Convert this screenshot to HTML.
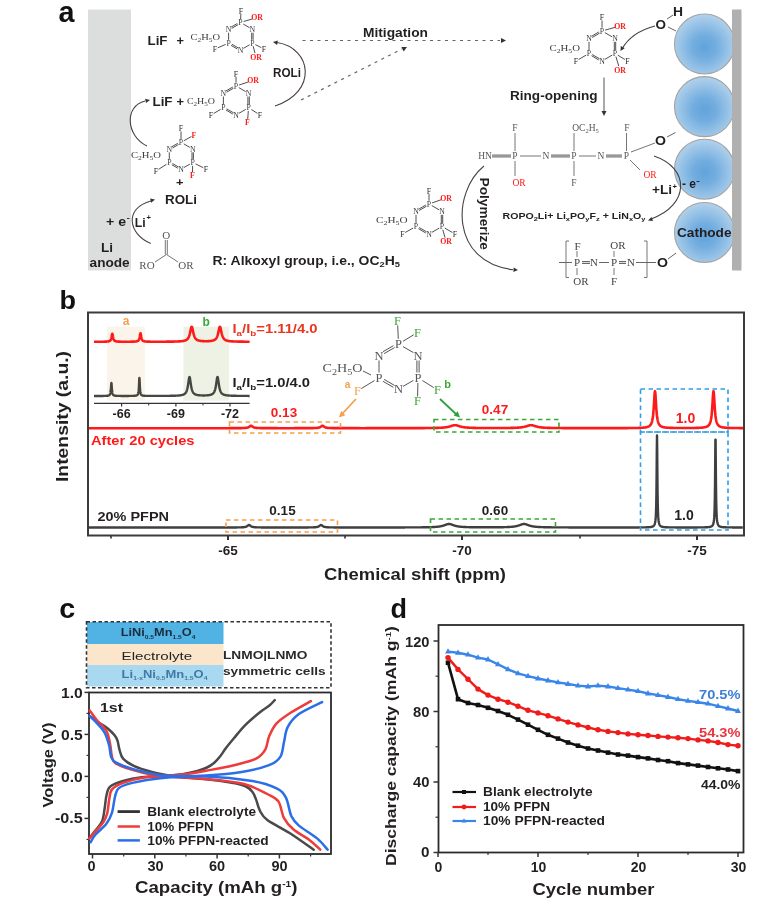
<!DOCTYPE html>
<html><head><meta charset="utf-8"><style>
html,body{margin:0;padding:0;background:#fff;width:784px;height:916px;overflow:hidden}
svg{display:block;filter:blur(0.45px)}
</style></head><body>
<svg width="784" height="916" viewBox="0 0 784 916">
<rect width="784" height="916" fill="#fff"/>
<text x="58.6" y="22.4" font-family="Liberation Sans" font-size="30" font-weight="bold" fill="#111" textLength="16" lengthAdjust="spacingAndGlyphs">a</text>
<rect x="88" y="9.6" width="43" height="260.8" fill="#dcdddd"/>
<text x="101.0" y="252.0" font-family="Liberation Sans" font-size="13" font-weight="bold" fill="#231f20" textLength="12.0" lengthAdjust="spacingAndGlyphs" >Li</text>
<text x="89.6" y="267.0" font-family="Liberation Sans" font-size="13" font-weight="bold" fill="#231f20" textLength="40.1" lengthAdjust="spacingAndGlyphs" >anode</text>
<text x="106.0" y="225.8" font-family="Liberation Sans" font-size="12" font-weight="bold" fill="#231f20" textLength="20.0" lengthAdjust="spacingAndGlyphs" >+ e</text>
<text x="126.5" y="219.5" font-family="Liberation Sans" font-size="7" font-weight="bold" fill="#231f20" textLength="3.5" lengthAdjust="spacingAndGlyphs" >-</text>
<text x="134.8" y="226.8" font-family="Liberation Sans" font-size="12.5" font-weight="bold" fill="#231f20" textLength="10.9" lengthAdjust="spacingAndGlyphs" >Li</text>
<text x="146.5" y="219.5" font-family="Liberation Sans" font-size="7" font-weight="bold" fill="#231f20" textLength="4.5" lengthAdjust="spacingAndGlyphs" >+</text>
<path d="M150.8,243.4 C128,234 124,208 151,201" stroke="#4a4040" stroke-width="1.1" fill="none" />
<polygon points="155.0,199.5 151.2,202.8 150.1,198.4" fill="#333"/>
<text x="165.0" y="203.7" font-family="Liberation Sans" font-size="13" font-weight="bold" fill="#231f20" textLength="32.0" lengthAdjust="spacingAndGlyphs" >ROLi</text>
<text x="176.0" y="186.1" font-family="Liberation Sans" font-size="11.5" font-weight="bold" fill="#231f20" textLength="7.5" lengthAdjust="spacingAndGlyphs" >+</text>
<text x="147.0" y="268.7" text-anchor="middle" font-family="Liberation Serif" font-size="11" font-weight="normal" fill="#555">RO</text>
<text x="186.0" y="268.7" text-anchor="middle" font-family="Liberation Serif" font-size="11" font-weight="normal" fill="#555">OR</text>
<text x="166.2" y="239.0" text-anchor="middle" font-family="Liberation Serif" font-size="11" font-weight="normal" fill="#555">O</text>
<line x1="155.0" y1="262.0" x2="166.5" y2="254.5" stroke="#666" stroke-width="0.9" />
<line x1="166.5" y1="254.5" x2="178.0" y2="262.0" stroke="#666" stroke-width="0.9" />
<line x1="165.3" y1="240.0" x2="165.3" y2="254.5" stroke="#666" stroke-width="0.9" />
<line x1="167.3" y1="240.0" x2="167.3" y2="254.5" stroke="#666" stroke-width="0.9" />
<line x1="177.8" y1="143.3" x2="171.8" y2="146.8" stroke="#3c3c3c" stroke-width="0.9" />
<line x1="178.5" y1="144.5" x2="172.5" y2="148.0" stroke="#3c3c3c" stroke-width="0.9" />
<line x1="183.8" y1="143.9" x2="189.9" y2="147.4" stroke="#3c3c3c" stroke-width="0.9" />
<line x1="192.0" y1="152.3" x2="192.0" y2="159.2" stroke="#3c3c3c" stroke-width="0.9" />
<line x1="193.4" y1="152.3" x2="193.4" y2="159.2" stroke="#3c3c3c" stroke-width="0.9" />
<line x1="189.9" y1="164.1" x2="183.8" y2="167.6" stroke="#3c3c3c" stroke-width="0.9" />
<line x1="178.5" y1="167.0" x2="172.5" y2="163.5" stroke="#3c3c3c" stroke-width="0.9" />
<line x1="177.8" y1="168.2" x2="171.8" y2="164.7" stroke="#3c3c3c" stroke-width="0.9" />
<line x1="169.3" y1="159.2" x2="169.3" y2="152.3" stroke="#3c3c3c" stroke-width="0.9" />
<text x="181.0" y="144.9" text-anchor="middle" font-family="Liberation Serif" font-size="7.8" font-weight="normal" fill="#3c3c3c">P</text>
<text x="169.3" y="151.7" text-anchor="middle" font-family="Liberation Serif" font-size="7.8" font-weight="normal" fill="#3c3c3c">N</text>
<text x="192.7" y="151.7" text-anchor="middle" font-family="Liberation Serif" font-size="7.8" font-weight="normal" fill="#3c3c3c">N</text>
<text x="169.3" y="165.2" text-anchor="middle" font-family="Liberation Serif" font-size="7.8" font-weight="normal" fill="#3c3c3c">P</text>
<text x="181.0" y="171.9" text-anchor="middle" font-family="Liberation Serif" font-size="7.8" font-weight="normal" fill="#3c3c3c">N</text>
<text x="192.7" y="165.2" text-anchor="middle" font-family="Liberation Serif" font-size="7.8" font-weight="normal" fill="#3c3c3c">P</text>
<line x1="181.0" y1="139.0" x2="181.0" y2="131.5" stroke="#3c3c3c" stroke-width="0.9" />
<text x="181.0" y="131.2" text-anchor="middle" font-family="Liberation Serif" font-size="7.8" font-weight="normal" fill="#231f20">F</text>
<line x1="183.9" y1="140.7" x2="191.4" y2="136.5" stroke="#3c3c3c" stroke-width="0.9" />
<text x="194.0" y="137.7" text-anchor="middle" font-family="Liberation Serif" font-size="7.8" font-weight="bold" fill="#ff1a1a">F</text>
<line x1="166.5" y1="164.3" x2="158.5" y2="169.4" stroke="#3c3c3c" stroke-width="0.9" />
<text x="156.0" y="173.7" text-anchor="middle" font-family="Liberation Serif" font-size="7.8" font-weight="normal" fill="#231f20">F</text>
<line x1="192.6" y1="165.8" x2="192.5" y2="172.0" stroke="#3c3c3c" stroke-width="0.9" />
<text x="192.5" y="177.7" text-anchor="middle" font-family="Liberation Serif" font-size="7.8" font-weight="bold" fill="#ff1a1a">F</text>
<line x1="195.6" y1="163.9" x2="203.3" y2="167.7" stroke="#3c3c3c" stroke-width="0.9" />
<text x="206.0" y="171.7" text-anchor="middle" font-family="Liberation Serif" font-size="7.8" font-weight="normal" fill="#231f20">F</text>
<text x="131.0" y="158.0" font-family="Liberation Serif" font-size="8.5" font-weight="normal" fill="#3c3c3c" textLength="30.0" lengthAdjust="spacingAndGlyphs" >C<tspan font-size="6" dy="1.5">2</tspan><tspan dy="-1.5">H</tspan><tspan font-size="6" dy="1.5">5</tspan><tspan dy="-1.5">O</tspan></text>
<path d="M150,245 C150,245 150,245 150,245" stroke="none" stroke-width="1" fill="none" />
<path d="M147,146 C126,136 124,106 145,101" stroke="#4a4040" stroke-width="1.1" fill="none" />
<polygon points="150.0,100.0 146.0,103.1 145.1,98.7" fill="#333"/>
<text x="152.5" y="105.7" font-family="Liberation Sans" font-size="13" font-weight="bold" fill="#231f20" textLength="20.0" lengthAdjust="spacingAndGlyphs" >LiF</text>
<text x="176.5" y="105.8" font-family="Liberation Sans" font-size="12" font-weight="bold" fill="#231f20" textLength="7.5" lengthAdjust="spacingAndGlyphs" >+</text>
<text x="187.0" y="104.0" font-family="Liberation Serif" font-size="8.5" font-weight="normal" fill="#3c3c3c" textLength="28.0" lengthAdjust="spacingAndGlyphs" >C<tspan font-size="6" dy="1.5">2</tspan><tspan dy="-1.5">H</tspan><tspan font-size="6" dy="1.5">5</tspan><tspan dy="-1.5">O</tspan></text>
<line x1="232.8" y1="87.0" x2="225.9" y2="91.0" stroke="#3c3c3c" stroke-width="0.9" />
<line x1="233.5" y1="88.2" x2="226.6" y2="92.2" stroke="#3c3c3c" stroke-width="0.9" />
<line x1="238.8" y1="87.6" x2="245.7" y2="91.6" stroke="#3c3c3c" stroke-width="0.9" />
<line x1="247.9" y1="96.5" x2="247.9" y2="104.5" stroke="#3c3c3c" stroke-width="0.9" />
<line x1="249.3" y1="96.5" x2="249.3" y2="104.5" stroke="#3c3c3c" stroke-width="0.9" />
<line x1="245.7" y1="109.4" x2="238.8" y2="113.4" stroke="#3c3c3c" stroke-width="0.9" />
<line x1="233.5" y1="112.8" x2="226.6" y2="108.8" stroke="#3c3c3c" stroke-width="0.9" />
<line x1="232.8" y1="114.0" x2="225.9" y2="110.0" stroke="#3c3c3c" stroke-width="0.9" />
<line x1="223.4" y1="104.5" x2="223.4" y2="96.5" stroke="#3c3c3c" stroke-width="0.9" />
<text x="236.0" y="88.7" text-anchor="middle" font-family="Liberation Serif" font-size="7.8" font-weight="normal" fill="#3c3c3c">P</text>
<text x="223.4" y="95.9" text-anchor="middle" font-family="Liberation Serif" font-size="7.8" font-weight="normal" fill="#3c3c3c">N</text>
<text x="248.6" y="95.9" text-anchor="middle" font-family="Liberation Serif" font-size="7.8" font-weight="normal" fill="#3c3c3c">N</text>
<text x="223.4" y="110.4" text-anchor="middle" font-family="Liberation Serif" font-size="7.8" font-weight="normal" fill="#3c3c3c">P</text>
<text x="236.0" y="117.7" text-anchor="middle" font-family="Liberation Serif" font-size="7.8" font-weight="normal" fill="#3c3c3c">N</text>
<text x="248.6" y="110.4" text-anchor="middle" font-family="Liberation Serif" font-size="7.8" font-weight="normal" fill="#3c3c3c">P</text>
<line x1="236.0" y1="82.7" x2="236.0" y2="77.0" stroke="#3c3c3c" stroke-width="0.9" />
<text x="236.0" y="76.7" text-anchor="middle" font-family="Liberation Serif" font-size="7.8" font-weight="normal" fill="#231f20">F</text>
<line x1="239.1" y1="85.0" x2="248.2" y2="82.0" stroke="#3c3c3c" stroke-width="0.9" />
<text x="253.0" y="83.2" text-anchor="middle" font-family="Liberation Serif" font-size="7.8" font-weight="bold" fill="#ff1a1a">OR</text>
<line x1="220.6" y1="109.4" x2="213.6" y2="113.5" stroke="#3c3c3c" stroke-width="0.9" />
<text x="211.0" y="117.7" text-anchor="middle" font-family="Liberation Serif" font-size="7.8" font-weight="normal" fill="#231f20">F</text>
<line x1="248.3" y1="111.0" x2="247.7" y2="119.5" stroke="#3c3c3c" stroke-width="0.9" />
<text x="247.5" y="125.2" text-anchor="middle" font-family="Liberation Serif" font-size="7.8" font-weight="bold" fill="#ff1a1a">F</text>
<line x1="251.3" y1="109.5" x2="257.5" y2="113.4" stroke="#3c3c3c" stroke-width="0.9" />
<text x="260.0" y="117.7" text-anchor="middle" font-family="Liberation Serif" font-size="7.8" font-weight="normal" fill="#231f20">F</text>
<text x="147.5" y="44.7" font-family="Liberation Sans" font-size="13" font-weight="bold" fill="#231f20" textLength="20.0" lengthAdjust="spacingAndGlyphs" >LiF</text>
<text x="176.5" y="44.8" font-family="Liberation Sans" font-size="12" font-weight="bold" fill="#231f20" textLength="7.5" lengthAdjust="spacingAndGlyphs" >+</text>
<text x="190.5" y="40.0" font-family="Liberation Serif" font-size="8.5" font-weight="normal" fill="#3c3c3c" textLength="29.5" lengthAdjust="spacingAndGlyphs" >C<tspan font-size="6" dy="1.5">2</tspan><tspan dy="-1.5">H</tspan><tspan font-size="6" dy="1.5">5</tspan><tspan dy="-1.5">O</tspan></text>
<line x1="237.3" y1="23.5" x2="231.1" y2="27.1" stroke="#3c3c3c" stroke-width="0.9" />
<line x1="238.0" y1="24.7" x2="231.8" y2="28.3" stroke="#3c3c3c" stroke-width="0.9" />
<line x1="243.3" y1="24.1" x2="249.6" y2="27.7" stroke="#3c3c3c" stroke-width="0.9" />
<line x1="251.7" y1="32.7" x2="251.7" y2="39.8" stroke="#3c3c3c" stroke-width="0.9" />
<line x1="253.1" y1="32.7" x2="253.1" y2="39.8" stroke="#3c3c3c" stroke-width="0.9" />
<line x1="249.6" y1="44.8" x2="243.3" y2="48.4" stroke="#3c3c3c" stroke-width="0.9" />
<line x1="238.0" y1="47.8" x2="231.8" y2="44.2" stroke="#3c3c3c" stroke-width="0.9" />
<line x1="237.3" y1="49.0" x2="231.1" y2="45.4" stroke="#3c3c3c" stroke-width="0.9" />
<line x1="228.6" y1="39.8" x2="228.6" y2="32.7" stroke="#3c3c3c" stroke-width="0.9" />
<text x="240.5" y="25.2" text-anchor="middle" font-family="Liberation Serif" font-size="7.8" font-weight="normal" fill="#3c3c3c">P</text>
<text x="228.6" y="32.0" text-anchor="middle" font-family="Liberation Serif" font-size="7.8" font-weight="normal" fill="#3c3c3c">N</text>
<text x="252.4" y="32.0" text-anchor="middle" font-family="Liberation Serif" font-size="7.8" font-weight="normal" fill="#3c3c3c">N</text>
<text x="228.6" y="45.8" text-anchor="middle" font-family="Liberation Serif" font-size="7.8" font-weight="normal" fill="#3c3c3c">P</text>
<text x="240.5" y="52.7" text-anchor="middle" font-family="Liberation Serif" font-size="7.8" font-weight="normal" fill="#3c3c3c">N</text>
<text x="252.4" y="45.8" text-anchor="middle" font-family="Liberation Serif" font-size="7.8" font-weight="normal" fill="#3c3c3c">P</text>
<line x1="240.6" y1="19.2" x2="240.9" y2="14.0" stroke="#3c3c3c" stroke-width="0.9" />
<text x="241.0" y="13.7" text-anchor="middle" font-family="Liberation Serif" font-size="7.8" font-weight="normal" fill="#231f20">F</text>
<line x1="243.6" y1="21.5" x2="252.2" y2="19.0" stroke="#3c3c3c" stroke-width="0.9" />
<text x="257.0" y="20.2" text-anchor="middle" font-family="Liberation Serif" font-size="7.8" font-weight="bold" fill="#ff1a1a">OR</text>
<line x1="225.6" y1="44.4" x2="217.8" y2="47.8" stroke="#3c3c3c" stroke-width="0.9" />
<text x="215.0" y="51.7" text-anchor="middle" font-family="Liberation Serif" font-size="7.8" font-weight="normal" fill="#231f20">F</text>
<line x1="253.2" y1="46.3" x2="255.0" y2="53.1" stroke="#3c3c3c" stroke-width="0.9" />
<text x="256.0" y="59.7" text-anchor="middle" font-family="Liberation Serif" font-size="7.8" font-weight="bold" fill="#ff1a1a">OR</text>
<line x1="255.3" y1="44.6" x2="261.3" y2="47.6" stroke="#3c3c3c" stroke-width="0.9" />
<text x="264.0" y="51.7" text-anchor="middle" font-family="Liberation Serif" font-size="7.8" font-weight="normal" fill="#231f20">F</text>
<path d="M275,106 C318,92 312,48 277,42.5" stroke="#4a4040" stroke-width="1.1" fill="none" />
<polygon points="273.0,42.0 277.8,40.5 277.1,44.9" fill="#333"/>
<text x="273.0" y="76.7" font-family="Liberation Sans" font-size="13" font-weight="bold" fill="#231f20" textLength="28.0" lengthAdjust="spacingAndGlyphs" >ROLi</text>
<line x1="302.5" y1="40.5" x2="500.0" y2="40.5" stroke="#666" stroke-width="1.2" stroke-dasharray="3,4.5"/>
<polygon points="506.0,40.5 501.0,43.0 501.0,38.0" fill="#333"/>
<line x1="301.0" y1="100.0" x2="402.0" y2="49.0" stroke="#666" stroke-width="1.2" stroke-dasharray="3,4.5"/>
<polygon points="407.0,47.0 403.7,51.5 401.4,47.0" fill="#333"/>
<text x="363.0" y="37.3" font-family="Liberation Sans" font-size="13.5" font-weight="bold" fill="#231f20" textLength="65.0" lengthAdjust="spacingAndGlyphs" >Mitigation</text>
<text x="549.5" y="51.0" font-family="Liberation Serif" font-size="8.5" font-weight="normal" fill="#3c3c3c" textLength="30.5" lengthAdjust="spacingAndGlyphs" >C<tspan font-size="6" dy="1.5">2</tspan><tspan dy="-1.5">H</tspan><tspan font-size="6" dy="1.5">5</tspan><tspan dy="-1.5">O</tspan></text>
<line x1="598.8" y1="32.0" x2="591.5" y2="36.3" stroke="#3c3c3c" stroke-width="0.9" />
<line x1="599.5" y1="33.2" x2="592.2" y2="37.5" stroke="#3c3c3c" stroke-width="0.9" />
<line x1="604.8" y1="32.6" x2="612.2" y2="36.9" stroke="#3c3c3c" stroke-width="0.9" />
<line x1="614.3" y1="41.8" x2="614.3" y2="50.2" stroke="#3c3c3c" stroke-width="0.9" />
<line x1="615.7" y1="41.8" x2="615.7" y2="50.2" stroke="#3c3c3c" stroke-width="0.9" />
<line x1="612.2" y1="55.1" x2="604.8" y2="59.4" stroke="#3c3c3c" stroke-width="0.9" />
<line x1="599.5" y1="58.8" x2="592.2" y2="54.5" stroke="#3c3c3c" stroke-width="0.9" />
<line x1="598.8" y1="60.0" x2="591.5" y2="55.7" stroke="#3c3c3c" stroke-width="0.9" />
<line x1="589.0" y1="50.2" x2="589.0" y2="41.8" stroke="#3c3c3c" stroke-width="0.9" />
<text x="602.0" y="33.7" text-anchor="middle" font-family="Liberation Serif" font-size="7.8" font-weight="normal" fill="#3c3c3c">P</text>
<text x="589.0" y="41.2" text-anchor="middle" font-family="Liberation Serif" font-size="7.8" font-weight="normal" fill="#3c3c3c">N</text>
<text x="615.0" y="41.2" text-anchor="middle" font-family="Liberation Serif" font-size="7.8" font-weight="normal" fill="#3c3c3c">N</text>
<text x="589.0" y="56.2" text-anchor="middle" font-family="Liberation Serif" font-size="7.8" font-weight="normal" fill="#3c3c3c">P</text>
<text x="602.0" y="63.7" text-anchor="middle" font-family="Liberation Serif" font-size="7.8" font-weight="normal" fill="#3c3c3c">N</text>
<text x="615.0" y="56.2" text-anchor="middle" font-family="Liberation Serif" font-size="7.8" font-weight="normal" fill="#3c3c3c">P</text>
<line x1="602.0" y1="27.7" x2="602.0" y2="20.5" stroke="#3c3c3c" stroke-width="0.9" />
<text x="602.0" y="20.2" text-anchor="middle" font-family="Liberation Serif" font-size="7.8" font-weight="normal" fill="#231f20">F</text>
<line x1="605.2" y1="30.1" x2="615.2" y2="27.3" stroke="#3c3c3c" stroke-width="0.9" />
<text x="620.0" y="28.7" text-anchor="middle" font-family="Liberation Serif" font-size="7.8" font-weight="bold" fill="#ff1a1a">OR</text>
<line x1="586.2" y1="55.1" x2="578.6" y2="59.5" stroke="#3c3c3c" stroke-width="0.9" />
<text x="576.0" y="63.7" text-anchor="middle" font-family="Liberation Serif" font-size="7.8" font-weight="normal" fill="#231f20">F</text>
<line x1="615.9" y1="56.6" x2="618.8" y2="66.2" stroke="#3c3c3c" stroke-width="0.9" />
<text x="620.0" y="72.7" text-anchor="middle" font-family="Liberation Serif" font-size="7.8" font-weight="bold" fill="#ff1a1a">OR</text>
<line x1="617.8" y1="55.2" x2="624.9" y2="59.5" stroke="#3c3c3c" stroke-width="0.9" />
<text x="627.5" y="63.7" text-anchor="middle" font-family="Liberation Serif" font-size="7.8" font-weight="normal" fill="#231f20">F</text>
<text x="655.5" y="28.7" font-family="Liberation Sans" font-size="13" font-weight="bold" fill="#231f20" textLength="10.5" lengthAdjust="spacingAndGlyphs" >O</text>
<text x="673.0" y="15.7" font-family="Liberation Sans" font-size="13" font-weight="bold" fill="#231f20" textLength="10.0" lengthAdjust="spacingAndGlyphs" >H</text>
<line x1="667.0" y1="19.0" x2="673.0" y2="15.0" stroke="#555" stroke-width="0.9" />
<path d="M655,26 C640,30 628,38 622,49" stroke="#4a4040" stroke-width="1.1" fill="none" />
<polygon points="620.5,51.0 620.8,46.0 624.7,48.3" fill="#333"/>
<text x="510.0" y="99.7" font-family="Liberation Sans" font-size="13" font-weight="bold" fill="#231f20" textLength="87.5" lengthAdjust="spacingAndGlyphs" >Ring-opening</text>
<line x1="604.0" y1="77.5" x2="604.0" y2="111.0" stroke="#555" stroke-width="1" />
<polygon points="604.0,116.0 601.5,111.0 606.5,111.0" fill="#333"/>
<text x="485.0" y="159.2" text-anchor="middle" font-family="Liberation Serif" font-size="9.5" font-weight="normal" fill="#555">HN</text>
<line x1="492.0" y1="156.9" x2="511.0" y2="156.9" stroke="#555" stroke-width="1" />
<line x1="492.0" y1="155.1" x2="511.0" y2="155.1" stroke="#555" stroke-width="1" />
<text x="515.0" y="159.2" text-anchor="middle" font-family="Liberation Serif" font-size="9.5" font-weight="normal" fill="#555">P</text>
<line x1="515.0" y1="133.0" x2="515.0" y2="151.0" stroke="#666" stroke-width="0.9" />
<text x="515.0" y="130.7" text-anchor="middle" font-family="Liberation Serif" font-size="9.5" font-weight="normal" fill="#555">F</text>
<line x1="515.0" y1="161.0" x2="515.0" y2="176.0" stroke="#666" stroke-width="0.9" />
<text x="519.0" y="185.7" text-anchor="middle" font-family="Liberation Serif" font-size="9.5" font-weight="normal" fill="#ff1a1a">OR</text>
<line x1="520.0" y1="156.0" x2="541.0" y2="156.0" stroke="#666" stroke-width="0.9" />
<text x="546.0" y="159.2" text-anchor="middle" font-family="Liberation Serif" font-size="9.5" font-weight="normal" fill="#555">N</text>
<line x1="551.0" y1="156.9" x2="570.0" y2="156.9" stroke="#555" stroke-width="1" />
<line x1="551.0" y1="155.1" x2="570.0" y2="155.1" stroke="#555" stroke-width="1" />
<text x="574.0" y="159.2" text-anchor="middle" font-family="Liberation Serif" font-size="9.5" font-weight="normal" fill="#555">P</text>
<line x1="574.0" y1="133.0" x2="574.0" y2="151.0" stroke="#666" stroke-width="0.9" />
<text x="585.5" y="131.2" text-anchor="middle" font-family="Liberation Serif" font-size="9.5" font-weight="normal" fill="#555">OC<tspan font-size="6.5" dy="1.5">2</tspan><tspan dy="-1.5">H</tspan><tspan font-size="6.5" dy="1.5">5</tspan></text>
<line x1="574.0" y1="161.0" x2="574.0" y2="176.0" stroke="#666" stroke-width="0.9" />
<text x="574.0" y="185.7" text-anchor="middle" font-family="Liberation Serif" font-size="9.5" font-weight="normal" fill="#555">F</text>
<line x1="579.0" y1="156.0" x2="596.0" y2="156.0" stroke="#666" stroke-width="0.9" />
<text x="601.0" y="159.2" text-anchor="middle" font-family="Liberation Serif" font-size="9.5" font-weight="normal" fill="#555">N</text>
<line x1="606.0" y1="156.9" x2="622.0" y2="156.9" stroke="#555" stroke-width="1" />
<line x1="606.0" y1="155.1" x2="622.0" y2="155.1" stroke="#555" stroke-width="1" />
<text x="626.5" y="159.2" text-anchor="middle" font-family="Liberation Serif" font-size="9.5" font-weight="normal" fill="#555">P</text>
<line x1="626.5" y1="133.0" x2="626.5" y2="151.0" stroke="#666" stroke-width="0.9" />
<text x="627.0" y="131.2" text-anchor="middle" font-family="Liberation Serif" font-size="9.5" font-weight="normal" fill="#555">F</text>
<line x1="630.0" y1="160.0" x2="640.0" y2="170.0" stroke="#666" stroke-width="0.9" />
<text x="650.0" y="178.2" text-anchor="middle" font-family="Liberation Serif" font-size="9.5" font-weight="normal" fill="#ff1a1a">OR</text>
<line x1="631.0" y1="152.0" x2="655.0" y2="143.0" stroke="#666" stroke-width="0.9" />
<text x="655.0" y="145.2" font-family="Liberation Sans" font-size="13" font-weight="bold" fill="#231f20" textLength="11.0" lengthAdjust="spacingAndGlyphs" >O</text>
<line x1="667.0" y1="137.0" x2="675.5" y2="132.5" stroke="#555" stroke-width="0.9" />
<text x="502.5" y="219.0" font-family="Liberation Sans" font-size="8.5" font-weight="bold" fill="#231f20" textLength="143.0" lengthAdjust="spacingAndGlyphs" >ROPO<tspan font-size="6" dy="1.5">2</tspan><tspan dy="-1.5">Li+ Li</tspan><tspan font-size="6" dy="1.5">x</tspan><tspan dy="-1.5">PO</tspan><tspan font-size="6" dy="1.5">y</tspan><tspan dy="-1.5">F</tspan><tspan font-size="6" dy="1.5">z</tspan><tspan dy="-1.5"> + LiN</tspan><tspan font-size="6" dy="1.5">x</tspan><tspan dy="-1.5">O</tspan><tspan font-size="6" dy="1.5">y</tspan></text>
<text x="0" y="0" transform="translate(479.5,177.5) rotate(90)" font-family="Liberation Sans" font-size="12" font-weight="bold" fill="#231f20" textLength="72.5" lengthAdjust="spacingAndGlyphs">Polymerize</text>
<path d="M484,166 C452,192 450,262 513,269.8" stroke="#4a4040" stroke-width="1.1" fill="none" />
<polygon points="518.0,270.0 513.4,272.1 513.6,267.6" fill="#333"/>
<text x="376.0" y="223.0" font-family="Liberation Serif" font-size="8.5" font-weight="normal" fill="#3c3c3c" textLength="31.5" lengthAdjust="spacingAndGlyphs" >C<tspan font-size="6" dy="1.5">2</tspan><tspan dy="-1.5">H</tspan><tspan font-size="6" dy="1.5">5</tspan><tspan dy="-1.5">O</tspan></text>
<line x1="425.8" y1="205.0" x2="418.5" y2="209.3" stroke="#3c3c3c" stroke-width="0.9" />
<line x1="426.5" y1="206.2" x2="419.2" y2="210.5" stroke="#3c3c3c" stroke-width="0.9" />
<line x1="431.8" y1="205.6" x2="439.2" y2="209.9" stroke="#3c3c3c" stroke-width="0.9" />
<line x1="441.3" y1="214.8" x2="441.3" y2="223.2" stroke="#3c3c3c" stroke-width="0.9" />
<line x1="442.7" y1="214.8" x2="442.7" y2="223.2" stroke="#3c3c3c" stroke-width="0.9" />
<line x1="439.2" y1="228.1" x2="431.8" y2="232.4" stroke="#3c3c3c" stroke-width="0.9" />
<line x1="426.5" y1="231.8" x2="419.2" y2="227.5" stroke="#3c3c3c" stroke-width="0.9" />
<line x1="425.8" y1="233.0" x2="418.5" y2="228.7" stroke="#3c3c3c" stroke-width="0.9" />
<line x1="416.0" y1="223.2" x2="416.0" y2="214.8" stroke="#3c3c3c" stroke-width="0.9" />
<text x="429.0" y="206.7" text-anchor="middle" font-family="Liberation Serif" font-size="7.8" font-weight="normal" fill="#3c3c3c">P</text>
<text x="416.0" y="214.2" text-anchor="middle" font-family="Liberation Serif" font-size="7.8" font-weight="normal" fill="#3c3c3c">N</text>
<text x="442.0" y="214.2" text-anchor="middle" font-family="Liberation Serif" font-size="7.8" font-weight="normal" fill="#3c3c3c">N</text>
<text x="416.0" y="229.2" text-anchor="middle" font-family="Liberation Serif" font-size="7.8" font-weight="normal" fill="#3c3c3c">P</text>
<text x="429.0" y="236.7" text-anchor="middle" font-family="Liberation Serif" font-size="7.8" font-weight="normal" fill="#3c3c3c">N</text>
<text x="442.0" y="229.2" text-anchor="middle" font-family="Liberation Serif" font-size="7.8" font-weight="normal" fill="#3c3c3c">P</text>
<line x1="429.0" y1="200.7" x2="429.0" y2="194.0" stroke="#3c3c3c" stroke-width="0.9" />
<text x="429.0" y="193.7" text-anchor="middle" font-family="Liberation Serif" font-size="7.8" font-weight="normal" fill="#231f20">F</text>
<line x1="432.1" y1="202.9" x2="441.3" y2="199.7" stroke="#3c3c3c" stroke-width="0.9" />
<text x="446.0" y="200.7" text-anchor="middle" font-family="Liberation Serif" font-size="7.8" font-weight="bold" fill="#ff1a1a">OR</text>
<line x1="413.1" y1="228.1" x2="405.1" y2="232.5" stroke="#3c3c3c" stroke-width="0.9" />
<text x="402.5" y="236.7" text-anchor="middle" font-family="Liberation Serif" font-size="7.8" font-weight="normal" fill="#231f20">F</text>
<line x1="442.8" y1="229.7" x2="445.0" y2="237.6" stroke="#3c3c3c" stroke-width="0.9" />
<text x="446.0" y="244.2" text-anchor="middle" font-family="Liberation Serif" font-size="7.8" font-weight="bold" fill="#ff1a1a">OR</text>
<line x1="444.8" y1="228.1" x2="452.4" y2="232.5" stroke="#3c3c3c" stroke-width="0.9" />
<text x="455.0" y="236.7" text-anchor="middle" font-family="Liberation Serif" font-size="7.8" font-weight="normal" fill="#231f20">F</text>
<text x="212.5" y="265.3" font-family="Liberation Sans" font-size="12" font-weight="bold" fill="#231f20" textLength="187.5" lengthAdjust="spacingAndGlyphs" >R: Alkoxyl group, i.e.,  OC<tspan font-size="8" dy="2">2</tspan><tspan dy="-2">H</tspan><tspan font-size="8" dy="2">5</tspan></text>
<line x1="559.0" y1="262.5" x2="572.0" y2="262.5" stroke="#555" stroke-width="0.9" />
<path d="M569,241 L566,241 L566,277.5 L569,277.5" stroke="#666" stroke-width="0.9" fill="none" />
<text x="577.0" y="266.2" text-anchor="middle" font-family="Liberation Serif" font-size="11" font-weight="normal" fill="#444">P</text>
<line x1="577.0" y1="251.0" x2="577.0" y2="257.0" stroke="#666" stroke-width="0.9" />
<text x="577.5" y="249.7" text-anchor="middle" font-family="Liberation Serif" font-size="11" font-weight="normal" fill="#444">F</text>
<line x1="577.0" y1="268.0" x2="577.0" y2="275.0" stroke="#666" stroke-width="0.9" />
<text x="581.0" y="284.7" text-anchor="middle" font-family="Liberation Serif" font-size="11" font-weight="normal" fill="#444">OR</text>
<line x1="582.0" y1="263.4" x2="590.0" y2="263.4" stroke="#555" stroke-width="1" />
<line x1="582.0" y1="261.6" x2="590.0" y2="261.6" stroke="#555" stroke-width="1" />
<text x="594.0" y="266.2" text-anchor="middle" font-family="Liberation Serif" font-size="11" font-weight="normal" fill="#444">N</text>
<line x1="599.0" y1="262.5" x2="609.0" y2="262.5" stroke="#555" stroke-width="0.9" />
<text x="614.0" y="266.2" text-anchor="middle" font-family="Liberation Serif" font-size="11" font-weight="normal" fill="#444">P</text>
<line x1="614.0" y1="251.0" x2="614.0" y2="257.0" stroke="#666" stroke-width="0.9" />
<text x="618.0" y="248.7" text-anchor="middle" font-family="Liberation Serif" font-size="11" font-weight="normal" fill="#444">OR</text>
<line x1="614.0" y1="268.0" x2="614.0" y2="275.0" stroke="#666" stroke-width="0.9" />
<text x="614.0" y="284.7" text-anchor="middle" font-family="Liberation Serif" font-size="11" font-weight="normal" fill="#444">F</text>
<line x1="619.0" y1="263.4" x2="626.0" y2="263.4" stroke="#555" stroke-width="1" />
<line x1="619.0" y1="261.6" x2="626.0" y2="261.6" stroke="#555" stroke-width="1" />
<text x="631.0" y="266.2" text-anchor="middle" font-family="Liberation Serif" font-size="11" font-weight="normal" fill="#444">N</text>
<line x1="636.0" y1="262.5" x2="656.0" y2="262.5" stroke="#555" stroke-width="0.9" />
<path d="M644,241 L647,241 L647,277.5 L644,277.5" stroke="#666" stroke-width="0.9" fill="none" />
<text x="657.0" y="267.2" font-family="Liberation Sans" font-size="13" font-weight="bold" fill="#231f20" textLength="11.0" lengthAdjust="spacingAndGlyphs" >O</text>
<line x1="668.0" y1="259.0" x2="676.0" y2="253.0" stroke="#555" stroke-width="0.9" />
<defs><radialGradient id="cg" cx="0.5" cy="0.55" r="0.55"><stop offset="0" stop-color="#62a3d8"/><stop offset="0.35" stop-color="#72ade0"/><stop offset="1" stop-color="#b3d2eb"/></radialGradient></defs>
<circle cx="704.5" cy="44" r="30" fill="url(#cg)" stroke="#a3a3a3" stroke-width="1.1"/>
<circle cx="704.5" cy="106.6" r="30" fill="url(#cg)" stroke="#a3a3a3" stroke-width="1.1"/>
<circle cx="704.5" cy="169.2" r="30" fill="url(#cg)" stroke="#a3a3a3" stroke-width="1.1"/>
<circle cx="704.5" cy="232.5" r="30" fill="url(#cg)" stroke="#a3a3a3" stroke-width="1.1"/>
<rect x="732" y="9.5" width="9.5" height="261" fill="#b0b0b0"/>
<line x1="676.0" y1="31.0" x2="668.0" y2="27.0" stroke="#555" stroke-width="0.9" />
<text x="677.0" y="237.0" font-family="Liberation Sans" font-size="12.5" font-weight="bold" fill="#231f20" textLength="54.5" lengthAdjust="spacingAndGlyphs" >Cathode</text>
<path d="M654,156 C690,168 690,205 651,219" stroke="#4a4040" stroke-width="1.1" fill="none" />
<polygon points="648.0,220.5 651.5,216.9 653.0,221.1" fill="#333"/>
<text x="652.0" y="194.3" font-family="Liberation Sans" font-size="12" font-weight="bold" fill="#231f20" textLength="20.0" lengthAdjust="spacingAndGlyphs" >+Li</text>
<text x="672.5" y="188.5" font-family="Liberation Sans" font-size="7" font-weight="bold" fill="#231f20" textLength="4.5" lengthAdjust="spacingAndGlyphs" >+</text>
<text x="682.0" y="188.3" font-family="Liberation Sans" font-size="12" font-weight="bold" fill="#231f20" textLength="14.0" lengthAdjust="spacingAndGlyphs" >- e</text>
<text x="696.0" y="182.5" font-family="Liberation Sans" font-size="7" font-weight="bold" fill="#231f20" textLength="4.0" lengthAdjust="spacingAndGlyphs" >-</text>
<text x="59.6" y="309.3" font-family="Liberation Sans" font-size="26.5" font-weight="bold" fill="#111" textLength="16.5" lengthAdjust="spacingAndGlyphs">b</text>
<rect x="107" y="326.6" width="37.8" height="74" fill="#fbf4ea"/>
<rect x="183.4" y="326.6" width="45.6" height="74" fill="#edf2e4"/>
<rect x="88" y="312.5" width="656" height="223" fill="none" stroke="#3c3c3c" stroke-width="2"/>
<polyline points="94.00,341.77 94.20,341.77 94.40,341.77 94.60,341.77 94.80,341.77 95.00,341.76 95.20,341.76 95.40,341.76 95.60,341.76 95.80,341.76 96.00,341.76 96.20,341.76 96.40,341.76 96.60,341.76 96.80,341.76 97.00,341.76 97.20,341.76 97.40,341.76 97.60,341.76 97.80,341.75 98.00,341.75 98.20,341.75 98.40,341.75 98.60,341.75 98.80,341.75 99.00,341.75 99.20,341.75 99.40,341.75 99.60,341.74 99.80,341.74 100.00,341.74 100.20,341.74 100.40,341.74 100.60,341.74 100.80,341.74 101.00,341.73 101.20,341.73 101.40,341.73 101.60,341.73 101.80,341.73 102.00,341.72 102.20,341.72 102.40,341.72 102.60,341.72 102.80,341.71 103.00,341.71 103.20,341.71 103.40,341.70 103.60,341.70 103.80,341.69 104.00,341.69 104.20,341.68 104.40,341.68 104.60,341.67 104.80,341.67 105.00,341.66 105.20,341.66 105.40,341.65 105.60,341.64 105.80,341.63 106.00,341.62 106.20,341.61 106.40,341.60 106.60,341.59 106.80,341.57 107.00,341.56 107.20,341.54 107.40,341.52 107.60,341.50 107.80,341.47 108.00,341.44 108.20,341.41 108.40,341.38 108.60,341.33 108.80,341.28 109.00,341.23 109.20,341.16 109.40,341.08 109.60,340.98 109.80,340.86 110.00,340.72 110.20,340.54 110.40,340.31 110.60,340.03 110.80,339.66 111.00,339.19 111.20,338.57 111.40,337.78 111.60,336.79 111.80,335.66 112.00,334.58 112.20,333.87 112.40,333.87 112.60,334.58 112.80,335.66 113.00,336.79 113.20,337.78 113.40,338.57 113.60,339.18 113.80,339.66 114.00,340.02 114.20,340.31 114.40,340.53 114.60,340.71 114.80,340.86 115.00,340.97 115.20,341.07 115.40,341.15 115.60,341.22 115.80,341.28 116.00,341.33 116.20,341.37 116.40,341.40 116.60,341.44 116.80,341.46 117.00,341.49 117.20,341.51 117.40,341.53 117.60,341.55 117.80,341.56 118.00,341.58 118.20,341.59 118.40,341.60 118.60,341.61 118.80,341.62 119.00,341.63 119.20,341.63 119.40,341.64 119.60,341.65 119.80,341.65 120.00,341.66 120.20,341.66 120.40,341.67 120.60,341.67 120.80,341.68 121.00,341.68 121.20,341.68 121.40,341.69 121.60,341.69 121.80,341.69 122.00,341.69 122.20,341.70 122.40,341.70 122.60,341.70 122.80,341.70 123.00,341.70 123.20,341.70 123.40,341.70 123.60,341.71 123.80,341.71 124.00,341.71 124.20,341.71 124.40,341.71 124.60,341.71 124.80,341.71 125.00,341.71 125.20,341.71 125.40,341.71 125.60,341.71 125.80,341.71 126.00,341.71 126.20,341.71 126.40,341.71 126.60,341.71 126.80,341.71 127.00,341.71 127.20,341.71 127.40,341.71 127.60,341.71 127.80,341.71 128.00,341.71 128.20,341.71 128.40,341.71 128.60,341.71 128.80,341.70 129.00,341.70 129.20,341.70 129.40,341.70 129.60,341.70 129.80,341.70 130.00,341.69 130.20,341.69 130.40,341.69 130.60,341.69 130.80,341.68 131.00,341.68 131.20,341.68 131.40,341.68 131.60,341.67 131.80,341.67 132.00,341.66 132.20,341.66 132.40,341.66 132.60,341.65 132.80,341.64 133.00,341.64 133.20,341.63 133.40,341.63 133.60,341.62 133.80,341.61 134.00,341.60 134.20,341.59 134.40,341.58 134.60,341.57 134.80,341.55 135.00,341.54 135.20,341.52 135.40,341.50 135.60,341.48 135.80,341.46 136.00,341.43 136.20,341.40 136.40,341.37 136.60,341.33 136.80,341.29 137.00,341.23 137.20,341.17 137.40,341.10 137.60,341.01 137.80,340.91 138.00,340.79 138.20,340.63 138.40,340.44 138.60,340.20 138.80,339.90 139.00,339.51 139.20,339.01 139.40,338.35 139.60,337.51 139.80,336.46 140.00,335.26 140.20,334.11 140.40,333.36 140.60,333.36 140.80,334.11 141.00,335.26 141.20,336.46 141.40,337.51 141.60,338.35 141.80,339.00 142.00,339.51 142.20,339.90 142.40,340.20 142.60,340.44 142.80,340.63 143.00,340.78 143.20,340.91 143.40,341.01 143.60,341.10 143.80,341.17 144.00,341.23 144.20,341.28 144.40,341.33 144.60,341.37 144.80,341.40 145.00,341.43 145.20,341.45 145.40,341.48 145.60,341.50 145.80,341.52 146.00,341.53 146.20,341.55 146.40,341.56 146.60,341.57 146.80,341.58 147.00,341.59 147.20,341.60 147.40,341.61 147.60,341.62 147.80,341.62 148.00,341.63 148.20,341.64 148.40,341.64 148.60,341.65 148.80,341.65 149.00,341.66 149.20,341.66 149.40,341.66 149.60,341.67 149.80,341.67 150.00,341.67 150.20,341.68 150.40,341.68 150.60,341.68 150.80,341.68 151.00,341.68 151.20,341.69 151.40,341.69 151.60,341.69 151.80,341.69 152.00,341.69 152.20,341.69 152.40,341.70 152.60,341.70 152.80,341.70 153.00,341.70 153.20,341.70 153.40,341.70 153.60,341.70 153.80,341.70 154.00,341.70 154.20,341.70 154.40,341.70 154.60,341.70 154.80,341.70 155.00,341.71 155.20,341.71 155.40,341.71 155.60,341.71 155.80,341.71 156.00,341.71 156.20,341.71 156.40,341.71 156.60,341.71 156.80,341.71 157.00,341.71 157.20,341.71 157.40,341.71 157.60,341.71 157.80,341.71 158.00,341.71 158.20,341.71 158.40,341.71 158.60,341.71 158.80,341.71 159.00,341.70 159.20,341.70 159.40,341.70 159.60,341.70 159.80,341.70 160.00,341.70 160.20,341.70 160.40,341.70 160.60,341.70 160.80,341.70 161.00,341.70 161.20,341.70 161.40,341.70 161.60,341.70 161.80,341.70 162.00,341.70 162.20,341.70 162.40,341.70 162.60,341.69 162.80,341.69 163.00,341.69 163.20,341.69 163.40,341.69 163.60,341.69 163.80,341.69 164.00,341.69 164.20,341.69 164.40,341.69 164.60,341.68 164.80,341.68 165.00,341.68 165.20,341.68 165.40,341.68 165.60,341.68 165.80,341.68 166.00,341.68 166.20,341.67 166.40,341.67 166.60,341.67 166.80,341.67 167.00,341.67 167.20,341.67 167.40,341.67 167.60,341.66 167.80,341.66 168.00,341.66 168.20,341.66 168.40,341.66 168.60,341.65 168.80,341.65 169.00,341.65 169.20,341.65 169.40,341.65 169.60,341.64 169.80,341.64 170.00,341.64 170.20,341.64 170.40,341.63 170.60,341.63 170.80,341.63 171.00,341.63 171.20,341.62 171.40,341.62 171.60,341.62 171.80,341.62 172.00,341.61 172.20,341.61 172.40,341.61 172.60,341.60 172.80,341.60 173.00,341.59 173.20,341.59 173.40,341.59 173.60,341.58 173.80,341.58 174.00,341.57 174.20,341.57 174.40,341.57 174.60,341.56 174.80,341.56 175.00,341.55 175.20,341.55 175.40,341.54 175.60,341.53 175.80,341.53 176.00,341.52 176.20,341.52 176.40,341.51 176.60,341.50 176.80,341.50 177.00,341.49 177.20,341.48 177.40,341.47 177.60,341.46 177.80,341.46 178.00,341.45 178.20,341.44 178.40,341.43 178.60,341.42 178.80,341.41 179.00,341.40 179.20,341.38 179.40,341.37 179.60,341.36 179.80,341.34 180.00,341.33 180.20,341.32 180.40,341.30 180.60,341.28 180.80,341.27 181.00,341.25 181.20,341.23 181.40,341.21 181.60,341.19 181.80,341.17 182.00,341.14 182.20,341.12 182.40,341.09 182.60,341.06 182.80,341.03 183.00,341.00 183.20,340.96 183.40,340.93 183.60,340.89 183.80,340.85 184.00,340.80 184.20,340.75 184.40,340.70 184.60,340.64 184.80,340.58 185.00,340.52 185.20,340.45 185.40,340.37 185.60,340.29 185.80,340.20 186.00,340.10 186.20,339.99 186.40,339.87 186.60,339.74 186.80,339.60 187.00,339.44 187.20,339.27 187.40,339.07 187.60,338.86 187.80,338.61 188.00,338.35 188.20,338.04 188.40,337.71 188.60,337.33 188.80,336.90 189.00,336.42 189.20,335.88 189.40,335.27 189.60,334.60 189.80,333.85 190.00,333.02 190.20,332.13 190.40,331.18 190.60,330.21 190.80,329.25 191.00,328.36 191.20,327.61 191.40,327.05 191.60,326.76 191.80,326.76 192.00,327.05 192.20,327.60 192.40,328.35 192.60,329.24 192.80,330.20 193.00,331.17 193.20,332.11 193.40,333.00 193.60,333.83 193.80,334.57 194.00,335.25 194.20,335.85 194.40,336.39 194.60,336.87 194.80,337.29 195.00,337.67 195.20,338.01 195.40,338.31 195.60,338.57 195.80,338.81 196.00,339.02 196.20,339.22 196.40,339.39 196.60,339.55 196.80,339.69 197.00,339.81 197.20,339.93 197.40,340.04 197.60,340.13 197.80,340.22 198.00,340.30 198.20,340.37 198.40,340.44 198.60,340.50 198.80,340.56 199.00,340.61 199.20,340.66 199.40,340.71 199.60,340.75 199.80,340.79 200.00,340.82 200.20,340.86 200.40,340.89 200.60,340.92 200.80,340.94 201.00,340.97 201.20,340.99 201.40,341.01 201.60,341.03 201.80,341.05 202.00,341.07 202.20,341.08 202.40,341.10 202.60,341.11 202.80,341.12 203.00,341.13 203.20,341.15 203.40,341.15 203.60,341.16 203.80,341.17 204.00,341.18 204.20,341.18 204.40,341.19 204.60,341.19 204.80,341.20 205.00,341.20 205.20,341.20 205.40,341.20 205.60,341.21 205.80,341.21 206.00,341.21 206.20,341.20 206.40,341.20 206.60,341.20 206.80,341.20 207.00,341.19 207.20,341.19 207.40,341.18 207.60,341.18 207.80,341.17 208.00,341.16 208.20,341.15 208.40,341.15 208.60,341.14 208.80,341.12 209.00,341.11 209.20,341.10 209.40,341.08 209.60,341.07 209.80,341.05 210.00,341.03 210.20,341.01 210.40,340.99 210.60,340.97 210.80,340.94 211.00,340.92 211.20,340.89 211.40,340.86 211.60,340.82 211.80,340.79 212.00,340.75 212.20,340.71 212.40,340.66 212.60,340.61 212.80,340.56 213.00,340.50 213.20,340.44 213.40,340.37 213.60,340.30 213.80,340.22 214.00,340.13 214.20,340.04 214.40,339.93 214.60,339.81 214.80,339.69 215.00,339.55 215.20,339.39 215.40,339.22 215.60,339.03 215.80,338.81 216.00,338.57 216.20,338.31 216.40,338.01 216.60,337.67 216.80,337.30 217.00,336.87 217.20,336.39 217.40,335.85 217.60,335.25 217.80,334.58 218.00,333.83 218.20,333.01 218.40,332.11 218.60,331.17 218.80,330.20 219.00,329.24 219.20,328.36 219.40,327.60 219.60,327.05 219.80,326.76 220.00,326.76 220.20,327.05 220.40,327.61 220.60,328.36 220.80,329.25 221.00,330.21 221.20,331.18 221.40,332.13 221.60,333.02 221.80,333.85 222.00,334.60 222.20,335.28 222.40,335.88 222.60,336.42 222.80,336.90 223.00,337.33 223.20,337.71 223.40,338.05 223.60,338.35 223.80,338.62 224.00,338.86 224.20,339.07 224.40,339.27 224.60,339.44 224.80,339.60 225.00,339.75 225.20,339.88 225.40,339.99 225.60,340.10 225.80,340.20 226.00,340.29 226.20,340.38 226.40,340.45 226.60,340.52 226.80,340.59 227.00,340.65 227.20,340.70 227.40,340.76 227.60,340.80 227.80,340.85 228.00,340.89 228.20,340.93 228.40,340.97 228.60,341.00 228.80,341.03 229.00,341.06 229.20,341.09 229.40,341.12 229.60,341.15 229.80,341.17 230.00,341.19 230.20,341.21 230.40,341.23 230.60,341.25 230.80,341.27 231.00,341.29 231.20,341.30 231.40,341.32 231.60,341.34 231.80,341.35 232.00,341.36 232.20,341.38 232.40,341.39 232.60,341.40 232.80,341.41 233.00,341.42 233.20,341.43 233.40,341.44 233.60,341.45 233.80,341.46 234.00,341.47 234.20,341.48 234.40,341.49 234.60,341.49 234.80,341.50 235.00,341.51 235.20,341.52 235.40,341.52 235.60,341.53 235.80,341.53 236.00,341.54 236.20,341.55 236.40,341.55 236.60,341.56 236.80,341.56 237.00,341.57 237.20,341.57 237.40,341.58 237.60,341.58 237.80,341.59 238.00,341.59 238.20,341.59 238.40,341.60 238.60,341.60 238.80,341.61 239.00,341.61 239.20,341.61 239.40,341.62 239.60,341.62 239.80,341.62 240.00,341.63 240.20,341.63 240.40,341.63 240.60,341.64 240.80,341.64 241.00,341.64 241.20,341.64 241.40,341.65 241.60,341.65 241.80,341.65 242.00,341.65 242.20,341.66 242.40,341.66 242.60,341.66 242.80,341.66 243.00,341.66 243.20,341.67 243.40,341.67 243.60,341.67 243.80,341.67 244.00,341.67 244.20,341.68 244.40,341.68 244.60,341.68 244.80,341.68 245.00,341.68 245.20,341.68 245.40,341.69 245.60,341.69 245.80,341.69 246.00,341.69 246.20,341.69 246.40,341.69 246.60,341.70 246.80,341.70 247.00,341.70 247.20,341.70 247.40,341.70 247.60,341.70 247.80,341.70 248.00,341.70 248.20,341.71 248.40,341.71 248.60,341.71 248.80,341.71 249.00,341.71 249.20,341.71 249.40,341.71 249.60,341.71" fill="none" stroke="#ff1a1a" stroke-width="2.6" stroke-linejoin="round"/>
<polyline points="94.00,395.98 94.10,395.98 94.20,395.97 94.30,395.97 94.40,395.97 94.50,395.97 94.60,395.97 94.70,395.97 94.80,395.97 94.90,395.97 95.00,395.97 95.10,395.97 95.20,395.97 95.30,395.97 95.40,395.97 95.50,395.97 95.60,395.97 95.70,395.97 95.80,395.97 95.90,395.97 96.00,395.97 96.10,395.97 96.20,395.97 96.30,395.97 96.40,395.97 96.50,395.97 96.60,395.97 96.70,395.97 96.80,395.97 96.90,395.97 97.00,395.97 97.10,395.97 97.20,395.97 97.30,395.97 97.40,395.97 97.50,395.97 97.60,395.97 97.70,395.97 97.80,395.97 97.90,395.97 98.00,395.97 98.10,395.96 98.20,395.96 98.30,395.96 98.40,395.96 98.50,395.96 98.60,395.96 98.70,395.96 98.80,395.96 98.90,395.96 99.00,395.96 99.10,395.96 99.20,395.96 99.30,395.96 99.40,395.96 99.50,395.96 99.60,395.96 99.70,395.96 99.80,395.96 99.90,395.96 100.00,395.96 100.10,395.96 100.20,395.95 100.30,395.95 100.40,395.95 100.50,395.95 100.60,395.95 100.70,395.95 100.80,395.95 100.90,395.95 101.00,395.95 101.10,395.95 101.20,395.95 101.30,395.95 101.40,395.95 101.50,395.95 101.60,395.94 101.70,395.94 101.80,395.94 101.90,395.94 102.00,395.94 102.10,395.94 102.20,395.94 102.30,395.94 102.40,395.94 102.50,395.94 102.60,395.93 102.70,395.93 102.80,395.93 102.90,395.93 103.00,395.93 103.10,395.93 103.20,395.93 103.30,395.93 103.40,395.92 103.50,395.92 103.60,395.92 103.70,395.92 103.80,395.92 103.90,395.92 104.00,395.91 104.10,395.91 104.20,395.91 104.30,395.91 104.40,395.90 104.50,395.90 104.60,395.90 104.70,395.90 104.80,395.89 104.90,395.89 105.00,395.89 105.10,395.89 105.20,395.88 105.30,395.88 105.40,395.88 105.50,395.87 105.60,395.87 105.70,395.86 105.80,395.86 105.90,395.86 106.00,395.85 106.10,395.85 106.20,395.84 106.30,395.83 106.40,395.83 106.50,395.82 106.60,395.81 106.70,395.81 106.80,395.80 106.90,395.79 107.00,395.78 107.10,395.77 107.20,395.76 107.30,395.75 107.40,395.74 107.50,395.73 107.60,395.72 107.70,395.70 107.80,395.69 107.90,395.67 108.00,395.65 108.10,395.63 108.20,395.61 108.30,395.59 108.40,395.56 108.50,395.53 108.60,395.50 108.70,395.46 108.80,395.43 108.90,395.38 109.00,395.33 109.10,395.28 109.20,395.22 109.30,395.15 109.40,395.07 109.50,394.98 109.60,394.87 109.70,394.75 109.80,394.61 109.90,394.44 110.00,394.24 110.10,394.01 110.20,393.72 110.30,393.38 110.40,392.96 110.50,392.45 110.60,391.81 110.70,391.02 110.80,390.04 110.90,388.86 111.00,387.48 111.10,385.96 111.20,384.50 111.30,383.40 111.40,382.98 111.50,383.40 111.60,384.50 111.70,385.96 111.80,387.48 111.90,388.86 112.00,390.04 112.10,391.02 112.20,391.81 112.30,392.44 112.40,392.96 112.50,393.38 112.60,393.72 112.70,394.01 112.80,394.24 112.90,394.44 113.00,394.61 113.10,394.75 113.20,394.87 113.30,394.97 113.40,395.06 113.50,395.14 113.60,395.21 113.70,395.28 113.80,395.33 113.90,395.38 114.00,395.42 114.10,395.46 114.20,395.50 114.30,395.53 114.40,395.56 114.50,395.58 114.60,395.60 114.70,395.63 114.80,395.65 114.90,395.66 115.00,395.68 115.10,395.70 115.20,395.71 115.30,395.72 115.40,395.74 115.50,395.75 115.60,395.76 115.70,395.77 115.80,395.78 115.90,395.79 116.00,395.79 116.10,395.80 116.20,395.81 116.30,395.81 116.40,395.82 116.50,395.83 116.60,395.83 116.70,395.84 116.80,395.84 116.90,395.85 117.00,395.85 117.10,395.86 117.20,395.86 117.30,395.86 117.40,395.87 117.50,395.87 117.60,395.87 117.70,395.88 117.80,395.88 117.90,395.88 118.00,395.88 118.10,395.89 118.20,395.89 118.30,395.89 118.40,395.89 118.50,395.90 118.60,395.90 118.70,395.90 118.80,395.90 118.90,395.90 119.00,395.90 119.10,395.91 119.20,395.91 119.30,395.91 119.40,395.91 119.50,395.91 119.60,395.91 119.70,395.91 119.80,395.92 119.90,395.92 120.00,395.92 120.10,395.92 120.20,395.92 120.30,395.92 120.40,395.92 120.50,395.92 120.60,395.92 120.70,395.92 120.80,395.93 120.90,395.93 121.00,395.93 121.10,395.93 121.20,395.93 121.30,395.93 121.40,395.93 121.50,395.93 121.60,395.93 121.70,395.93 121.80,395.93 121.90,395.93 122.00,395.93 122.10,395.93 122.20,395.93 122.30,395.93 122.40,395.93 122.50,395.93 122.60,395.93 122.70,395.93 122.80,395.94 122.90,395.94 123.00,395.94 123.10,395.94 123.20,395.94 123.30,395.94 123.40,395.94 123.50,395.94 123.60,395.94 123.70,395.94 123.80,395.94 123.90,395.94 124.00,395.94 124.10,395.94 124.20,395.94 124.30,395.94 124.40,395.94 124.50,395.94 124.60,395.94 124.70,395.94 124.80,395.94 124.90,395.94 125.00,395.94 125.10,395.94 125.20,395.94 125.30,395.94 125.40,395.94 125.50,395.94 125.60,395.94 125.70,395.94 125.80,395.94 125.90,395.94 126.00,395.94 126.10,395.94 126.20,395.94 126.30,395.94 126.40,395.94 126.50,395.94 126.60,395.94 126.70,395.93 126.80,395.93 126.90,395.93 127.00,395.93 127.10,395.93 127.20,395.93 127.30,395.93 127.40,395.93 127.50,395.93 127.60,395.93 127.70,395.93 127.80,395.93 127.90,395.93 128.00,395.93 128.10,395.93 128.20,395.93 128.30,395.93 128.40,395.93 128.50,395.93 128.60,395.93 128.70,395.93 128.80,395.93 128.90,395.92 129.00,395.92 129.10,395.92 129.20,395.92 129.30,395.92 129.40,395.92 129.50,395.92 129.60,395.92 129.70,395.92 129.80,395.92 129.90,395.92 130.00,395.92 130.10,395.91 130.20,395.91 130.30,395.91 130.40,395.91 130.50,395.91 130.60,395.91 130.70,395.91 130.80,395.91 130.90,395.90 131.00,395.90 131.10,395.90 131.20,395.90 131.30,395.90 131.40,395.90 131.50,395.89 131.60,395.89 131.70,395.89 131.80,395.89 131.90,395.89 132.00,395.88 132.10,395.88 132.20,395.88 132.30,395.88 132.40,395.88 132.50,395.87 132.60,395.87 132.70,395.87 132.80,395.86 132.90,395.86 133.00,395.86 133.10,395.85 133.20,395.85 133.30,395.85 133.40,395.84 133.50,395.84 133.60,395.83 133.70,395.83 133.80,395.82 133.90,395.82 134.00,395.81 134.10,395.81 134.20,395.80 134.30,395.80 134.40,395.79 134.50,395.78 134.60,395.77 134.70,395.77 134.80,395.76 134.90,395.75 135.00,395.74 135.10,395.73 135.20,395.71 135.30,395.70 135.40,395.69 135.50,395.68 135.60,395.66 135.70,395.64 135.80,395.63 135.90,395.61 136.00,395.59 136.10,395.56 136.20,395.54 136.30,395.51 136.40,395.48 136.50,395.45 136.60,395.41 136.70,395.37 136.80,395.32 136.90,395.27 137.00,395.22 137.10,395.15 137.20,395.08 137.30,395.00 137.40,394.91 137.50,394.80 137.60,394.68 137.70,394.53 137.80,394.36 137.90,394.17 138.00,393.93 138.10,393.65 138.20,393.30 138.30,392.88 138.40,392.36 138.50,391.72 138.60,390.91 138.70,389.88 138.80,388.59 138.90,386.96 139.00,384.99 139.10,382.73 139.20,380.45 139.30,378.66 139.40,377.96 139.50,378.66 139.60,380.45 139.70,382.73 139.80,384.99 139.90,386.96 140.00,388.59 140.10,389.88 140.20,390.91 140.30,391.72 140.40,392.36 140.50,392.88 140.60,393.30 140.70,393.64 140.80,393.93 140.90,394.16 141.00,394.36 141.10,394.53 141.20,394.67 141.30,394.80 141.40,394.90 141.50,395.00 141.60,395.08 141.70,395.15 141.80,395.21 141.90,395.27 142.00,395.32 142.10,395.36 142.20,395.41 142.30,395.44 142.40,395.47 142.50,395.50 142.60,395.53 142.70,395.56 142.80,395.58 142.90,395.60 143.00,395.62 143.10,395.64 143.20,395.65 143.30,395.67 143.40,395.68 143.50,395.70 143.60,395.71 143.70,395.72 143.80,395.73 143.90,395.74 144.00,395.75 144.10,395.76 144.20,395.77 144.30,395.77 144.40,395.78 144.50,395.79 144.60,395.79 144.70,395.80 144.80,395.81 144.90,395.81 145.00,395.82 145.10,395.82 145.20,395.83 145.30,395.83 145.40,395.83 145.50,395.84 145.60,395.84 145.70,395.84 145.80,395.85 145.90,395.85 146.00,395.85 146.10,395.86 146.20,395.86 146.30,395.86 146.40,395.87 146.50,395.87 146.60,395.87 146.70,395.87 146.80,395.87 146.90,395.88 147.00,395.88 147.10,395.88 147.20,395.88 147.30,395.88 147.40,395.88 147.50,395.89 147.60,395.89 147.70,395.89 147.80,395.89 147.90,395.89 148.00,395.89 148.10,395.89 148.20,395.90 148.30,395.90 148.40,395.90 148.50,395.90 148.60,395.90 148.70,395.90 148.80,395.90 148.90,395.90 149.00,395.90 149.10,395.90 149.20,395.91 149.30,395.91 149.40,395.91 149.50,395.91 149.60,395.91 149.70,395.91 149.80,395.91 149.90,395.91 150.00,395.91 150.10,395.91 150.20,395.91 150.30,395.91 150.40,395.91 150.50,395.91 150.60,395.91 150.70,395.91 150.80,395.91 150.90,395.91 151.00,395.91 151.10,395.92 151.20,395.92 151.30,395.92 151.40,395.92 151.50,395.92 151.60,395.92 151.70,395.92 151.80,395.92 151.90,395.92 152.00,395.92 152.10,395.92 152.20,395.92 152.30,395.92 152.40,395.92 152.50,395.92 152.60,395.92 152.70,395.92 152.80,395.92 152.90,395.92 153.00,395.92 153.10,395.92 153.20,395.92 153.30,395.92 153.40,395.92 153.50,395.92 153.60,395.92 153.70,395.92 153.80,395.92 153.90,395.92 154.00,395.92 154.10,395.92 154.20,395.92 154.30,395.92 154.40,395.92 154.50,395.92 154.60,395.92 154.70,395.92 154.80,395.92 154.90,395.92 155.00,395.92 155.10,395.92 155.20,395.92 155.30,395.92 155.40,395.92 155.50,395.92 155.60,395.92 155.70,395.92 155.80,395.92 155.90,395.92 156.00,395.92 156.10,395.92 156.20,395.92 156.30,395.92 156.40,395.92 156.50,395.92 156.60,395.92 156.70,395.92 156.80,395.92 156.90,395.92 157.00,395.92 157.10,395.92 157.20,395.92 157.30,395.92 157.40,395.92 157.50,395.92 157.60,395.92 157.70,395.92 157.80,395.92 157.90,395.91 158.00,395.91 158.10,395.91 158.20,395.91 158.30,395.91 158.40,395.91 158.50,395.91 158.60,395.91 158.70,395.91 158.80,395.91 158.90,395.91 159.00,395.91 159.10,395.91 159.20,395.91 159.30,395.91 159.40,395.91 159.50,395.91 159.60,395.91 159.70,395.91 159.80,395.91 159.90,395.91 160.00,395.91 160.10,395.91 160.20,395.91 160.30,395.91 160.40,395.91 160.50,395.91 160.60,395.91 160.70,395.91 160.80,395.91 160.90,395.90 161.00,395.90 161.10,395.90 161.20,395.90 161.30,395.90 161.40,395.90 161.50,395.90 161.60,395.90 161.70,395.90 161.80,395.90 161.90,395.90 162.00,395.90 162.10,395.90 162.20,395.90 162.30,395.90 162.40,395.90 162.50,395.90 162.60,395.90 162.70,395.90 162.80,395.90 162.90,395.89 163.00,395.89 163.10,395.89 163.20,395.89 163.30,395.89 163.40,395.89 163.50,395.89 163.60,395.89 163.70,395.89 163.80,395.89 163.90,395.89 164.00,395.89 164.10,395.89 164.20,395.89 164.30,395.89 164.40,395.89 164.50,395.88 164.60,395.88 164.70,395.88 164.80,395.88 164.90,395.88 165.00,395.88 165.10,395.88 165.20,395.88 165.30,395.88 165.40,395.88 165.50,395.88 165.60,395.88 165.70,395.88 165.80,395.87 165.90,395.87 166.00,395.87 166.10,395.87 166.20,395.87 166.30,395.87 166.40,395.87 166.50,395.87 166.60,395.87 166.70,395.87 166.80,395.87 166.90,395.86 167.00,395.86 167.10,395.86 167.20,395.86 167.30,395.86 167.40,395.86 167.50,395.86 167.60,395.86 167.70,395.86 167.80,395.86 167.90,395.85 168.00,395.85 168.10,395.85 168.20,395.85 168.30,395.85 168.40,395.85 168.50,395.85 168.60,395.85 168.70,395.84 168.80,395.84 168.90,395.84 169.00,395.84 169.10,395.84 169.20,395.84 169.30,395.84 169.40,395.84 169.50,395.83 169.60,395.83 169.70,395.83 169.80,395.83 169.90,395.83 170.00,395.83 170.10,395.82 170.20,395.82 170.30,395.82 170.40,395.82 170.50,395.82 170.60,395.82 170.70,395.82 170.80,395.81 170.90,395.81 171.00,395.81 171.10,395.81 171.20,395.81 171.30,395.80 171.40,395.80 171.50,395.80 171.60,395.80 171.70,395.80 171.80,395.79 171.90,395.79 172.00,395.79 172.10,395.79 172.20,395.79 172.30,395.78 172.40,395.78 172.50,395.78 172.60,395.78 172.70,395.77 172.80,395.77 172.90,395.77 173.00,395.77 173.10,395.77 173.20,395.76 173.30,395.76 173.40,395.76 173.50,395.75 173.60,395.75 173.70,395.75 173.80,395.75 173.90,395.74 174.00,395.74 174.10,395.74 174.20,395.73 174.30,395.73 174.40,395.73 174.50,395.72 174.60,395.72 174.70,395.72 174.80,395.71 174.90,395.71 175.00,395.71 175.10,395.70 175.20,395.70 175.30,395.70 175.40,395.69 175.50,395.69 175.60,395.68 175.70,395.68 175.80,395.68 175.90,395.67 176.00,395.67 176.10,395.66 176.20,395.66 176.30,395.65 176.40,395.65 176.50,395.64 176.60,395.64 176.70,395.63 176.80,395.63 176.90,395.62 177.00,395.62 177.10,395.61 177.20,395.61 177.30,395.60 177.40,395.59 177.50,395.59 177.60,395.58 177.70,395.58 177.80,395.57 177.90,395.56 178.00,395.55 178.10,395.55 178.20,395.54 178.30,395.53 178.40,395.52 178.50,395.52 178.60,395.51 178.70,395.50 178.80,395.49 178.90,395.48 179.00,395.47 179.10,395.46 179.20,395.46 179.30,395.45 179.40,395.44 179.50,395.42 179.60,395.41 179.70,395.40 179.80,395.39 179.90,395.38 180.00,395.37 180.10,395.36 180.20,395.34 180.30,395.33 180.40,395.32 180.50,395.30 180.60,395.29 180.70,395.27 180.80,395.26 180.90,395.24 181.00,395.22 181.10,395.21 181.20,395.19 181.30,395.17 181.40,395.15 181.50,395.13 181.60,395.11 181.70,395.09 181.80,395.07 181.90,395.05 182.00,395.02 182.10,395.00 182.20,394.98 182.30,394.95 182.40,394.92 182.50,394.89 182.60,394.86 182.70,394.83 182.80,394.80 182.90,394.77 183.00,394.73 183.10,394.70 183.20,394.66 183.30,394.62 183.40,394.58 183.50,394.54 183.60,394.49 183.70,394.45 183.80,394.40 183.90,394.35 184.00,394.29 184.10,394.23 184.20,394.18 184.30,394.11 184.40,394.05 184.50,393.98 184.60,393.91 184.70,393.83 184.80,393.75 184.90,393.66 185.00,393.57 185.10,393.48 185.20,393.38 185.30,393.27 185.40,393.16 185.50,393.04 185.60,392.91 185.70,392.77 185.80,392.63 185.90,392.48 186.00,392.32 186.10,392.14 186.20,391.96 186.30,391.76 186.40,391.55 186.50,391.32 186.60,391.08 186.70,390.82 186.80,390.55 186.90,390.25 187.00,389.93 187.10,389.59 187.20,389.23 187.30,388.83 187.40,388.42 187.50,387.97 187.60,387.49 187.70,386.98 187.80,386.44 187.90,385.86 188.00,385.25 188.10,384.61 188.20,383.94 188.30,383.25 188.40,382.54 188.50,381.82 188.60,381.09 188.70,380.38 188.80,379.69 188.90,379.04 189.00,378.44 189.10,377.93 189.20,377.50 189.30,377.19 189.40,376.99 189.50,376.93 189.60,376.99 189.70,377.19 189.80,377.50 189.90,377.92 190.00,378.44 190.10,379.03 190.20,379.68 190.30,380.37 190.40,381.08 190.50,381.81 190.60,382.53 190.70,383.24 190.80,383.93 190.90,384.60 191.00,385.24 191.10,385.84 191.20,386.42 191.30,386.96 191.40,387.47 191.50,387.95 191.60,388.39 191.70,388.81 191.80,389.20 191.90,389.57 192.00,389.91 192.10,390.22 192.20,390.52 192.30,390.79 192.40,391.05 192.50,391.29 192.60,391.52 192.70,391.73 192.80,391.92 192.90,392.11 193.00,392.28 193.10,392.44 193.20,392.59 193.30,392.74 193.40,392.87 193.50,393.00 193.60,393.11 193.70,393.23 193.80,393.33 193.90,393.43 194.00,393.53 194.10,393.62 194.20,393.70 194.30,393.78 194.40,393.85 194.50,393.93 194.60,393.99 194.70,394.06 194.80,394.12 194.90,394.18 195.00,394.23 195.10,394.29 195.20,394.34 195.30,394.38 195.40,394.43 195.50,394.47 195.60,394.51 195.70,394.55 195.80,394.59 195.90,394.63 196.00,394.66 196.10,394.70 196.20,394.73 196.30,394.76 196.40,394.79 196.50,394.82 196.60,394.84 196.70,394.87 196.80,394.89 196.90,394.92 197.00,394.94 197.10,394.96 197.20,394.98 197.30,395.00 197.40,395.02 197.50,395.04 197.60,395.06 197.70,395.08 197.80,395.09 197.90,395.11 198.00,395.12 198.10,395.14 198.20,395.15 198.30,395.17 198.40,395.18 198.50,395.19 198.60,395.20 198.70,395.22 198.80,395.23 198.90,395.24 199.00,395.25 199.10,395.26 199.20,395.27 199.30,395.28 199.40,395.29 199.50,395.30 199.60,395.30 199.70,395.31 199.80,395.32 199.90,395.33 200.00,395.34 200.10,395.34 200.20,395.35 200.30,395.36 200.40,395.36 200.50,395.37 200.60,395.37 200.70,395.38 200.80,395.38 200.90,395.39 201.00,395.39 201.10,395.40 201.20,395.40 201.30,395.41 201.40,395.41 201.50,395.41 201.60,395.42 201.70,395.42 201.80,395.42 201.90,395.42 202.00,395.43 202.10,395.43 202.20,395.43 202.30,395.43 202.40,395.44 202.50,395.44 202.60,395.44 202.70,395.44 202.80,395.44 202.90,395.44 203.00,395.44 203.10,395.44 203.20,395.45 203.30,395.45 203.40,395.45 203.50,395.45 203.60,395.45 203.70,395.45 203.80,395.45 203.90,395.44 204.00,395.44 204.10,395.44 204.20,395.44 204.30,395.44 204.40,395.44 204.50,395.44 204.60,395.44 204.70,395.43 204.80,395.43 204.90,395.43 205.00,395.43 205.10,395.42 205.20,395.42 205.30,395.42 205.40,395.42 205.50,395.41 205.60,395.41 205.70,395.41 205.80,395.40 205.90,395.40 206.00,395.39 206.10,395.39 206.20,395.38 206.30,395.38 206.40,395.37 206.50,395.37 206.60,395.36 206.70,395.36 206.80,395.35 206.90,395.34 207.00,395.34 207.10,395.33 207.20,395.32 207.30,395.31 207.40,395.31 207.50,395.30 207.60,395.29 207.70,395.28 207.80,395.27 207.90,395.26 208.00,395.25 208.10,395.24 208.20,395.23 208.30,395.22 208.40,395.21 208.50,395.19 208.60,395.18 208.70,395.17 208.80,395.15 208.90,395.14 209.00,395.12 209.10,395.11 209.20,395.09 209.30,395.08 209.40,395.06 209.50,395.04 209.60,395.02 209.70,395.00 209.80,394.98 209.90,394.96 210.00,394.94 210.10,394.92 210.20,394.89 210.30,394.87 210.40,394.84 210.50,394.82 210.60,394.79 210.70,394.76 210.80,394.73 210.90,394.70 211.00,394.66 211.10,394.63 211.20,394.59 211.30,394.56 211.40,394.52 211.50,394.47 211.60,394.43 211.70,394.38 211.80,394.34 211.90,394.29 212.00,394.23 212.10,394.18 212.20,394.12 212.30,394.06 212.40,393.99 212.50,393.93 212.60,393.86 212.70,393.78 212.80,393.70 212.90,393.62 213.00,393.53 213.10,393.43 213.20,393.33 213.30,393.23 213.40,393.12 213.50,393.00 213.60,392.87 213.70,392.74 213.80,392.59 213.90,392.44 214.00,392.28 214.10,392.11 214.20,391.92 214.30,391.73 214.40,391.52 214.50,391.29 214.60,391.05 214.70,390.80 214.80,390.52 214.90,390.22 215.00,389.91 215.10,389.57 215.20,389.20 215.30,388.81 215.40,388.40 215.50,387.95 215.60,387.47 215.70,386.96 215.80,386.42 215.90,385.85 216.00,385.24 216.10,384.60 216.20,383.93 216.30,383.24 216.40,382.53 216.50,381.81 216.60,381.08 216.70,380.37 216.80,379.68 216.90,379.03 217.00,378.44 217.10,377.92 217.20,377.50 217.30,377.19 217.40,376.99 217.50,376.93 217.60,377.00 217.70,377.19 217.80,377.50 217.90,377.93 218.00,378.44 218.10,379.04 218.20,379.69 218.30,380.38 218.40,381.09 218.50,381.82 218.60,382.54 218.70,383.25 218.80,383.95 218.90,384.61 219.00,385.25 219.10,385.86 219.20,386.44 219.30,386.98 219.40,387.49 219.50,387.97 219.60,388.42 219.70,388.84 219.80,389.23 219.90,389.59 220.00,389.93 220.10,390.25 220.20,390.55 220.30,390.82 220.40,391.08 220.50,391.32 220.60,391.55 220.70,391.76 220.80,391.96 220.90,392.14 221.00,392.32 221.10,392.48 221.20,392.63 221.30,392.78 221.40,392.91 221.50,393.04 221.60,393.16 221.70,393.27 221.80,393.38 221.90,393.48 222.00,393.57 222.10,393.66 222.20,393.75 222.30,393.83 222.40,393.91 222.50,393.98 222.60,394.05 222.70,394.11 222.80,394.18 222.90,394.24 223.00,394.29 223.10,394.35 223.20,394.40 223.30,394.45 223.40,394.49 223.50,394.54 223.60,394.58 223.70,394.62 223.80,394.66 223.90,394.70 224.00,394.74 224.10,394.77 224.20,394.80 224.30,394.84 224.40,394.87 224.50,394.90 224.60,394.92 224.70,394.95 224.80,394.98 224.90,395.00 225.00,395.03 225.10,395.05 225.20,395.07 225.30,395.09 225.40,395.12 225.50,395.14 225.60,395.16 225.70,395.17 225.80,395.19 225.90,395.21 226.00,395.23 226.10,395.24 226.20,395.26 226.30,395.28 226.40,395.29 226.50,395.30 226.60,395.32 226.70,395.33 226.80,395.35 226.90,395.36 227.00,395.37 227.10,395.38 227.20,395.39 227.30,395.41 227.40,395.42 227.50,395.43 227.60,395.44 227.70,395.45 227.80,395.46 227.90,395.47 228.00,395.48 228.10,395.49 228.20,395.49 228.30,395.50 228.40,395.51 228.50,395.52 228.60,395.53 228.70,395.54 228.80,395.54 228.90,395.55 229.00,395.56 229.10,395.56 229.20,395.57 229.30,395.58 229.40,395.58 229.50,395.59 229.60,395.60 229.70,395.60 229.80,395.61 229.90,395.62 230.00,395.62 230.10,395.63 230.20,395.63 230.30,395.64 230.40,395.64 230.50,395.65 230.60,395.65 230.70,395.66 230.80,395.66 230.90,395.67 231.00,395.67 231.10,395.68 231.20,395.68 231.30,395.68 231.40,395.69 231.50,395.69 231.60,395.70 231.70,395.70 231.80,395.70 231.90,395.71 232.00,395.71 232.10,395.71 232.20,395.72 232.30,395.72 232.40,395.73 232.50,395.73 232.60,395.73 232.70,395.74 232.80,395.74 232.90,395.74 233.00,395.74 233.10,395.75 233.20,395.75 233.30,395.75 233.40,395.76 233.50,395.76 233.60,395.76 233.70,395.76 233.80,395.77 233.90,395.77 234.00,395.77 234.10,395.77 234.20,395.78 234.30,395.78 234.40,395.78 234.50,395.78 234.60,395.79 234.70,395.79 234.80,395.79 234.90,395.79 235.00,395.80 235.10,395.80 235.20,395.80 235.30,395.80 235.40,395.80 235.50,395.81 235.60,395.81 235.70,395.81 235.80,395.81 235.90,395.81 236.00,395.81 236.10,395.82 236.20,395.82 236.30,395.82 236.40,395.82 236.50,395.82 236.60,395.83 236.70,395.83 236.80,395.83 236.90,395.83 237.00,395.83 237.10,395.83 237.20,395.83 237.30,395.84 237.40,395.84 237.50,395.84 237.60,395.84 237.70,395.84 237.80,395.84 237.90,395.84 238.00,395.85 238.10,395.85 238.20,395.85 238.30,395.85 238.40,395.85 238.50,395.85 238.60,395.85 238.70,395.86 238.80,395.86 238.90,395.86 239.00,395.86 239.10,395.86 239.20,395.86 239.30,395.86 239.40,395.86 239.50,395.86 239.60,395.87 239.70,395.87 239.80,395.87 239.90,395.87 240.00,395.87 240.10,395.87 240.20,395.87 240.30,395.87 240.40,395.87 240.50,395.88 240.60,395.88 240.70,395.88 240.80,395.88 240.90,395.88 241.00,395.88 241.10,395.88 241.20,395.88 241.30,395.88 241.40,395.88 241.50,395.88 241.60,395.89 241.70,395.89 241.80,395.89 241.90,395.89 242.00,395.89 242.10,395.89 242.20,395.89 242.30,395.89 242.40,395.89 242.50,395.89 242.60,395.89 242.70,395.89 242.80,395.89 242.90,395.90 243.00,395.90 243.10,395.90 243.20,395.90 243.30,395.90 243.40,395.90 243.50,395.90 243.60,395.90 243.70,395.90 243.80,395.90 243.90,395.90 244.00,395.90 244.10,395.90 244.20,395.90 244.30,395.90 244.40,395.91 244.50,395.91 244.60,395.91 244.70,395.91 244.80,395.91 244.90,395.91 245.00,395.91 245.10,395.91 245.20,395.91 245.30,395.91 245.40,395.91 245.50,395.91 245.60,395.91 245.70,395.91 245.80,395.91 245.90,395.91 246.00,395.91 246.10,395.92 246.20,395.92 246.30,395.92 246.40,395.92 246.50,395.92 246.60,395.92 246.70,395.92 246.80,395.92 246.90,395.92 247.00,395.92 247.10,395.92 247.20,395.92 247.30,395.92 247.40,395.92 247.50,395.92 247.60,395.92 247.70,395.92 247.80,395.92 247.90,395.92 248.00,395.92 248.10,395.92 248.20,395.93 248.30,395.93 248.40,395.93 248.50,395.93 248.60,395.93 248.70,395.93 248.80,395.93 248.90,395.93 249.00,395.93 249.10,395.93 249.20,395.93 249.30,395.93 249.40,395.93 249.50,395.93 249.60,395.93" fill="none" stroke="#454743" stroke-width="2.4" stroke-linejoin="round"/>
<line x1="94.0" y1="403.4" x2="249.6" y2="403.4" stroke="#333" stroke-width="1.2" />
<line x1="121.6" y1="403.4" x2="121.6" y2="406.5" stroke="#333" stroke-width="1.2" />
<line x1="175.9" y1="403.4" x2="175.9" y2="406.5" stroke="#333" stroke-width="1.2" />
<line x1="230.0" y1="403.4" x2="230.0" y2="406.5" stroke="#333" stroke-width="1.2" />
<line x1="148.7" y1="403.4" x2="148.7" y2="405.5" stroke="#333" stroke-width="1" />
<line x1="203.0" y1="403.4" x2="203.0" y2="405.5" stroke="#333" stroke-width="1" />
<text x="121.6" y="418.3" text-anchor="middle" font-family="Liberation Sans" font-size="12.5" font-weight="bold" fill="#231f20">-66</text>
<text x="175.9" y="418.3" text-anchor="middle" font-family="Liberation Sans" font-size="12.5" font-weight="bold" fill="#231f20">-69</text>
<text x="230.0" y="418.3" text-anchor="middle" font-family="Liberation Sans" font-size="12.5" font-weight="bold" fill="#231f20">-72</text>
<text x="126.0" y="324.8" text-anchor="middle" font-family="Liberation Sans" font-size="12" font-weight="bold" fill="#f5a04a">a</text>
<text x="206.2" y="325.9" text-anchor="middle" font-family="Liberation Sans" font-size="12" font-weight="bold" fill="#3aa935">b</text>
<text x="232.5" y="333.3" font-family="Liberation Sans" font-size="12" font-weight="bold" fill="#e8371f" textLength="85.0" lengthAdjust="spacingAndGlyphs" >I<tspan font-size="8" dy="3">a</tspan><tspan dy="-3">/I</tspan><tspan font-size="8" dy="3">b</tspan><tspan dy="-3">=1.11/4.0</tspan></text>
<text x="232.5" y="386.8" font-family="Liberation Sans" font-size="12" font-weight="bold" fill="#231f20" textLength="77.5" lengthAdjust="spacingAndGlyphs" >I<tspan font-size="8" dy="3">a</tspan><tspan dy="-3">/I</tspan><tspan font-size="8" dy="3">b</tspan><tspan dy="-3">=1.0/4.0</tspan></text>
<polyline points="89.00,428.20 89.25,428.20 89.50,428.20 89.75,428.20 90.00,428.20 90.25,428.20 90.50,428.20 90.75,428.20 91.00,428.20 91.25,428.20 91.50,428.20 91.75,428.20 92.00,428.20 92.25,428.20 92.50,428.20 92.75,428.20 93.00,428.20 93.25,428.20 93.50,428.20 93.75,428.20 94.00,428.20 94.25,428.20 94.50,428.20 94.75,428.20 95.00,428.20 95.25,428.20 95.50,428.20 95.75,428.20 96.00,428.20 96.25,428.20 96.50,428.20 96.75,428.20 97.00,428.20 97.25,428.20 97.50,428.20 97.75,428.20 98.00,428.20 98.25,428.20 98.50,428.20 98.75,428.20 99.00,428.20 99.25,428.20 99.50,428.20 99.75,428.20 100.00,428.20 100.25,428.20 100.50,428.20 100.75,428.20 101.00,428.20 101.25,428.20 101.50,428.20 101.75,428.20 102.00,428.20 102.25,428.20 102.50,428.20 102.75,428.20 103.00,428.20 103.25,428.20 103.50,428.20 103.75,428.20 104.00,428.20 104.25,428.20 104.50,428.20 104.75,428.20 105.00,428.20 105.25,428.20 105.50,428.20 105.75,428.20 106.00,428.20 106.25,428.20 106.50,428.20 106.75,428.20 107.00,428.20 107.25,428.20 107.50,428.20 107.75,428.20 108.00,428.20 108.25,428.20 108.50,428.20 108.75,428.20 109.00,428.20 109.25,428.20 109.50,428.20 109.75,428.20 110.00,428.20 110.25,428.20 110.50,428.20 110.75,428.20 111.00,428.20 111.25,428.20 111.50,428.20 111.75,428.20 112.00,428.20 112.25,428.20 112.50,428.20 112.75,428.20 113.00,428.20 113.25,428.20 113.50,428.20 113.75,428.20 114.00,428.20 114.25,428.20 114.50,428.20 114.75,428.20 115.00,428.20 115.25,428.20 115.50,428.20 115.75,428.20 116.00,428.20 116.25,428.20 116.50,428.20 116.75,428.20 117.00,428.20 117.25,428.20 117.50,428.20 117.75,428.20 118.00,428.20 118.25,428.20 118.50,428.20 118.75,428.20 119.00,428.20 119.25,428.20 119.50,428.20 119.75,428.20 120.00,428.20 120.25,428.20 120.50,428.20 120.75,428.20 121.00,428.20 121.25,428.20 121.50,428.20 121.75,428.20 122.00,428.20 122.25,428.20 122.50,428.20 122.75,428.20 123.00,428.20 123.25,428.20 123.50,428.20 123.75,428.20 124.00,428.20 124.25,428.20 124.50,428.20 124.75,428.20 125.00,428.20 125.25,428.20 125.50,428.20 125.75,428.20 126.00,428.20 126.25,428.20 126.50,428.20 126.75,428.20 127.00,428.20 127.25,428.20 127.50,428.20 127.75,428.20 128.00,428.20 128.25,428.20 128.50,428.20 128.75,428.20 129.00,428.20 129.25,428.20 129.50,428.20 129.75,428.20 130.00,428.20 130.25,428.20 130.50,428.20 130.75,428.20 131.00,428.20 131.25,428.20 131.50,428.20 131.75,428.20 132.00,428.20 132.25,428.20 132.50,428.20 132.75,428.20 133.00,428.20 133.25,428.20 133.50,428.20 133.75,428.20 134.00,428.20 134.25,428.20 134.50,428.20 134.75,428.20 135.00,428.20 135.25,428.20 135.50,428.20 135.75,428.20 136.00,428.20 136.25,428.20 136.50,428.20 136.75,428.20 137.00,428.20 137.25,428.20 137.50,428.20 137.75,428.20 138.00,428.20 138.25,428.20 138.50,428.20 138.75,428.20 139.00,428.20 139.25,428.20 139.50,428.20 139.75,428.20 140.00,428.20 140.25,428.20 140.50,428.20 140.75,428.20 141.00,428.20 141.25,428.20 141.50,428.20 141.75,428.20 142.00,428.20 142.25,428.20 142.50,428.20 142.75,428.20 143.00,428.20 143.25,428.20 143.50,428.20 143.75,428.20 144.00,428.20 144.25,428.20 144.50,428.20 144.75,428.20 145.00,428.20 145.25,428.20 145.50,428.20 145.75,428.20 146.00,428.20 146.25,428.20 146.50,428.20 146.75,428.20 147.00,428.20 147.25,428.20 147.50,428.20 147.75,428.20 148.00,428.20 148.25,428.20 148.50,428.20 148.75,428.20 149.00,428.20 149.25,428.20 149.50,428.20 149.75,428.20 150.00,428.20 150.25,428.20 150.50,428.20 150.75,428.20 151.00,428.20 151.25,428.20 151.50,428.20 151.75,428.20 152.00,428.20 152.25,428.20 152.50,428.20 152.75,428.20 153.00,428.20 153.25,428.20 153.50,428.20 153.75,428.20 154.00,428.20 154.25,428.20 154.50,428.20 154.75,428.20 155.00,428.20 155.25,428.20 155.50,428.20 155.75,428.20 156.00,428.20 156.25,428.20 156.50,428.20 156.75,428.20 157.00,428.20 157.25,428.20 157.50,428.20 157.75,428.20 158.00,428.20 158.25,428.20 158.50,428.20 158.75,428.20 159.00,428.20 159.25,428.20 159.50,428.20 159.75,428.20 160.00,428.20 160.25,428.20 160.50,428.20 160.75,428.20 161.00,428.20 161.25,428.20 161.50,428.20 161.75,428.20 162.00,428.20 162.25,428.20 162.50,428.20 162.75,428.20 163.00,428.20 163.25,428.20 163.50,428.20 163.75,428.20 164.00,428.20 164.25,428.20 164.50,428.20 164.75,428.20 165.00,428.20 165.25,428.20 165.50,428.20 165.75,428.20 166.00,428.20 166.25,428.20 166.50,428.20 166.75,428.20 167.00,428.20 167.25,428.20 167.50,428.20 167.75,428.20 168.00,428.20 168.25,428.20 168.50,428.20 168.75,428.20 169.00,428.20 169.25,428.20 169.50,428.20 169.75,428.20 170.00,428.20 170.25,428.20 170.50,428.20 170.75,428.20 171.00,428.20 171.25,428.20 171.50,428.20 171.75,428.20 172.00,428.20 172.25,428.20 172.50,428.20 172.75,428.20 173.00,428.20 173.25,428.20 173.50,428.20 173.75,428.20 174.00,428.20 174.25,428.20 174.50,428.20 174.75,428.20 175.00,428.20 175.25,428.19 175.50,428.19 175.75,428.19 176.00,428.19 176.25,428.19 176.50,428.19 176.75,428.19 177.00,428.19 177.25,428.19 177.50,428.19 177.75,428.19 178.00,428.19 178.25,428.19 178.50,428.19 178.75,428.19 179.00,428.19 179.25,428.19 179.50,428.19 179.75,428.19 180.00,428.19 180.25,428.19 180.50,428.19 180.75,428.19 181.00,428.19 181.25,428.19 181.50,428.19 181.75,428.19 182.00,428.19 182.25,428.19 182.50,428.19 182.75,428.19 183.00,428.19 183.25,428.19 183.50,428.19 183.75,428.19 184.00,428.19 184.25,428.19 184.50,428.19 184.75,428.19 185.00,428.19 185.25,428.19 185.50,428.19 185.75,428.19 186.00,428.19 186.25,428.19 186.50,428.19 186.75,428.19 187.00,428.19 187.25,428.19 187.50,428.19 187.75,428.19 188.00,428.19 188.25,428.19 188.50,428.19 188.75,428.19 189.00,428.19 189.25,428.19 189.50,428.19 189.75,428.19 190.00,428.19 190.25,428.19 190.50,428.19 190.75,428.19 191.00,428.19 191.25,428.19 191.50,428.19 191.75,428.19 192.00,428.19 192.25,428.19 192.50,428.19 192.75,428.19 193.00,428.19 193.25,428.19 193.50,428.19 193.75,428.19 194.00,428.19 194.25,428.19 194.50,428.19 194.75,428.19 195.00,428.19 195.25,428.19 195.50,428.19 195.75,428.19 196.00,428.19 196.25,428.19 196.50,428.19 196.75,428.19 197.00,428.19 197.25,428.19 197.50,428.19 197.75,428.19 198.00,428.19 198.25,428.19 198.50,428.19 198.75,428.19 199.00,428.19 199.25,428.19 199.50,428.19 199.75,428.19 200.00,428.19 200.25,428.19 200.50,428.19 200.75,428.19 201.00,428.19 201.25,428.19 201.50,428.19 201.75,428.19 202.00,428.19 202.25,428.19 202.50,428.19 202.75,428.19 203.00,428.19 203.25,428.19 203.50,428.19 203.75,428.19 204.00,428.19 204.25,428.19 204.50,428.19 204.75,428.19 205.00,428.19 205.25,428.19 205.50,428.19 205.75,428.19 206.00,428.19 206.25,428.19 206.50,428.19 206.75,428.19 207.00,428.19 207.25,428.19 207.50,428.19 207.75,428.19 208.00,428.19 208.25,428.19 208.50,428.19 208.75,428.19 209.00,428.19 209.25,428.19 209.50,428.19 209.75,428.19 210.00,428.19 210.25,428.19 210.50,428.19 210.75,428.19 211.00,428.19 211.25,428.19 211.50,428.19 211.75,428.19 212.00,428.19 212.25,428.19 212.50,428.19 212.75,428.19 213.00,428.19 213.25,428.19 213.50,428.19 213.75,428.19 214.00,428.19 214.25,428.19 214.50,428.19 214.75,428.19 215.00,428.19 215.25,428.19 215.50,428.19 215.75,428.19 216.00,428.19 216.25,428.19 216.50,428.19 216.75,428.19 217.00,428.19 217.25,428.19 217.50,428.19 217.75,428.19 218.00,428.19 218.25,428.19 218.50,428.19 218.75,428.19 219.00,428.19 219.25,428.19 219.50,428.19 219.75,428.19 220.00,428.18 220.25,428.18 220.50,428.18 220.75,428.18 221.00,428.18 221.25,428.18 221.50,428.18 221.75,428.18 222.00,428.18 222.25,428.18 222.50,428.18 222.75,428.18 223.00,428.18 223.25,428.18 223.50,428.18 223.75,428.18 224.00,428.18 224.25,428.18 224.50,428.18 224.75,428.18 225.00,428.18 225.25,428.18 225.50,428.18 225.75,428.18 226.00,428.18 226.25,428.18 226.50,428.18 226.75,428.18 227.00,428.18 227.25,428.18 227.50,428.18 227.75,428.18 228.00,428.18 228.25,428.18 228.50,428.18 228.75,428.17 229.00,428.17 229.25,428.17 229.50,428.17 229.75,428.17 230.00,428.17 230.25,428.17 230.50,428.17 230.75,428.17 231.00,428.17 231.25,428.17 231.50,428.17 231.75,428.17 232.00,428.17 232.25,428.17 232.50,428.17 232.75,428.16 233.00,428.16 233.25,428.16 233.50,428.16 233.75,428.16 234.00,428.16 234.25,428.16 234.50,428.16 234.75,428.16 235.00,428.16 235.25,428.15 235.50,428.15 235.75,428.15 236.00,428.15 236.25,428.15 236.50,428.15 236.75,428.15 237.00,428.14 237.25,428.14 237.50,428.14 237.75,428.14 238.00,428.14 238.25,428.13 238.50,428.13 238.75,428.13 239.00,428.13 239.25,428.12 239.50,428.12 239.75,428.12 240.00,428.11 240.25,428.11 240.50,428.11 240.75,428.10 241.00,428.10 241.25,428.09 241.50,428.09 241.75,428.08 242.00,428.08 242.25,428.07 242.50,428.06 242.75,428.06 243.00,428.05 243.25,428.04 243.50,428.03 243.75,428.02 244.00,428.01 244.25,427.99 244.50,427.98 244.75,427.96 245.00,427.94 245.25,427.92 245.50,427.90 245.75,427.88 246.00,427.85 246.25,427.82 246.50,427.78 246.75,427.74 247.00,427.69 247.25,427.64 247.50,427.58 247.75,427.51 248.00,427.42 248.25,427.33 248.50,427.22 248.75,427.09 249.00,426.94 249.25,426.78 249.50,426.59 249.75,426.40 250.00,426.19 250.25,426.00 250.50,425.84 250.75,425.73 251.00,425.69 251.25,425.73 251.50,425.84 251.75,426.00 252.00,426.19 252.25,426.40 252.50,426.59 252.75,426.78 253.00,426.94 253.25,427.09 253.50,427.22 253.75,427.33 254.00,427.42 254.25,427.51 254.50,427.58 254.75,427.64 255.00,427.69 255.25,427.74 255.50,427.78 255.75,427.82 256.00,427.85 256.25,427.88 256.50,427.90 256.75,427.92 257.00,427.94 257.25,427.96 257.50,427.98 257.75,427.99 258.00,428.00 258.25,428.02 258.50,428.03 258.75,428.04 259.00,428.05 259.25,428.05 259.50,428.06 259.75,428.07 260.00,428.07 260.25,428.08 260.50,428.09 260.75,428.09 261.00,428.10 261.25,428.10 261.50,428.10 261.75,428.11 262.00,428.11 262.25,428.12 262.50,428.12 262.75,428.12 263.00,428.12 263.25,428.13 263.50,428.13 263.75,428.13 264.00,428.13 264.25,428.14 264.50,428.14 264.75,428.14 265.00,428.14 265.25,428.14 265.50,428.14 265.75,428.15 266.00,428.15 266.25,428.15 266.50,428.15 266.75,428.15 267.00,428.15 267.25,428.15 267.50,428.16 267.75,428.16 268.00,428.16 268.25,428.16 268.50,428.16 268.75,428.16 269.00,428.16 269.25,428.16 269.50,428.16 269.75,428.16 270.00,428.16 270.25,428.16 270.50,428.16 270.75,428.17 271.00,428.17 271.25,428.17 271.50,428.17 271.75,428.17 272.00,428.17 272.25,428.17 272.50,428.17 272.75,428.17 273.00,428.17 273.25,428.17 273.50,428.17 273.75,428.17 274.00,428.17 274.25,428.17 274.50,428.17 274.75,428.17 275.00,428.17 275.25,428.17 275.50,428.17 275.75,428.17 276.00,428.17 276.25,428.17 276.50,428.17 276.75,428.17 277.00,428.17 277.25,428.17 277.50,428.17 277.75,428.18 278.00,428.18 278.25,428.18 278.50,428.18 278.75,428.18 279.00,428.18 279.25,428.18 279.50,428.18 279.75,428.18 280.00,428.18 280.25,428.18 280.50,428.18 280.75,428.18 281.00,428.18 281.25,428.18 281.50,428.18 281.75,428.18 282.00,428.18 282.25,428.18 282.50,428.18 282.75,428.18 283.00,428.18 283.25,428.18 283.50,428.18 283.75,428.18 284.00,428.18 284.25,428.18 284.50,428.18 284.75,428.18 285.00,428.18 285.25,428.18 285.50,428.18 285.75,428.18 286.00,428.18 286.25,428.18 286.50,428.18 286.75,428.18 287.00,428.18 287.25,428.18 287.50,428.18 287.75,428.18 288.00,428.18 288.25,428.18 288.50,428.18 288.75,428.18 289.00,428.18 289.25,428.18 289.50,428.18 289.75,428.18 290.00,428.18 290.25,428.18 290.50,428.18 290.75,428.18 291.00,428.18 291.25,428.18 291.50,428.18 291.75,428.18 292.00,428.18 292.25,428.18 292.50,428.18 292.75,428.18 293.00,428.18 293.25,428.18 293.50,428.18 293.75,428.18 294.00,428.18 294.25,428.18 294.50,428.17 294.75,428.17 295.00,428.17 295.25,428.17 295.50,428.17 295.75,428.17 296.00,428.17 296.25,428.17 296.50,428.17 296.75,428.17 297.00,428.17 297.25,428.17 297.50,428.17 297.75,428.17 298.00,428.17 298.25,428.17 298.50,428.17 298.75,428.17 299.00,428.17 299.25,428.17 299.50,428.17 299.75,428.17 300.00,428.17 300.25,428.17 300.50,428.17 300.75,428.17 301.00,428.17 301.25,428.17 301.50,428.17 301.75,428.17 302.00,428.16 302.25,428.16 302.50,428.16 302.75,428.16 303.00,428.16 303.25,428.16 303.50,428.16 303.75,428.16 304.00,428.16 304.25,428.16 304.50,428.16 304.75,428.16 305.00,428.16 305.25,428.16 305.50,428.15 305.75,428.15 306.00,428.15 306.25,428.15 306.50,428.15 306.75,428.15 307.00,428.15 307.25,428.15 307.50,428.15 307.75,428.14 308.00,428.14 308.25,428.14 308.50,428.14 308.75,428.14 309.00,428.14 309.25,428.13 309.50,428.13 309.75,428.13 310.00,428.13 310.25,428.12 310.50,428.12 310.75,428.12 311.00,428.12 311.25,428.11 311.50,428.11 311.75,428.11 312.00,428.10 312.25,428.10 312.50,428.09 312.75,428.09 313.00,428.08 313.25,428.08 313.50,428.07 313.75,428.06 314.00,428.06 314.25,428.05 314.50,428.04 314.75,428.03 315.00,428.02 315.25,428.01 315.50,428.00 315.75,427.99 316.00,427.97 316.25,427.96 316.50,427.94 316.75,427.92 317.00,427.90 317.25,427.87 317.50,427.84 317.75,427.81 318.00,427.78 318.25,427.74 318.50,427.69 318.75,427.63 319.00,427.57 319.25,427.50 319.50,427.42 319.75,427.32 320.00,427.21 320.25,427.08 320.50,426.94 320.75,426.77 321.00,426.59 321.25,426.39 321.50,426.19 321.75,426.00 322.00,425.84 322.25,425.73 322.50,425.69 322.75,425.73 323.00,425.84 323.25,426.00 323.50,426.19 323.75,426.39 324.00,426.59 324.25,426.77 324.50,426.94 324.75,427.08 325.00,427.21 325.25,427.32 325.50,427.42 325.75,427.50 326.00,427.57 326.25,427.63 326.50,427.69 326.75,427.73 327.00,427.78 327.25,427.81 327.50,427.84 327.75,427.87 328.00,427.90 328.25,427.92 328.50,427.94 328.75,427.96 329.00,427.97 329.25,427.99 329.50,428.00 329.75,428.01 330.00,428.02 330.25,428.03 330.50,428.04 330.75,428.05 331.00,428.06 331.25,428.06 331.50,428.07 331.75,428.08 332.00,428.08 332.25,428.09 332.50,428.09 332.75,428.10 333.00,428.10 333.25,428.10 333.50,428.11 333.75,428.11 334.00,428.11 334.25,428.12 334.50,428.12 334.75,428.12 335.00,428.12 335.25,428.13 335.50,428.13 335.75,428.13 336.00,428.13 336.25,428.14 336.50,428.14 336.75,428.14 337.00,428.14 337.25,428.14 337.50,428.14 337.75,428.14 338.00,428.15 338.25,428.15 338.50,428.15 338.75,428.15 339.00,428.15 339.25,428.15 339.50,428.15 339.75,428.15 340.00,428.15 340.25,428.16 340.50,428.16 340.75,428.16 341.00,428.16 341.25,428.16 341.50,428.16 341.75,428.16 342.00,428.16 342.25,428.16 342.50,428.16 342.75,428.16 343.00,428.16 343.25,428.16 343.50,428.16 343.75,428.16 344.00,428.16 344.25,428.16 344.50,428.17 344.75,428.17 345.00,428.17 345.25,428.17 345.50,428.17 345.75,428.17 346.00,428.17 346.25,428.17 346.50,428.17 346.75,428.17 347.00,428.17 347.25,428.17 347.50,428.17 347.75,428.17 348.00,428.17 348.25,428.17 348.50,428.17 348.75,428.17 349.00,428.17 349.25,428.17 349.50,428.17 349.75,428.17 350.00,428.17 350.25,428.17 350.50,428.17 350.75,428.17 351.00,428.17 351.25,428.17 351.50,428.17 351.75,428.17 352.00,428.17 352.25,428.17 352.50,428.17 352.75,428.17 353.00,428.17 353.25,428.17 353.50,428.17 353.75,428.17 354.00,428.17 354.25,428.17 354.50,428.17 354.75,428.17 355.00,428.17 355.25,428.17 355.50,428.17 355.75,428.17 356.00,428.17 356.25,428.17 356.50,428.17 356.75,428.17 357.00,428.17 357.25,428.17 357.50,428.17 357.75,428.17 358.00,428.17 358.25,428.17 358.50,428.17 358.75,428.17 359.00,428.17 359.25,428.17 359.50,428.17 359.75,428.18 360.00,428.18 360.25,428.18 360.50,428.18 360.75,428.18 361.00,428.18 361.25,428.18 361.50,428.18 361.75,428.18 362.00,428.18 362.25,428.18 362.50,428.18 362.75,428.18 363.00,428.18 363.25,428.18 363.50,428.18 363.75,428.18 364.00,428.18 364.25,428.18 364.50,428.18 364.75,428.18 365.00,428.18 365.25,428.18 365.50,428.18 365.75,428.17 366.00,428.17 366.25,428.17 366.50,428.17 366.75,428.17 367.00,428.17 367.25,428.17 367.50,428.17 367.75,428.17 368.00,428.17 368.25,428.17 368.50,428.17 368.75,428.17 369.00,428.17 369.25,428.17 369.50,428.17 369.75,428.17 370.00,428.17 370.25,428.17 370.50,428.17 370.75,428.17 371.00,428.17 371.25,428.17 371.50,428.17 371.75,428.17 372.00,428.17 372.25,428.17 372.50,428.17 372.75,428.17 373.00,428.17 373.25,428.17 373.50,428.17 373.75,428.17 374.00,428.17 374.25,428.17 374.50,428.17 374.75,428.17 375.00,428.17 375.25,428.17 375.50,428.17 375.75,428.17 376.00,428.17 376.25,428.17 376.50,428.17 376.75,428.17 377.00,428.17 377.25,428.17 377.50,428.17 377.75,428.17 378.00,428.17 378.25,428.17 378.50,428.17 378.75,428.17 379.00,428.17 379.25,428.17 379.50,428.17 379.75,428.17 380.00,428.17 380.25,428.17 380.50,428.17 380.75,428.17 381.00,428.17 381.25,428.17 381.50,428.17 381.75,428.17 382.00,428.17 382.25,428.17 382.50,428.17 382.75,428.17 383.00,428.17 383.25,428.17 383.50,428.17 383.75,428.17 384.00,428.17 384.25,428.17 384.50,428.17 384.75,428.17 385.00,428.17 385.25,428.17 385.50,428.17 385.75,428.17 386.00,428.17 386.25,428.17 386.50,428.17 386.75,428.17 387.00,428.17 387.25,428.17 387.50,428.17 387.75,428.17 388.00,428.17 388.25,428.17 388.50,428.17 388.75,428.17 389.00,428.17 389.25,428.17 389.50,428.17 389.75,428.16 390.00,428.16 390.25,428.16 390.50,428.16 390.75,428.16 391.00,428.16 391.25,428.16 391.50,428.16 391.75,428.16 392.00,428.16 392.25,428.16 392.50,428.16 392.75,428.16 393.00,428.16 393.25,428.16 393.50,428.16 393.75,428.16 394.00,428.16 394.25,428.16 394.50,428.16 394.75,428.16 395.00,428.16 395.25,428.16 395.50,428.16 395.75,428.16 396.00,428.16 396.25,428.16 396.50,428.16 396.75,428.16 397.00,428.16 397.25,428.16 397.50,428.16 397.75,428.16 398.00,428.16 398.25,428.16 398.50,428.16 398.75,428.16 399.00,428.16 399.25,428.16 399.50,428.16 399.75,428.15 400.00,428.15 400.25,428.15 400.50,428.15 400.75,428.15 401.00,428.15 401.25,428.15 401.50,428.15 401.75,428.15 402.00,428.15 402.25,428.15 402.50,428.15 402.75,428.15 403.00,428.15 403.25,428.15 403.50,428.15 403.75,428.15 404.00,428.15 404.25,428.15 404.50,428.15 404.75,428.15 405.00,428.15 405.25,428.15 405.50,428.15 405.75,428.15 406.00,428.15 406.25,428.14 406.50,428.14 406.75,428.14 407.00,428.14 407.25,428.14 407.50,428.14 407.75,428.14 408.00,428.14 408.25,428.14 408.50,428.14 408.75,428.14 409.00,428.14 409.25,428.14 409.50,428.14 409.75,428.14 410.00,428.14 410.25,428.14 410.50,428.14 410.75,428.13 411.00,428.13 411.25,428.13 411.50,428.13 411.75,428.13 412.00,428.13 412.25,428.13 412.50,428.13 412.75,428.13 413.00,428.13 413.25,428.13 413.50,428.13 413.75,428.13 414.00,428.13 414.25,428.12 414.50,428.12 414.75,428.12 415.00,428.12 415.25,428.12 415.50,428.12 415.75,428.12 416.00,428.12 416.25,428.12 416.50,428.12 416.75,428.12 417.00,428.12 417.25,428.11 417.50,428.11 417.75,428.11 418.00,428.11 418.25,428.11 418.50,428.11 418.75,428.11 419.00,428.11 419.25,428.11 419.50,428.10 419.75,428.10 420.00,428.10 420.25,428.10 420.50,428.10 420.75,428.10 421.00,428.10 421.25,428.10 421.50,428.09 421.75,428.09 422.00,428.09 422.25,428.09 422.50,428.09 422.75,428.09 423.00,428.09 423.25,428.08 423.50,428.08 423.75,428.08 424.00,428.08 424.25,428.08 424.50,428.08 424.75,428.07 425.00,428.07 425.25,428.07 425.50,428.07 425.75,428.07 426.00,428.06 426.25,428.06 426.50,428.06 426.75,428.06 427.00,428.05 427.25,428.05 427.50,428.05 427.75,428.05 428.00,428.05 428.25,428.04 428.50,428.04 428.75,428.04 429.00,428.03 429.25,428.03 429.50,428.03 429.75,428.03 430.00,428.02 430.25,428.02 430.50,428.02 430.75,428.01 431.00,428.01 431.25,428.01 431.50,428.00 431.75,428.00 432.00,427.99 432.25,427.99 432.50,427.99 432.75,427.98 433.00,427.98 433.25,427.97 433.50,427.97 433.75,427.96 434.00,427.96 434.25,427.95 434.50,427.95 434.75,427.94 435.00,427.94 435.25,427.93 435.50,427.93 435.75,427.92 436.00,427.91 436.25,427.91 436.50,427.90 436.75,427.89 437.00,427.88 437.25,427.88 437.50,427.87 437.75,427.86 438.00,427.85 438.25,427.84 438.50,427.83 438.75,427.82 439.00,427.81 439.25,427.80 439.50,427.79 439.75,427.78 440.00,427.77 440.25,427.76 440.50,427.74 440.75,427.73 441.00,427.72 441.25,427.70 441.50,427.69 441.75,427.67 442.00,427.66 442.25,427.64 442.50,427.62 442.75,427.60 443.00,427.58 443.25,427.56 443.50,427.54 443.75,427.52 444.00,427.49 444.25,427.47 444.50,427.44 444.75,427.42 445.00,427.39 445.25,427.36 445.50,427.33 445.75,427.29 446.00,427.26 446.25,427.22 446.50,427.18 446.75,427.14 447.00,427.10 447.25,427.06 447.50,427.01 447.75,426.96 448.00,426.91 448.25,426.86 448.50,426.80 448.75,426.74 449.00,426.68 449.25,426.62 449.50,426.55 449.75,426.48 450.00,426.41 450.25,426.34 450.50,426.26 450.75,426.18 451.00,426.10 451.25,426.02 451.50,425.94 451.75,425.86 452.00,425.78 452.25,425.70 452.50,425.62 452.75,425.55 453.00,425.48 453.25,425.41 453.50,425.35 453.75,425.30 454.00,425.26 454.25,425.22 454.50,425.20 454.75,425.18 455.00,425.18 455.25,425.18 455.50,425.20 455.75,425.22 456.00,425.26 456.25,425.30 456.50,425.35 456.75,425.41 457.00,425.48 457.25,425.55 457.50,425.62 457.75,425.70 458.00,425.78 458.25,425.86 458.50,425.94 458.75,426.02 459.00,426.10 459.25,426.18 459.50,426.26 459.75,426.33 460.00,426.40 460.25,426.48 460.50,426.54 460.75,426.61 461.00,426.67 461.25,426.74 461.50,426.79 461.75,426.85 462.00,426.90 462.25,426.95 462.50,427.00 462.75,427.05 463.00,427.09 463.25,427.13 463.50,427.17 463.75,427.21 464.00,427.25 464.25,427.28 464.50,427.32 464.75,427.35 465.00,427.38 465.25,427.41 465.50,427.43 465.75,427.46 466.00,427.48 466.25,427.51 466.50,427.53 466.75,427.55 467.00,427.57 467.25,427.59 467.50,427.61 467.75,427.63 468.00,427.64 468.25,427.66 468.50,427.67 468.75,427.69 469.00,427.70 469.25,427.72 469.50,427.73 469.75,427.74 470.00,427.75 470.25,427.76 470.50,427.78 470.75,427.79 471.00,427.80 471.25,427.81 471.50,427.82 471.75,427.82 472.00,427.83 472.25,427.84 472.50,427.85 472.75,427.86 473.00,427.86 473.25,427.87 473.50,427.88 473.75,427.88 474.00,427.89 474.25,427.90 474.50,427.90 474.75,427.91 475.00,427.91 475.25,427.92 475.50,427.92 475.75,427.93 476.00,427.93 476.25,427.94 476.50,427.94 476.75,427.95 477.00,427.95 477.25,427.96 477.50,427.96 477.75,427.96 478.00,427.97 478.25,427.97 478.50,427.97 478.75,427.98 479.00,427.98 479.25,427.98 479.50,427.99 479.75,427.99 480.00,427.99 480.25,427.99 480.50,428.00 480.75,428.00 481.00,428.00 481.25,428.00 481.50,428.01 481.75,428.01 482.00,428.01 482.25,428.01 482.50,428.01 482.75,428.02 483.00,428.02 483.25,428.02 483.50,428.02 483.75,428.02 484.00,428.02 484.25,428.03 484.50,428.03 484.75,428.03 485.00,428.03 485.25,428.03 485.50,428.03 485.75,428.03 486.00,428.03 486.25,428.04 486.50,428.04 486.75,428.04 487.00,428.04 487.25,428.04 487.50,428.04 487.75,428.04 488.00,428.04 488.25,428.04 488.50,428.04 488.75,428.04 489.00,428.04 489.25,428.05 489.50,428.05 489.75,428.05 490.00,428.05 490.25,428.05 490.50,428.05 490.75,428.05 491.00,428.05 491.25,428.05 491.50,428.05 491.75,428.05 492.00,428.05 492.25,428.05 492.50,428.05 492.75,428.05 493.00,428.05 493.25,428.05 493.50,428.05 493.75,428.05 494.00,428.05 494.25,428.05 494.50,428.05 494.75,428.05 495.00,428.05 495.25,428.05 495.50,428.05 495.75,428.05 496.00,428.05 496.25,428.05 496.50,428.05 496.75,428.05 497.00,428.04 497.25,428.04 497.50,428.04 497.75,428.04 498.00,428.04 498.25,428.04 498.50,428.04 498.75,428.04 499.00,428.04 499.25,428.04 499.50,428.04 499.75,428.04 500.00,428.03 500.25,428.03 500.50,428.03 500.75,428.03 501.00,428.03 501.25,428.03 501.50,428.03 501.75,428.03 502.00,428.02 502.25,428.02 502.50,428.02 502.75,428.02 503.00,428.02 503.25,428.02 503.50,428.01 503.75,428.01 504.00,428.01 504.25,428.01 504.50,428.00 504.75,428.00 505.00,428.00 505.25,428.00 505.50,428.00 505.75,427.99 506.00,427.99 506.25,427.99 506.50,427.98 506.75,427.98 507.00,427.98 507.25,427.98 507.50,427.97 507.75,427.97 508.00,427.97 508.25,427.96 508.50,427.96 508.75,427.95 509.00,427.95 509.25,427.95 509.50,427.94 509.75,427.94 510.00,427.93 510.25,427.93 510.50,427.92 510.75,427.92 511.00,427.91 511.25,427.91 511.50,427.90 511.75,427.90 512.00,427.89 512.25,427.88 512.50,427.88 512.75,427.87 513.00,427.86 513.25,427.86 513.50,427.85 513.75,427.84 514.00,427.83 514.25,427.82 514.50,427.81 514.75,427.80 515.00,427.79 515.25,427.78 515.50,427.77 515.75,427.76 516.00,427.75 516.25,427.74 516.50,427.73 516.75,427.71 517.00,427.70 517.25,427.69 517.50,427.67 517.75,427.66 518.00,427.64 518.25,427.62 518.50,427.61 518.75,427.59 519.00,427.57 519.25,427.55 519.50,427.53 519.75,427.50 520.00,427.48 520.25,427.46 520.50,427.43 520.75,427.40 521.00,427.37 521.25,427.35 521.50,427.31 521.75,427.28 522.00,427.25 522.25,427.21 522.50,427.17 522.75,427.13 523.00,427.09 523.25,427.05 523.50,427.00 523.75,426.95 524.00,426.90 524.25,426.85 524.50,426.79 524.75,426.73 525.00,426.67 525.25,426.61 525.50,426.54 525.75,426.47 526.00,426.40 526.25,426.33 526.50,426.25 526.75,426.17 527.00,426.10 527.25,426.02 527.50,425.93 527.75,425.85 528.00,425.77 528.25,425.69 528.50,425.62 528.75,425.54 529.00,425.47 529.25,425.41 529.50,425.35 529.75,425.30 530.00,425.25 530.25,425.22 530.50,425.19 530.75,425.18 531.00,425.17 531.25,425.18 531.50,425.20 531.75,425.22 532.00,425.26 532.25,425.30 532.50,425.35 532.75,425.41 533.00,425.47 533.25,425.54 533.50,425.62 533.75,425.70 534.00,425.78 534.25,425.86 534.50,425.94 534.75,426.02 535.00,426.10 535.25,426.18 535.50,426.26 535.75,426.33 536.00,426.41 536.25,426.48 536.50,426.55 536.75,426.61 537.00,426.68 537.25,426.74 537.50,426.80 537.75,426.85 538.00,426.91 538.25,426.96 538.50,427.01 538.75,427.05 539.00,427.10 539.25,427.14 539.50,427.18 539.75,427.22 540.00,427.25 540.25,427.29 540.50,427.32 540.75,427.35 541.00,427.38 541.25,427.41 541.50,427.44 541.75,427.46 542.00,427.49 542.25,427.51 542.50,427.54 542.75,427.56 543.00,427.58 543.25,427.60 543.50,427.62 543.75,427.63 544.00,427.65 544.25,427.67 544.50,427.68 544.75,427.70 545.00,427.71 545.25,427.73 545.50,427.74 545.75,427.75 546.00,427.76 546.25,427.78 546.50,427.79 546.75,427.80 547.00,427.81 547.25,427.82 547.50,427.83 547.75,427.84 548.00,427.85 548.25,427.85 548.50,427.86 548.75,427.87 549.00,427.88 549.25,427.89 549.50,427.89 549.75,427.90 550.00,427.91 550.25,427.91 550.50,427.92 550.75,427.93 551.00,427.93 551.25,427.94 551.50,427.94 551.75,427.95 552.00,427.95 552.25,427.96 552.50,427.96 552.75,427.97 553.00,427.97 553.25,427.98 553.50,427.98 553.75,427.98 554.00,427.99 554.25,427.99 554.50,428.00 554.75,428.00 555.00,428.00 555.25,428.01 555.50,428.01 555.75,428.01 556.00,428.02 556.25,428.02 556.50,428.02 556.75,428.02 557.00,428.03 557.25,428.03 557.50,428.03 557.75,428.04 558.00,428.04 558.25,428.04 558.50,428.04 558.75,428.04 559.00,428.05 559.25,428.05 559.50,428.05 559.75,428.05 560.00,428.06 560.25,428.06 560.50,428.06 560.75,428.06 561.00,428.06 561.25,428.07 561.50,428.07 561.75,428.07 562.00,428.07 562.25,428.07 562.50,428.07 562.75,428.08 563.00,428.08 563.25,428.08 563.50,428.08 563.75,428.08 564.00,428.08 564.25,428.08 564.50,428.09 564.75,428.09 565.00,428.09 565.25,428.09 565.50,428.09 565.75,428.09 566.00,428.09 566.25,428.09 566.50,428.10 566.75,428.10 567.00,428.10 567.25,428.10 567.50,428.10 567.75,428.10 568.00,428.10 568.25,428.10 568.50,428.10 568.75,428.10 569.00,428.11 569.25,428.11 569.50,428.11 569.75,428.11 570.00,428.11 570.25,428.11 570.50,428.11 570.75,428.11 571.00,428.11 571.25,428.11 571.50,428.11 571.75,428.11 572.00,428.11 572.25,428.12 572.50,428.12 572.75,428.12 573.00,428.12 573.25,428.12 573.50,428.12 573.75,428.12 574.00,428.12 574.25,428.12 574.50,428.12 574.75,428.12 575.00,428.12 575.25,428.12 575.50,428.12 575.75,428.12 576.00,428.12 576.25,428.13 576.50,428.13 576.75,428.13 577.00,428.13 577.25,428.13 577.50,428.13 577.75,428.13 578.00,428.13 578.25,428.13 578.50,428.13 578.75,428.13 579.00,428.13 579.25,428.13 579.50,428.13 579.75,428.13 580.00,428.13 580.25,428.13 580.50,428.13 580.75,428.13 581.00,428.13 581.25,428.13 581.50,428.13 581.75,428.13 582.00,428.13 582.25,428.13 582.50,428.13 582.75,428.14 583.00,428.14 583.25,428.14 583.50,428.14 583.75,428.14 584.00,428.14 584.25,428.14 584.50,428.14 584.75,428.14 585.00,428.14 585.25,428.14 585.50,428.14 585.75,428.14 586.00,428.14 586.25,428.14 586.50,428.14 586.75,428.14 587.00,428.14 587.25,428.14 587.50,428.14 587.75,428.14 588.00,428.14 588.25,428.14 588.50,428.14 588.75,428.14 589.00,428.14 589.25,428.14 589.50,428.14 589.75,428.14 590.00,428.14 590.25,428.14 590.50,428.14 590.75,428.14 591.00,428.14 591.25,428.14 591.50,428.14 591.75,428.14 592.00,428.14 592.25,428.14 592.50,428.14 592.75,428.14 593.00,428.14 593.25,428.14 593.50,428.14 593.75,428.14 594.00,428.14 594.25,428.14 594.50,428.14 594.75,428.14 595.00,428.14 595.25,428.14 595.50,428.14 595.75,428.14 596.00,428.14 596.25,428.14 596.50,428.14 596.75,428.14 597.00,428.14 597.25,428.14 597.50,428.14 597.75,428.14 598.00,428.14 598.25,428.14 598.50,428.14 598.75,428.14 599.00,428.14 599.25,428.14 599.50,428.14 599.75,428.14 600.00,428.14 600.25,428.14 600.50,428.14 600.75,428.14 601.00,428.14 601.25,428.14 601.50,428.14 601.75,428.14 602.00,428.14 602.25,428.14 602.50,428.14 602.75,428.14 603.00,428.14 603.25,428.14 603.50,428.14 603.75,428.14 604.00,428.14 604.25,428.14 604.50,428.14 604.75,428.14 605.00,428.14 605.25,428.14 605.50,428.14 605.75,428.14 606.00,428.14 606.25,428.14 606.50,428.14 606.75,428.14 607.00,428.14 607.25,428.14 607.50,428.14 607.75,428.14 608.00,428.14 608.25,428.14 608.50,428.14 608.75,428.14 609.00,428.14 609.25,428.14 609.50,428.14 609.75,428.14 610.00,428.14 610.25,428.14 610.50,428.13 610.75,428.13 611.00,428.13 611.25,428.13 611.50,428.13 611.75,428.13 612.00,428.13 612.25,428.13 612.50,428.13 612.75,428.13 613.00,428.13 613.25,428.13 613.50,428.13 613.75,428.13 614.00,428.13 614.25,428.13 614.50,428.13 614.75,428.13 615.00,428.13 615.25,428.13 615.50,428.13 615.75,428.13 616.00,428.13 616.25,428.12 616.50,428.12 616.75,428.12 617.00,428.12 617.25,428.12 617.50,428.12 617.75,428.12 618.00,428.12 618.25,428.12 618.50,428.12 618.75,428.12 619.00,428.12 619.25,428.12 619.50,428.12 619.75,428.12 620.00,428.11 620.25,428.11 620.50,428.11 620.75,428.11 621.00,428.11 621.25,428.11 621.50,428.11 621.75,428.11 622.00,428.11 622.25,428.11 622.50,428.11 622.75,428.10 623.00,428.10 623.25,428.10 623.50,428.10 623.75,428.10 624.00,428.10 624.25,428.10 624.50,428.10 624.75,428.10 625.00,428.09 625.25,428.09 625.50,428.09 625.75,428.09 626.00,428.09 626.25,428.09 626.50,428.09 626.75,428.08 627.00,428.08 627.25,428.08 627.50,428.08 627.75,428.08 628.00,428.08 628.25,428.07 628.50,428.07 628.75,428.07 629.00,428.07 629.25,428.07 629.50,428.06 629.75,428.06 630.00,428.06 630.25,428.06 630.50,428.05 630.75,428.05 631.00,428.05 631.25,428.05 631.50,428.04 631.75,428.04 632.00,428.04 632.25,428.04 632.50,428.03 632.75,428.03 633.00,428.03 633.25,428.02 633.50,428.02 633.75,428.01 634.00,428.01 634.25,428.01 634.50,428.00 634.75,428.00 635.00,427.99 635.25,427.99 635.50,427.99 635.75,427.98 636.00,427.97 636.25,427.97 636.50,427.96 636.75,427.96 637.00,427.95 637.25,427.95 637.50,427.94 637.75,427.93 638.00,427.93 638.25,427.92 638.50,427.91 638.75,427.90 639.00,427.89 639.25,427.88 639.50,427.87 639.75,427.87 640.00,427.85 640.25,427.84 640.50,427.83 640.75,427.82 641.00,427.81 641.25,427.79 641.50,427.78 641.75,427.77 642.00,427.75 642.25,427.73 642.50,427.72 642.75,427.70 643.00,427.68 643.25,427.66 643.50,427.63 643.75,427.61 644.00,427.58 644.25,427.56 644.50,427.53 644.75,427.50 645.00,427.46 645.25,427.43 645.50,427.39 645.75,427.34 646.00,427.30 646.25,427.25 646.50,427.20 646.75,427.14 647.00,427.07 647.25,427.00 647.50,426.93 647.75,426.84 648.00,426.75 648.25,426.65 648.50,426.53 648.75,426.40 649.00,426.26 649.25,426.10 649.50,425.92 649.75,425.72 650.00,425.48 650.25,425.21 650.50,424.91 650.75,424.55 651.00,424.13 651.25,423.64 651.50,423.07 651.75,422.38 652.00,421.55 652.25,420.55 652.50,419.34 652.75,417.84 653.00,416.00 653.25,413.73 653.50,410.94 653.75,407.58 654.00,403.67 654.25,399.42 654.50,395.35 654.75,392.31 655.00,391.17 655.25,392.31 655.50,395.35 655.75,399.42 656.00,403.67 656.25,407.58 656.50,410.94 656.75,413.73 657.00,416.00 657.25,417.84 657.50,419.33 657.75,420.55 658.00,421.55 658.25,422.38 658.50,423.06 658.75,423.64 659.00,424.13 659.25,424.54 659.50,424.90 659.75,425.21 660.00,425.48 660.25,425.71 660.50,425.91 660.75,426.09 661.00,426.25 661.25,426.40 661.50,426.52 661.75,426.64 662.00,426.74 662.25,426.83 662.50,426.92 662.75,426.99 663.00,427.06 663.25,427.13 663.50,427.19 663.75,427.24 664.00,427.29 664.25,427.33 664.50,427.37 664.75,427.41 665.00,427.45 665.25,427.48 665.50,427.51 665.75,427.54 666.00,427.57 666.25,427.59 666.50,427.62 666.75,427.64 667.00,427.66 667.25,427.68 667.50,427.70 667.75,427.72 668.00,427.73 668.25,427.75 668.50,427.76 668.75,427.78 669.00,427.79 669.25,427.80 669.50,427.81 669.75,427.82 670.00,427.83 670.25,427.84 670.50,427.85 670.75,427.86 671.00,427.87 671.25,427.88 671.50,427.89 671.75,427.89 672.00,427.90 672.25,427.91 672.50,427.91 672.75,427.92 673.00,427.93 673.25,427.93 673.50,427.94 673.75,427.94 674.00,427.95 674.25,427.95 674.50,427.96 674.75,427.96 675.00,427.96 675.25,427.97 675.50,427.97 675.75,427.97 676.00,427.98 676.25,427.98 676.50,427.98 676.75,427.99 677.00,427.99 677.25,427.99 677.50,427.99 677.75,428.00 678.00,428.00 678.25,428.00 678.50,428.00 678.75,428.00 679.00,428.01 679.25,428.01 679.50,428.01 679.75,428.01 680.00,428.01 680.25,428.01 680.50,428.02 680.75,428.02 681.00,428.02 681.25,428.02 681.50,428.02 681.75,428.02 682.00,428.02 682.25,428.02 682.50,428.02 682.75,428.02 683.00,428.02 683.25,428.02 683.50,428.02 683.75,428.02 684.00,428.02 684.25,428.02 684.50,428.02 684.75,428.02 685.00,428.02 685.25,428.02 685.50,428.02 685.75,428.02 686.00,428.02 686.25,428.02 686.50,428.02 686.75,428.02 687.00,428.02 687.25,428.02 687.50,428.02 687.75,428.02 688.00,428.02 688.25,428.01 688.50,428.01 688.75,428.01 689.00,428.01 689.25,428.01 689.50,428.01 689.75,428.01 690.00,428.00 690.25,428.00 690.50,428.00 690.75,428.00 691.00,428.00 691.25,427.99 691.50,427.99 691.75,427.99 692.00,427.98 692.25,427.98 692.50,427.98 692.75,427.98 693.00,427.97 693.25,427.97 693.50,427.96 693.75,427.96 694.00,427.96 694.25,427.95 694.50,427.95 694.75,427.94 695.00,427.94 695.25,427.93 695.50,427.93 695.75,427.92 696.00,427.92 696.25,427.91 696.50,427.90 696.75,427.90 697.00,427.89 697.25,427.88 697.50,427.87 697.75,427.86 698.00,427.86 698.25,427.85 698.50,427.84 698.75,427.83 699.00,427.82 699.25,427.80 699.50,427.79 699.75,427.78 700.00,427.76 700.25,427.75 700.50,427.74 700.75,427.72 701.00,427.70 701.25,427.68 701.50,427.66 701.75,427.64 702.00,427.62 702.25,427.60 702.50,427.57 702.75,427.55 703.00,427.52 703.25,427.49 703.50,427.45 703.75,427.42 704.00,427.38 704.25,427.34 704.50,427.29 704.75,427.24 705.00,427.19 705.25,427.13 705.50,427.07 705.75,427.00 706.00,426.92 706.25,426.84 706.50,426.74 706.75,426.64 707.00,426.53 707.25,426.40 707.50,426.26 707.75,426.10 708.00,425.92 708.25,425.71 708.50,425.48 708.75,425.21 709.00,424.90 709.25,424.55 709.50,424.13 709.75,423.64 710.00,423.07 710.25,422.38 710.50,421.55 710.75,420.56 711.00,419.34 711.25,417.85 711.50,416.00 711.75,413.73 712.00,410.95 712.25,407.59 712.50,403.67 712.75,399.42 713.00,395.36 713.25,392.32 713.50,391.17 713.75,392.32 714.00,395.36 714.25,399.43 714.50,403.67 714.75,407.59 715.00,410.95 715.25,413.74 715.50,416.01 715.75,417.85 716.00,419.34 716.25,420.56 716.50,421.56 716.75,422.39 717.00,423.07 717.25,423.65 717.50,424.14 717.75,424.55 718.00,424.91 718.25,425.22 718.50,425.49 718.75,425.72 719.00,425.93 719.25,426.11 719.50,426.27 719.75,426.41 720.00,426.54 720.25,426.65 720.50,426.76 720.75,426.85 721.00,426.93 721.25,427.01 721.50,427.08 721.75,427.14 722.00,427.20 722.25,427.26 722.50,427.31 722.75,427.35 723.00,427.39 723.25,427.43 723.50,427.47 723.75,427.50 724.00,427.53 724.25,427.56 724.50,427.59 724.75,427.62 725.00,427.64 725.25,427.66 725.50,427.68 725.75,427.70 726.00,427.72 726.25,427.74 726.50,427.76 726.75,427.77 727.00,427.79 727.25,427.80 727.50,427.82 727.75,427.83 728.00,427.84 728.25,427.85 728.50,427.86 728.75,427.87 729.00,427.88 729.25,427.89 729.50,427.90 729.75,427.91 730.00,427.92 730.25,427.93 730.50,427.93 730.75,427.94 731.00,427.95 731.25,427.95 731.50,427.96 731.75,427.97 732.00,427.97 732.25,427.98 732.50,427.98 732.75,427.99 733.00,427.99 733.25,428.00 733.50,428.00 733.75,428.01 734.00,428.01 734.25,428.02 734.50,428.02 734.75,428.02 735.00,428.03 735.25,428.03 735.50,428.04 735.75,428.04 736.00,428.04 736.25,428.05 736.50,428.05 736.75,428.05 737.00,428.05 737.25,428.06 737.50,428.06 737.75,428.06 738.00,428.07 738.25,428.07 738.50,428.07 738.75,428.07 739.00,428.07 739.25,428.08 739.50,428.08 739.75,428.08 740.00,428.08 740.25,428.09 740.50,428.09 740.75,428.09 741.00,428.09 741.25,428.09 741.50,428.09 741.75,428.10 742.00,428.10 742.25,428.10 742.50,428.10 742.75,428.10 743.00,428.10" fill="none" stroke="#ff1a1a" stroke-width="2.6" stroke-linejoin="round"/>
<polyline points="89.00,527.50 89.20,527.50 89.40,527.50 89.60,527.50 89.80,527.50 90.00,527.50 90.20,527.50 90.40,527.50 90.60,527.50 90.80,527.50 91.00,527.50 91.20,527.50 91.40,527.50 91.60,527.50 91.80,527.50 92.00,527.50 92.20,527.50 92.40,527.50 92.60,527.50 92.80,527.50 93.00,527.50 93.20,527.50 93.40,527.50 93.60,527.50 93.80,527.50 94.00,527.50 94.20,527.50 94.40,527.50 94.60,527.50 94.80,527.50 95.00,527.50 95.20,527.50 95.40,527.50 95.60,527.50 95.80,527.50 96.00,527.50 96.20,527.50 96.40,527.50 96.60,527.50 96.80,527.50 97.00,527.50 97.20,527.50 97.40,527.50 97.60,527.50 97.80,527.50 98.00,527.50 98.20,527.50 98.40,527.50 98.60,527.50 98.80,527.50 99.00,527.50 99.20,527.50 99.40,527.50 99.60,527.50 99.80,527.50 100.00,527.50 100.20,527.50 100.40,527.50 100.60,527.50 100.80,527.50 101.00,527.50 101.20,527.50 101.40,527.50 101.60,527.50 101.80,527.50 102.00,527.50 102.20,527.50 102.40,527.50 102.60,527.50 102.80,527.50 103.00,527.50 103.20,527.50 103.40,527.50 103.60,527.50 103.80,527.50 104.00,527.50 104.20,527.50 104.40,527.50 104.60,527.50 104.80,527.50 105.00,527.50 105.20,527.50 105.40,527.50 105.60,527.50 105.80,527.50 106.00,527.50 106.20,527.50 106.40,527.50 106.60,527.50 106.80,527.50 107.00,527.50 107.20,527.50 107.40,527.50 107.60,527.50 107.80,527.50 108.00,527.50 108.20,527.50 108.40,527.50 108.60,527.50 108.80,527.50 109.00,527.50 109.20,527.50 109.40,527.50 109.60,527.50 109.80,527.50 110.00,527.50 110.20,527.50 110.40,527.50 110.60,527.50 110.80,527.50 111.00,527.50 111.20,527.50 111.40,527.50 111.60,527.50 111.80,527.50 112.00,527.50 112.20,527.50 112.40,527.50 112.60,527.50 112.80,527.50 113.00,527.50 113.20,527.50 113.40,527.50 113.60,527.50 113.80,527.50 114.00,527.50 114.20,527.50 114.40,527.50 114.60,527.50 114.80,527.50 115.00,527.50 115.20,527.50 115.40,527.50 115.60,527.50 115.80,527.50 116.00,527.50 116.20,527.50 116.40,527.50 116.60,527.50 116.80,527.50 117.00,527.50 117.20,527.50 117.40,527.50 117.60,527.50 117.80,527.50 118.00,527.50 118.20,527.50 118.40,527.50 118.60,527.50 118.80,527.50 119.00,527.50 119.20,527.50 119.40,527.50 119.60,527.50 119.80,527.50 120.00,527.50 120.20,527.50 120.40,527.50 120.60,527.50 120.80,527.50 121.00,527.50 121.20,527.50 121.40,527.50 121.60,527.50 121.80,527.50 122.00,527.50 122.20,527.50 122.40,527.50 122.60,527.50 122.80,527.50 123.00,527.50 123.20,527.50 123.40,527.50 123.60,527.50 123.80,527.50 124.00,527.50 124.20,527.50 124.40,527.50 124.60,527.50 124.80,527.50 125.00,527.50 125.20,527.50 125.40,527.50 125.60,527.50 125.80,527.50 126.00,527.50 126.20,527.50 126.40,527.50 126.60,527.50 126.80,527.50 127.00,527.50 127.20,527.50 127.40,527.50 127.60,527.50 127.80,527.50 128.00,527.50 128.20,527.50 128.40,527.50 128.60,527.50 128.80,527.50 129.00,527.50 129.20,527.50 129.40,527.50 129.60,527.50 129.80,527.50 130.00,527.50 130.20,527.50 130.40,527.50 130.60,527.50 130.80,527.50 131.00,527.50 131.20,527.50 131.40,527.50 131.60,527.50 131.80,527.50 132.00,527.50 132.20,527.50 132.40,527.50 132.60,527.50 132.80,527.50 133.00,527.50 133.20,527.50 133.40,527.50 133.60,527.50 133.80,527.50 134.00,527.50 134.20,527.50 134.40,527.50 134.60,527.50 134.80,527.50 135.00,527.50 135.20,527.50 135.40,527.50 135.60,527.50 135.80,527.50 136.00,527.50 136.20,527.50 136.40,527.50 136.60,527.50 136.80,527.50 137.00,527.50 137.20,527.50 137.40,527.50 137.60,527.50 137.80,527.50 138.00,527.50 138.20,527.50 138.40,527.50 138.60,527.50 138.80,527.50 139.00,527.50 139.20,527.50 139.40,527.50 139.60,527.50 139.80,527.50 140.00,527.50 140.20,527.50 140.40,527.50 140.60,527.50 140.80,527.50 141.00,527.50 141.20,527.50 141.40,527.50 141.60,527.50 141.80,527.50 142.00,527.50 142.20,527.50 142.40,527.50 142.60,527.50 142.80,527.50 143.00,527.50 143.20,527.50 143.40,527.50 143.60,527.50 143.80,527.50 144.00,527.50 144.20,527.50 144.40,527.50 144.60,527.50 144.80,527.50 145.00,527.50 145.20,527.50 145.40,527.50 145.60,527.50 145.80,527.50 146.00,527.50 146.20,527.50 146.40,527.50 146.60,527.50 146.80,527.50 147.00,527.50 147.20,527.50 147.40,527.50 147.60,527.50 147.80,527.50 148.00,527.50 148.20,527.50 148.40,527.50 148.60,527.50 148.80,527.50 149.00,527.50 149.20,527.50 149.40,527.50 149.60,527.50 149.80,527.50 150.00,527.50 150.20,527.50 150.40,527.50 150.60,527.50 150.80,527.50 151.00,527.50 151.20,527.50 151.40,527.50 151.60,527.50 151.80,527.50 152.00,527.50 152.20,527.50 152.40,527.50 152.60,527.50 152.80,527.50 153.00,527.50 153.20,527.50 153.40,527.50 153.60,527.50 153.80,527.50 154.00,527.50 154.20,527.50 154.40,527.50 154.60,527.50 154.80,527.50 155.00,527.50 155.20,527.50 155.40,527.50 155.60,527.50 155.80,527.50 156.00,527.50 156.20,527.50 156.40,527.50 156.60,527.50 156.80,527.50 157.00,527.50 157.20,527.50 157.40,527.50 157.60,527.50 157.80,527.50 158.00,527.50 158.20,527.50 158.40,527.50 158.60,527.50 158.80,527.50 159.00,527.50 159.20,527.50 159.40,527.50 159.60,527.50 159.80,527.50 160.00,527.50 160.20,527.50 160.40,527.50 160.60,527.50 160.80,527.50 161.00,527.50 161.20,527.50 161.40,527.50 161.60,527.50 161.80,527.50 162.00,527.50 162.20,527.50 162.40,527.50 162.60,527.50 162.80,527.50 163.00,527.50 163.20,527.50 163.40,527.50 163.60,527.50 163.80,527.50 164.00,527.50 164.20,527.50 164.40,527.50 164.60,527.50 164.80,527.50 165.00,527.50 165.20,527.50 165.40,527.50 165.60,527.50 165.80,527.50 166.00,527.50 166.20,527.50 166.40,527.50 166.60,527.50 166.80,527.50 167.00,527.50 167.20,527.50 167.40,527.50 167.60,527.50 167.80,527.50 168.00,527.50 168.20,527.50 168.40,527.50 168.60,527.50 168.80,527.50 169.00,527.50 169.20,527.50 169.40,527.50 169.60,527.50 169.80,527.50 170.00,527.50 170.20,527.50 170.40,527.50 170.60,527.50 170.80,527.50 171.00,527.50 171.20,527.50 171.40,527.50 171.60,527.50 171.80,527.50 172.00,527.50 172.20,527.50 172.40,527.50 172.60,527.50 172.80,527.50 173.00,527.49 173.20,527.49 173.40,527.49 173.60,527.49 173.80,527.49 174.00,527.49 174.20,527.49 174.40,527.49 174.60,527.49 174.80,527.49 175.00,527.49 175.20,527.49 175.40,527.49 175.60,527.49 175.80,527.49 176.00,527.49 176.20,527.49 176.40,527.49 176.60,527.49 176.80,527.49 177.00,527.49 177.20,527.49 177.40,527.49 177.60,527.49 177.80,527.49 178.00,527.49 178.20,527.49 178.40,527.49 178.60,527.49 178.80,527.49 179.00,527.49 179.20,527.49 179.40,527.49 179.60,527.49 179.80,527.49 180.00,527.49 180.20,527.49 180.40,527.49 180.60,527.49 180.80,527.49 181.00,527.49 181.20,527.49 181.40,527.49 181.60,527.49 181.80,527.49 182.00,527.49 182.20,527.49 182.40,527.49 182.60,527.49 182.80,527.49 183.00,527.49 183.20,527.49 183.40,527.49 183.60,527.49 183.80,527.49 184.00,527.49 184.20,527.49 184.40,527.49 184.60,527.49 184.80,527.49 185.00,527.49 185.20,527.49 185.40,527.49 185.60,527.49 185.80,527.49 186.00,527.49 186.20,527.49 186.40,527.49 186.60,527.49 186.80,527.49 187.00,527.49 187.20,527.49 187.40,527.49 187.60,527.49 187.80,527.49 188.00,527.49 188.20,527.49 188.40,527.49 188.60,527.49 188.80,527.49 189.00,527.49 189.20,527.49 189.40,527.49 189.60,527.49 189.80,527.49 190.00,527.49 190.20,527.49 190.40,527.49 190.60,527.49 190.80,527.49 191.00,527.49 191.20,527.49 191.40,527.49 191.60,527.49 191.80,527.49 192.00,527.49 192.20,527.49 192.40,527.49 192.60,527.49 192.80,527.49 193.00,527.49 193.20,527.49 193.40,527.49 193.60,527.49 193.80,527.49 194.00,527.49 194.20,527.49 194.40,527.49 194.60,527.49 194.80,527.49 195.00,527.49 195.20,527.49 195.40,527.49 195.60,527.49 195.80,527.49 196.00,527.49 196.20,527.49 196.40,527.49 196.60,527.49 196.80,527.49 197.00,527.49 197.20,527.49 197.40,527.49 197.60,527.49 197.80,527.49 198.00,527.49 198.20,527.49 198.40,527.49 198.60,527.49 198.80,527.49 199.00,527.49 199.20,527.49 199.40,527.49 199.60,527.49 199.80,527.49 200.00,527.49 200.20,527.49 200.40,527.49 200.60,527.49 200.80,527.49 201.00,527.49 201.20,527.49 201.40,527.49 201.60,527.49 201.80,527.49 202.00,527.49 202.20,527.49 202.40,527.49 202.60,527.49 202.80,527.49 203.00,527.49 203.20,527.49 203.40,527.49 203.60,527.49 203.80,527.49 204.00,527.49 204.20,527.49 204.40,527.49 204.60,527.49 204.80,527.49 205.00,527.49 205.20,527.49 205.40,527.49 205.60,527.49 205.80,527.49 206.00,527.49 206.20,527.49 206.40,527.49 206.60,527.49 206.80,527.49 207.00,527.49 207.20,527.49 207.40,527.49 207.60,527.49 207.80,527.49 208.00,527.49 208.20,527.49 208.40,527.49 208.60,527.49 208.80,527.49 209.00,527.49 209.20,527.49 209.40,527.49 209.60,527.49 209.80,527.49 210.00,527.49 210.20,527.49 210.40,527.49 210.60,527.49 210.80,527.49 211.00,527.49 211.20,527.49 211.40,527.49 211.60,527.49 211.80,527.49 212.00,527.49 212.20,527.49 212.40,527.49 212.60,527.49 212.80,527.49 213.00,527.49 213.20,527.49 213.40,527.49 213.60,527.49 213.80,527.49 214.00,527.49 214.20,527.49 214.40,527.49 214.60,527.49 214.80,527.49 215.00,527.49 215.20,527.49 215.40,527.49 215.60,527.49 215.80,527.49 216.00,527.49 216.20,527.49 216.40,527.49 216.60,527.49 216.80,527.49 217.00,527.49 217.20,527.49 217.40,527.49 217.60,527.49 217.80,527.48 218.00,527.48 218.20,527.48 218.40,527.48 218.60,527.48 218.80,527.48 219.00,527.48 219.20,527.48 219.40,527.48 219.60,527.48 219.80,527.48 220.00,527.48 220.20,527.48 220.40,527.48 220.60,527.48 220.80,527.48 221.00,527.48 221.20,527.48 221.40,527.48 221.60,527.48 221.80,527.48 222.00,527.48 222.20,527.48 222.40,527.48 222.60,527.48 222.80,527.48 223.00,527.48 223.20,527.48 223.40,527.48 223.60,527.48 223.80,527.48 224.00,527.48 224.20,527.48 224.40,527.48 224.60,527.48 224.80,527.48 225.00,527.48 225.20,527.48 225.40,527.48 225.60,527.48 225.80,527.48 226.00,527.48 226.20,527.48 226.40,527.48 226.60,527.47 226.80,527.47 227.00,527.47 227.20,527.47 227.40,527.47 227.60,527.47 227.80,527.47 228.00,527.47 228.20,527.47 228.40,527.47 228.60,527.47 228.80,527.47 229.00,527.47 229.20,527.47 229.40,527.47 229.60,527.47 229.80,527.47 230.00,527.47 230.20,527.47 230.40,527.47 230.60,527.47 230.80,527.46 231.00,527.46 231.20,527.46 231.40,527.46 231.60,527.46 231.80,527.46 232.00,527.46 232.20,527.46 232.40,527.46 232.60,527.46 232.80,527.46 233.00,527.46 233.20,527.45 233.40,527.45 233.60,527.45 233.80,527.45 234.00,527.45 234.20,527.45 234.40,527.45 234.60,527.45 234.80,527.45 235.00,527.44 235.20,527.44 235.40,527.44 235.60,527.44 235.80,527.44 236.00,527.44 236.20,527.43 236.40,527.43 236.60,527.43 236.80,527.43 237.00,527.43 237.20,527.42 237.40,527.42 237.60,527.42 237.80,527.42 238.00,527.41 238.20,527.41 238.40,527.41 238.60,527.40 238.80,527.40 239.00,527.40 239.20,527.39 239.40,527.39 239.60,527.39 239.80,527.38 240.00,527.38 240.20,527.37 240.40,527.37 240.60,527.36 240.80,527.35 241.00,527.35 241.20,527.34 241.40,527.33 241.60,527.32 241.80,527.31 242.00,527.31 242.20,527.29 242.40,527.28 242.60,527.27 242.80,527.26 243.00,527.24 243.20,527.23 243.40,527.21 243.60,527.19 243.80,527.17 244.00,527.15 244.20,527.12 244.40,527.10 244.60,527.07 244.80,527.03 245.00,526.99 245.20,526.95 245.40,526.90 245.60,526.85 245.80,526.79 246.00,526.72 246.20,526.65 246.40,526.56 246.60,526.47 246.80,526.36 247.00,526.24 247.20,526.11 247.40,525.97 247.60,525.82 247.80,525.65 248.00,525.49 248.20,525.34 248.40,525.20 248.60,525.09 248.80,525.02 249.00,524.99 249.20,525.02 249.40,525.09 249.60,525.20 249.80,525.34 250.00,525.49 250.20,525.65 250.40,525.82 250.60,525.97 250.80,526.11 251.00,526.24 251.20,526.36 251.40,526.47 251.60,526.56 251.80,526.65 252.00,526.72 252.20,526.79 252.40,526.85 252.60,526.90 252.80,526.95 253.00,526.99 253.20,527.03 253.40,527.06 253.60,527.10 253.80,527.12 254.00,527.15 254.20,527.17 254.40,527.19 254.60,527.21 254.80,527.23 255.00,527.24 255.20,527.26 255.40,527.27 255.60,527.28 255.80,527.29 256.00,527.30 256.20,527.31 256.40,527.32 256.60,527.33 256.80,527.34 257.00,527.35 257.20,527.35 257.40,527.36 257.60,527.36 257.80,527.37 258.00,527.37 258.20,527.38 258.40,527.38 258.60,527.39 258.80,527.39 259.00,527.40 259.20,527.40 259.40,527.40 259.60,527.41 259.80,527.41 260.00,527.41 260.20,527.41 260.40,527.42 260.60,527.42 260.80,527.42 261.00,527.42 261.20,527.43 261.40,527.43 261.60,527.43 261.80,527.43 262.00,527.43 262.20,527.44 262.40,527.44 262.60,527.44 262.80,527.44 263.00,527.44 263.20,527.44 263.40,527.44 263.60,527.45 263.80,527.45 264.00,527.45 264.20,527.45 264.40,527.45 264.60,527.45 264.80,527.45 265.00,527.45 265.20,527.45 265.40,527.45 265.60,527.46 265.80,527.46 266.00,527.46 266.20,527.46 266.40,527.46 266.60,527.46 266.80,527.46 267.00,527.46 267.20,527.46 267.40,527.46 267.60,527.46 267.80,527.46 268.00,527.46 268.20,527.46 268.40,527.46 268.60,527.46 268.80,527.47 269.00,527.47 269.20,527.47 269.40,527.47 269.60,527.47 269.80,527.47 270.00,527.47 270.20,527.47 270.40,527.47 270.60,527.47 270.80,527.47 271.00,527.47 271.20,527.47 271.40,527.47 271.60,527.47 271.80,527.47 272.00,527.47 272.20,527.47 272.40,527.47 272.60,527.47 272.80,527.47 273.00,527.47 273.20,527.47 273.40,527.47 273.60,527.47 273.80,527.47 274.00,527.47 274.20,527.47 274.40,527.47 274.60,527.47 274.80,527.47 275.00,527.47 275.20,527.47 275.40,527.47 275.60,527.47 275.80,527.47 276.00,527.47 276.20,527.48 276.40,527.48 276.60,527.48 276.80,527.48 277.00,527.48 277.20,527.48 277.40,527.48 277.60,527.48 277.80,527.48 278.00,527.48 278.20,527.48 278.40,527.48 278.60,527.48 278.80,527.48 279.00,527.48 279.20,527.48 279.40,527.48 279.60,527.48 279.80,527.48 280.00,527.48 280.20,527.48 280.40,527.48 280.60,527.48 280.80,527.48 281.00,527.48 281.20,527.48 281.40,527.48 281.60,527.48 281.80,527.48 282.00,527.48 282.20,527.48 282.40,527.48 282.60,527.48 282.80,527.48 283.00,527.48 283.20,527.48 283.40,527.48 283.60,527.48 283.80,527.48 284.00,527.48 284.20,527.48 284.40,527.48 284.60,527.48 284.80,527.48 285.00,527.48 285.20,527.48 285.40,527.48 285.60,527.48 285.80,527.48 286.00,527.48 286.20,527.48 286.40,527.48 286.60,527.48 286.80,527.48 287.00,527.48 287.20,527.48 287.40,527.48 287.60,527.48 287.80,527.48 288.00,527.48 288.20,527.48 288.40,527.48 288.60,527.48 288.80,527.48 289.00,527.48 289.20,527.48 289.40,527.48 289.60,527.48 289.80,527.48 290.00,527.48 290.20,527.48 290.40,527.48 290.60,527.48 290.80,527.48 291.00,527.48 291.20,527.48 291.40,527.48 291.60,527.48 291.80,527.48 292.00,527.48 292.20,527.47 292.40,527.47 292.60,527.47 292.80,527.47 293.00,527.47 293.20,527.47 293.40,527.47 293.60,527.47 293.80,527.47 294.00,527.47 294.20,527.47 294.40,527.47 294.60,527.47 294.80,527.47 295.00,527.47 295.20,527.47 295.40,527.47 295.60,527.47 295.80,527.47 296.00,527.47 296.20,527.47 296.40,527.47 296.60,527.47 296.80,527.47 297.00,527.47 297.20,527.47 297.40,527.47 297.60,527.47 297.80,527.47 298.00,527.47 298.20,527.47 298.40,527.47 298.60,527.47 298.80,527.47 299.00,527.47 299.20,527.47 299.40,527.47 299.60,527.47 299.80,527.47 300.00,527.47 300.20,527.46 300.40,527.46 300.60,527.46 300.80,527.46 301.00,527.46 301.20,527.46 301.40,527.46 301.60,527.46 301.80,527.46 302.00,527.46 302.20,527.46 302.40,527.46 302.60,527.46 302.80,527.46 303.00,527.46 303.20,527.46 303.40,527.46 303.60,527.46 303.80,527.45 304.00,527.45 304.20,527.45 304.40,527.45 304.60,527.45 304.80,527.45 305.00,527.45 305.20,527.45 305.40,527.45 305.60,527.45 305.80,527.45 306.00,527.44 306.20,527.44 306.40,527.44 306.60,527.44 306.80,527.44 307.00,527.44 307.20,527.44 307.40,527.43 307.60,527.43 307.80,527.43 308.00,527.43 308.20,527.43 308.40,527.43 308.60,527.42 308.80,527.42 309.00,527.42 309.20,527.42 309.40,527.42 309.60,527.41 309.80,527.41 310.00,527.41 310.20,527.40 310.40,527.40 310.60,527.40 310.80,527.40 311.00,527.39 311.20,527.39 311.40,527.38 311.60,527.38 311.80,527.37 312.00,527.37 312.20,527.36 312.40,527.36 312.60,527.35 312.80,527.35 313.00,527.34 313.20,527.33 313.40,527.33 313.60,527.32 313.80,527.31 314.00,527.30 314.20,527.29 314.40,527.28 314.60,527.27 314.80,527.25 315.00,527.24 315.20,527.22 315.40,527.20 315.60,527.19 315.80,527.17 316.00,527.14 316.20,527.12 316.40,527.09 316.60,527.06 316.80,527.03 317.00,526.99 317.20,526.95 317.40,526.90 317.60,526.84 317.80,526.79 318.00,526.72 318.20,526.64 318.40,526.56 318.60,526.46 318.80,526.36 319.00,526.24 319.20,526.11 319.40,525.96 319.60,525.81 319.80,525.65 320.00,525.49 320.20,525.33 320.40,525.19 320.60,525.08 320.80,525.01 321.00,524.99 321.20,525.01 321.40,525.08 321.60,525.19 321.80,525.33 322.00,525.49 322.20,525.65 322.40,525.81 322.60,525.96 322.80,526.11 323.00,526.24 323.20,526.36 323.40,526.46 323.60,526.56 323.80,526.64 324.00,526.72 324.20,526.78 324.40,526.84 324.60,526.90 324.80,526.94 325.00,526.99 325.20,527.02 325.40,527.06 325.60,527.09 325.80,527.12 326.00,527.14 326.20,527.16 326.40,527.18 326.60,527.20 326.80,527.22 327.00,527.24 327.20,527.25 327.40,527.26 327.60,527.28 327.80,527.29 328.00,527.30 328.20,527.31 328.40,527.32 328.60,527.32 328.80,527.33 329.00,527.34 329.20,527.35 329.40,527.35 329.60,527.36 329.80,527.36 330.00,527.37 330.20,527.37 330.40,527.38 330.60,527.38 330.80,527.39 331.00,527.39 331.20,527.39 331.40,527.40 331.60,527.40 331.80,527.40 332.00,527.41 332.20,527.41 332.40,527.41 332.60,527.41 332.80,527.42 333.00,527.42 333.20,527.42 333.40,527.42 333.60,527.42 333.80,527.43 334.00,527.43 334.20,527.43 334.40,527.43 334.60,527.43 334.80,527.43 335.00,527.44 335.20,527.44 335.40,527.44 335.60,527.44 335.80,527.44 336.00,527.44 336.20,527.44 336.40,527.44 336.60,527.44 336.80,527.45 337.00,527.45 337.20,527.45 337.40,527.45 337.60,527.45 337.80,527.45 338.00,527.45 338.20,527.45 338.40,527.45 338.60,527.45 338.80,527.45 339.00,527.45 339.20,527.45 339.40,527.46 339.60,527.46 339.80,527.46 340.00,527.46 340.20,527.46 340.40,527.46 340.60,527.46 340.80,527.46 341.00,527.46 341.20,527.46 341.40,527.46 341.60,527.46 341.80,527.46 342.00,527.46 342.20,527.46 342.40,527.46 342.60,527.46 342.80,527.46 343.00,527.46 343.20,527.46 343.40,527.46 343.60,527.46 343.80,527.46 344.00,527.46 344.20,527.46 344.40,527.47 344.60,527.47 344.80,527.47 345.00,527.47 345.20,527.47 345.40,527.47 345.60,527.47 345.80,527.47 346.00,527.47 346.20,527.47 346.40,527.47 346.60,527.47 346.80,527.47 347.00,527.47 347.20,527.47 347.40,527.47 347.60,527.47 347.80,527.47 348.00,527.47 348.20,527.47 348.40,527.47 348.60,527.47 348.80,527.47 349.00,527.47 349.20,527.47 349.40,527.47 349.60,527.47 349.80,527.47 350.00,527.47 350.20,527.47 350.40,527.47 350.60,527.47 350.80,527.47 351.00,527.47 351.20,527.47 351.40,527.47 351.60,527.47 351.80,527.47 352.00,527.47 352.20,527.47 352.40,527.47 352.60,527.47 352.80,527.47 353.00,527.47 353.20,527.47 353.40,527.47 353.60,527.47 353.80,527.47 354.00,527.47 354.20,527.47 354.40,527.47 354.60,527.47 354.80,527.47 355.00,527.47 355.20,527.47 355.40,527.47 355.60,527.47 355.80,527.47 356.00,527.47 356.20,527.47 356.40,527.47 356.60,527.47 356.80,527.47 357.00,527.47 357.20,527.47 357.40,527.47 357.60,527.47 357.80,527.47 358.00,527.47 358.20,527.47 358.40,527.47 358.60,527.47 358.80,527.47 359.00,527.47 359.20,527.47 359.40,527.47 359.60,527.47 359.80,527.47 360.00,527.47 360.20,527.47 360.40,527.47 360.60,527.47 360.80,527.47 361.00,527.47 361.20,527.47 361.40,527.47 361.60,527.47 361.80,527.47 362.00,527.47 362.20,527.47 362.40,527.47 362.60,527.47 362.80,527.47 363.00,527.47 363.20,527.47 363.40,527.47 363.60,527.47 363.80,527.47 364.00,527.47 364.20,527.47 364.40,527.47 364.60,527.47 364.80,527.47 365.00,527.47 365.20,527.47 365.40,527.47 365.60,527.47 365.80,527.47 366.00,527.47 366.20,527.47 366.40,527.47 366.60,527.47 366.80,527.47 367.00,527.47 367.20,527.47 367.40,527.47 367.60,527.47 367.80,527.47 368.00,527.47 368.20,527.47 368.40,527.47 368.60,527.47 368.80,527.47 369.00,527.47 369.20,527.47 369.40,527.47 369.60,527.47 369.80,527.47 370.00,527.47 370.20,527.47 370.40,527.47 370.60,527.47 370.80,527.47 371.00,527.47 371.20,527.47 371.40,527.47 371.60,527.47 371.80,527.47 372.00,527.47 372.20,527.47 372.40,527.47 372.60,527.47 372.80,527.47 373.00,527.47 373.20,527.47 373.40,527.47 373.60,527.47 373.80,527.47 374.00,527.47 374.20,527.47 374.40,527.47 374.60,527.47 374.80,527.47 375.00,527.47 375.20,527.47 375.40,527.47 375.60,527.47 375.80,527.47 376.00,527.47 376.20,527.47 376.40,527.47 376.60,527.47 376.80,527.47 377.00,527.47 377.20,527.47 377.40,527.47 377.60,527.47 377.80,527.47 378.00,527.47 378.20,527.47 378.40,527.46 378.60,527.46 378.80,527.46 379.00,527.46 379.20,527.46 379.40,527.46 379.60,527.46 379.80,527.46 380.00,527.46 380.20,527.46 380.40,527.46 380.60,527.46 380.80,527.46 381.00,527.46 381.20,527.46 381.40,527.46 381.60,527.46 381.80,527.46 382.00,527.46 382.20,527.46 382.40,527.46 382.60,527.46 382.80,527.46 383.00,527.46 383.20,527.46 383.40,527.46 383.60,527.46 383.80,527.46 384.00,527.46 384.20,527.46 384.40,527.46 384.60,527.46 384.80,527.46 385.00,527.46 385.20,527.46 385.40,527.46 385.60,527.46 385.80,527.46 386.00,527.46 386.20,527.46 386.40,527.46 386.60,527.46 386.80,527.46 387.00,527.46 387.20,527.46 387.40,527.46 387.60,527.46 387.80,527.46 388.00,527.46 388.20,527.46 388.40,527.46 388.60,527.46 388.80,527.46 389.00,527.46 389.20,527.46 389.40,527.45 389.60,527.45 389.80,527.45 390.00,527.45 390.20,527.45 390.40,527.45 390.60,527.45 390.80,527.45 391.00,527.45 391.20,527.45 391.40,527.45 391.60,527.45 391.80,527.45 392.00,527.45 392.20,527.45 392.40,527.45 392.60,527.45 392.80,527.45 393.00,527.45 393.20,527.45 393.40,527.45 393.60,527.45 393.80,527.45 394.00,527.45 394.20,527.45 394.40,527.45 394.60,527.45 394.80,527.45 395.00,527.45 395.20,527.45 395.40,527.45 395.60,527.45 395.80,527.45 396.00,527.45 396.20,527.44 396.40,527.44 396.60,527.44 396.80,527.44 397.00,527.44 397.20,527.44 397.40,527.44 397.60,527.44 397.80,527.44 398.00,527.44 398.20,527.44 398.40,527.44 398.60,527.44 398.80,527.44 399.00,527.44 399.20,527.44 399.40,527.44 399.60,527.44 399.80,527.44 400.00,527.44 400.20,527.44 400.40,527.44 400.60,527.44 400.80,527.44 401.00,527.44 401.20,527.43 401.40,527.43 401.60,527.43 401.80,527.43 402.00,527.43 402.20,527.43 402.40,527.43 402.60,527.43 402.80,527.43 403.00,527.43 403.20,527.43 403.40,527.43 403.60,527.43 403.80,527.43 404.00,527.43 404.20,527.43 404.40,527.43 404.60,527.43 404.80,527.43 405.00,527.42 405.20,527.42 405.40,527.42 405.60,527.42 405.80,527.42 406.00,527.42 406.20,527.42 406.40,527.42 406.60,527.42 406.80,527.42 407.00,527.42 407.20,527.42 407.40,527.42 407.60,527.42 407.80,527.42 408.00,527.42 408.20,527.41 408.40,527.41 408.60,527.41 408.80,527.41 409.00,527.41 409.20,527.41 409.40,527.41 409.60,527.41 409.80,527.41 410.00,527.41 410.20,527.41 410.40,527.41 410.60,527.40 410.80,527.40 411.00,527.40 411.20,527.40 411.40,527.40 411.60,527.40 411.80,527.40 412.00,527.40 412.20,527.40 412.40,527.40 412.60,527.40 412.80,527.39 413.00,527.39 413.20,527.39 413.40,527.39 413.60,527.39 413.80,527.39 414.00,527.39 414.20,527.39 414.40,527.39 414.60,527.38 414.80,527.38 415.00,527.38 415.20,527.38 415.40,527.38 415.60,527.38 415.80,527.38 416.00,527.38 416.20,527.37 416.40,527.37 416.60,527.37 416.80,527.37 417.00,527.37 417.20,527.37 417.40,527.37 417.60,527.36 417.80,527.36 418.00,527.36 418.20,527.36 418.40,527.36 418.60,527.36 418.80,527.35 419.00,527.35 419.20,527.35 419.40,527.35 419.60,527.35 419.80,527.34 420.00,527.34 420.20,527.34 420.40,527.34 420.60,527.34 420.80,527.33 421.00,527.33 421.20,527.33 421.40,527.33 421.60,527.33 421.80,527.32 422.00,527.32 422.20,527.32 422.40,527.32 422.60,527.31 422.80,527.31 423.00,527.31 423.20,527.31 423.40,527.30 423.60,527.30 423.80,527.30 424.00,527.29 424.20,527.29 424.40,527.29 424.60,527.29 424.80,527.28 425.00,527.28 425.20,527.28 425.40,527.27 425.60,527.27 425.80,527.27 426.00,527.26 426.20,527.26 426.40,527.25 426.60,527.25 426.80,527.25 427.00,527.24 427.20,527.24 427.40,527.23 427.60,527.23 427.80,527.23 428.00,527.22 428.20,527.22 428.40,527.21 428.60,527.21 428.80,527.20 429.00,527.20 429.20,527.19 429.40,527.18 429.60,527.18 429.80,527.17 430.00,527.17 430.20,527.16 430.40,527.15 430.60,527.15 430.80,527.14 431.00,527.13 431.20,527.13 431.40,527.12 431.60,527.11 431.80,527.10 432.00,527.10 432.20,527.09 432.40,527.08 432.60,527.07 432.80,527.06 433.00,527.05 433.20,527.04 433.40,527.03 433.60,527.02 433.80,527.01 434.00,527.00 434.20,526.99 434.40,526.98 434.60,526.96 434.80,526.95 435.00,526.94 435.20,526.93 435.40,526.91 435.60,526.90 435.80,526.88 436.00,526.87 436.20,526.85 436.40,526.84 436.60,526.82 436.80,526.80 437.00,526.78 437.20,526.76 437.40,526.74 437.60,526.72 437.80,526.70 438.00,526.68 438.20,526.66 438.40,526.63 438.60,526.61 438.80,526.58 439.00,526.55 439.20,526.53 439.40,526.50 439.60,526.47 439.80,526.44 440.00,526.40 440.20,526.37 440.40,526.33 440.60,526.30 440.80,526.26 441.00,526.22 441.20,526.18 441.40,526.14 441.60,526.09 441.80,526.05 442.00,526.00 442.20,525.95 442.40,525.90 442.60,525.84 442.80,525.79 443.00,525.73 443.20,525.67 443.40,525.61 443.60,525.55 443.80,525.48 444.00,525.41 444.20,525.34 444.40,525.27 444.60,525.20 444.80,525.13 445.00,525.06 445.20,524.98 445.40,524.90 445.60,524.83 445.80,524.75 446.00,524.68 446.20,524.60 446.40,524.53 446.60,524.46 446.80,524.39 447.00,524.33 447.20,524.27 447.40,524.21 447.60,524.16 447.80,524.11 448.00,524.07 448.20,524.04 448.40,524.01 448.60,523.99 448.80,523.98 449.00,523.98 449.20,523.98 449.40,523.99 449.60,524.01 449.80,524.04 450.00,524.07 450.20,524.11 450.40,524.16 450.60,524.21 450.80,524.26 451.00,524.32 451.20,524.39 451.40,524.46 451.60,524.53 451.80,524.60 452.00,524.67 452.20,524.75 452.40,524.82 452.60,524.90 452.80,524.98 453.00,525.05 453.20,525.12 453.40,525.20 453.60,525.27 453.80,525.34 454.00,525.41 454.20,525.47 454.40,525.54 454.60,525.60 454.80,525.66 455.00,525.72 455.20,525.78 455.40,525.83 455.60,525.89 455.80,525.94 456.00,525.99 456.20,526.04 456.40,526.08 456.60,526.13 456.80,526.17 457.00,526.21 457.20,526.25 457.40,526.29 457.60,526.32 457.80,526.36 458.00,526.39 458.20,526.43 458.40,526.46 458.60,526.49 458.80,526.51 459.00,526.54 459.20,526.57 459.40,526.59 459.60,526.62 459.80,526.64 460.00,526.67 460.20,526.69 460.40,526.71 460.60,526.73 460.80,526.75 461.00,526.77 461.20,526.79 461.40,526.80 461.60,526.82 461.80,526.84 462.00,526.85 462.20,526.87 462.40,526.88 462.60,526.90 462.80,526.91 463.00,526.92 463.20,526.93 463.40,526.95 463.60,526.96 463.80,526.97 464.00,526.98 464.20,526.99 464.40,527.00 464.60,527.01 464.80,527.02 465.00,527.03 465.20,527.04 465.40,527.05 465.60,527.06 465.80,527.07 466.00,527.07 466.20,527.08 466.40,527.09 466.60,527.10 466.80,527.10 467.00,527.11 467.20,527.12 467.40,527.12 467.60,527.13 467.80,527.14 468.00,527.14 468.20,527.15 468.40,527.15 468.60,527.16 468.80,527.16 469.00,527.17 469.20,527.17 469.40,527.18 469.60,527.18 469.80,527.19 470.00,527.19 470.20,527.20 470.40,527.20 470.60,527.20 470.80,527.21 471.00,527.21 471.20,527.22 471.40,527.22 471.60,527.22 471.80,527.23 472.00,527.23 472.20,527.23 472.40,527.24 472.60,527.24 472.80,527.24 473.00,527.24 473.20,527.25 473.40,527.25 473.60,527.25 473.80,527.26 474.00,527.26 474.20,527.26 474.40,527.26 474.60,527.27 474.80,527.27 475.00,527.27 475.20,527.27 475.40,527.27 475.60,527.28 475.80,527.28 476.00,527.28 476.20,527.28 476.40,527.28 476.60,527.29 476.80,527.29 477.00,527.29 477.20,527.29 477.40,527.29 477.60,527.29 477.80,527.29 478.00,527.30 478.20,527.30 478.40,527.30 478.60,527.30 478.80,527.30 479.00,527.30 479.20,527.30 479.40,527.31 479.60,527.31 479.80,527.31 480.00,527.31 480.20,527.31 480.40,527.31 480.60,527.31 480.80,527.31 481.00,527.31 481.20,527.31 481.40,527.31 481.60,527.32 481.80,527.32 482.00,527.32 482.20,527.32 482.40,527.32 482.60,527.32 482.80,527.32 483.00,527.32 483.20,527.32 483.40,527.32 483.60,527.32 483.80,527.32 484.00,527.32 484.20,527.32 484.40,527.32 484.60,527.32 484.80,527.32 485.00,527.32 485.20,527.32 485.40,527.32 485.60,527.32 485.80,527.32 486.00,527.32 486.20,527.32 486.40,527.32 486.60,527.32 486.80,527.32 487.00,527.32 487.20,527.32 487.40,527.32 487.60,527.32 487.80,527.32 488.00,527.32 488.20,527.32 488.40,527.32 488.60,527.32 488.80,527.32 489.00,527.32 489.20,527.32 489.40,527.32 489.60,527.32 489.80,527.32 490.00,527.32 490.20,527.32 490.40,527.32 490.60,527.32 490.80,527.32 491.00,527.32 491.20,527.32 491.40,527.32 491.60,527.31 491.80,527.31 492.00,527.31 492.20,527.31 492.40,527.31 492.60,527.31 492.80,527.31 493.00,527.31 493.20,527.31 493.40,527.31 493.60,527.30 493.80,527.30 494.00,527.30 494.20,527.30 494.40,527.30 494.60,527.30 494.80,527.30 495.00,527.30 495.20,527.29 495.40,527.29 495.60,527.29 495.80,527.29 496.00,527.29 496.20,527.29 496.40,527.29 496.60,527.28 496.80,527.28 497.00,527.28 497.20,527.28 497.40,527.28 497.60,527.27 497.80,527.27 498.00,527.27 498.20,527.27 498.40,527.27 498.60,527.26 498.80,527.26 499.00,527.26 499.20,527.26 499.40,527.25 499.60,527.25 499.80,527.25 500.00,527.24 500.20,527.24 500.40,527.24 500.60,527.24 500.80,527.23 501.00,527.23 501.20,527.23 501.40,527.22 501.60,527.22 501.80,527.22 502.00,527.21 502.20,527.21 502.40,527.20 502.60,527.20 502.80,527.20 503.00,527.19 503.20,527.19 503.40,527.18 503.60,527.18 503.80,527.17 504.00,527.17 504.20,527.16 504.40,527.16 504.60,527.15 504.80,527.15 505.00,527.14 505.20,527.14 505.40,527.13 505.60,527.12 505.80,527.12 506.00,527.11 506.20,527.10 506.40,527.10 506.60,527.09 506.80,527.08 507.00,527.07 507.20,527.07 507.40,527.06 507.60,527.05 507.80,527.04 508.00,527.03 508.20,527.02 508.40,527.01 508.60,527.00 508.80,526.99 509.00,526.98 509.20,526.97 509.40,526.96 509.60,526.95 509.80,526.93 510.00,526.92 510.20,526.91 510.40,526.89 510.60,526.88 510.80,526.87 511.00,526.85 511.20,526.84 511.40,526.82 511.60,526.80 511.80,526.78 512.00,526.77 512.20,526.75 512.40,526.73 512.60,526.71 512.80,526.69 513.00,526.67 513.20,526.64 513.40,526.62 513.60,526.59 513.80,526.57 514.00,526.54 514.20,526.51 514.40,526.49 514.60,526.46 514.80,526.42 515.00,526.39 515.20,526.36 515.40,526.32 515.60,526.29 515.80,526.25 516.00,526.21 516.20,526.17 516.40,526.13 516.60,526.08 516.80,526.04 517.00,525.99 517.20,525.94 517.40,525.89 517.60,525.83 517.80,525.78 518.00,525.72 518.20,525.66 518.40,525.60 518.60,525.54 518.80,525.47 519.00,525.41 519.20,525.34 519.40,525.27 519.60,525.20 519.80,525.12 520.00,525.05 520.20,524.98 520.40,524.90 520.60,524.82 520.80,524.75 521.00,524.67 521.20,524.60 521.40,524.53 521.60,524.46 521.80,524.39 522.00,524.32 522.20,524.26 522.40,524.21 522.60,524.16 522.80,524.11 523.00,524.07 523.20,524.04 523.40,524.01 523.60,523.99 523.80,523.98 524.00,523.98 524.20,523.98 524.40,523.99 524.60,524.01 524.80,524.04 525.00,524.07 525.20,524.11 525.40,524.16 525.60,524.21 525.80,524.27 526.00,524.33 526.20,524.39 526.40,524.46 526.60,524.53 526.80,524.60 527.00,524.68 527.20,524.75 527.40,524.83 527.60,524.90 527.80,524.98 528.00,525.05 528.20,525.13 528.40,525.20 528.60,525.27 528.80,525.34 529.00,525.41 529.20,525.48 529.40,525.54 529.60,525.61 529.80,525.67 530.00,525.73 530.20,525.79 530.40,525.84 530.60,525.90 530.80,525.95 531.00,526.00 531.20,526.04 531.40,526.09 531.60,526.14 531.80,526.18 532.00,526.22 532.20,526.26 532.40,526.30 532.60,526.33 532.80,526.37 533.00,526.40 533.20,526.44 533.40,526.47 533.60,526.50 533.80,526.53 534.00,526.55 534.20,526.58 534.40,526.61 534.60,526.63 534.80,526.66 535.00,526.68 535.20,526.70 535.40,526.72 535.60,526.74 535.80,526.76 536.00,526.78 536.20,526.80 536.40,526.82 536.60,526.83 536.80,526.85 537.00,526.87 537.20,526.88 537.40,526.90 537.60,526.91 537.80,526.93 538.00,526.94 538.20,526.95 538.40,526.96 538.60,526.98 538.80,526.99 539.00,527.00 539.20,527.01 539.40,527.02 539.60,527.03 539.80,527.04 540.00,527.05 540.20,527.06 540.40,527.07 540.60,527.08 540.80,527.09 541.00,527.10 541.20,527.10 541.40,527.11 541.60,527.12 541.80,527.13 542.00,527.13 542.20,527.14 542.40,527.15 542.60,527.15 542.80,527.16 543.00,527.17 543.20,527.17 543.40,527.18 543.60,527.18 543.80,527.19 544.00,527.19 544.20,527.20 544.40,527.21 544.60,527.21 544.80,527.22 545.00,527.22 545.20,527.22 545.40,527.23 545.60,527.23 545.80,527.24 546.00,527.24 546.20,527.25 546.40,527.25 546.60,527.25 546.80,527.26 547.00,527.26 547.20,527.27 547.40,527.27 547.60,527.27 547.80,527.28 548.00,527.28 548.20,527.28 548.40,527.29 548.60,527.29 548.80,527.29 549.00,527.29 549.20,527.30 549.40,527.30 549.60,527.30 549.80,527.31 550.00,527.31 550.20,527.31 550.40,527.31 550.60,527.32 550.80,527.32 551.00,527.32 551.20,527.32 551.40,527.33 551.60,527.33 551.80,527.33 552.00,527.33 552.20,527.33 552.40,527.34 552.60,527.34 552.80,527.34 553.00,527.34 553.20,527.34 553.40,527.35 553.60,527.35 553.80,527.35 554.00,527.35 554.20,527.35 554.40,527.35 554.60,527.36 554.80,527.36 555.00,527.36 555.20,527.36 555.40,527.36 555.60,527.36 555.80,527.37 556.00,527.37 556.20,527.37 556.40,527.37 556.60,527.37 556.80,527.37 557.00,527.37 557.20,527.38 557.40,527.38 557.60,527.38 557.80,527.38 558.00,527.38 558.20,527.38 558.40,527.38 558.60,527.38 558.80,527.39 559.00,527.39 559.20,527.39 559.40,527.39 559.60,527.39 559.80,527.39 560.00,527.39 560.20,527.39 560.40,527.39 560.60,527.40 560.80,527.40 561.00,527.40 561.20,527.40 561.40,527.40 561.60,527.40 561.80,527.40 562.00,527.40 562.20,527.40 562.40,527.40 562.60,527.40 562.80,527.41 563.00,527.41 563.20,527.41 563.40,527.41 563.60,527.41 563.80,527.41 564.00,527.41 564.20,527.41 564.40,527.41 564.60,527.41 564.80,527.41 565.00,527.41 565.20,527.41 565.40,527.42 565.60,527.42 565.80,527.42 566.00,527.42 566.20,527.42 566.40,527.42 566.60,527.42 566.80,527.42 567.00,527.42 567.20,527.42 567.40,527.42 567.60,527.42 567.80,527.42 568.00,527.42 568.20,527.42 568.40,527.42 568.60,527.43 568.80,527.43 569.00,527.43 569.20,527.43 569.40,527.43 569.60,527.43 569.80,527.43 570.00,527.43 570.20,527.43 570.40,527.43 570.60,527.43 570.80,527.43 571.00,527.43 571.20,527.43 571.40,527.43 571.60,527.43 571.80,527.43 572.00,527.43 572.20,527.43 572.40,527.44 572.60,527.44 572.80,527.44 573.00,527.44 573.20,527.44 573.40,527.44 573.60,527.44 573.80,527.44 574.00,527.44 574.20,527.44 574.40,527.44 574.60,527.44 574.80,527.44 575.00,527.44 575.20,527.44 575.40,527.44 575.60,527.44 575.80,527.44 576.00,527.44 576.20,527.44 576.40,527.44 576.60,527.44 576.80,527.44 577.00,527.44 577.20,527.44 577.40,527.44 577.60,527.44 577.80,527.45 578.00,527.45 578.20,527.45 578.40,527.45 578.60,527.45 578.80,527.45 579.00,527.45 579.20,527.45 579.40,527.45 579.60,527.45 579.80,527.45 580.00,527.45 580.20,527.45 580.40,527.45 580.60,527.45 580.80,527.45 581.00,527.45 581.20,527.45 581.40,527.45 581.60,527.45 581.80,527.45 582.00,527.45 582.20,527.45 582.40,527.45 582.60,527.45 582.80,527.45 583.00,527.45 583.20,527.45 583.40,527.45 583.60,527.45 583.80,527.45 584.00,527.45 584.20,527.45 584.40,527.45 584.60,527.45 584.80,527.45 585.00,527.45 585.20,527.45 585.40,527.46 585.60,527.46 585.80,527.46 586.00,527.46 586.20,527.46 586.40,527.46 586.60,527.46 586.80,527.46 587.00,527.46 587.20,527.46 587.40,527.46 587.60,527.46 587.80,527.46 588.00,527.46 588.20,527.46 588.40,527.46 588.60,527.46 588.80,527.46 589.00,527.46 589.20,527.46 589.40,527.46 589.60,527.46 589.80,527.46 590.00,527.46 590.20,527.46 590.40,527.46 590.60,527.46 590.80,527.46 591.00,527.46 591.20,527.46 591.40,527.46 591.60,527.46 591.80,527.46 592.00,527.46 592.20,527.46 592.40,527.46 592.60,527.46 592.80,527.46 593.00,527.46 593.20,527.46 593.40,527.46 593.60,527.46 593.80,527.46 594.00,527.46 594.20,527.46 594.40,527.46 594.60,527.46 594.80,527.46 595.00,527.46 595.20,527.46 595.40,527.46 595.60,527.46 595.80,527.46 596.00,527.46 596.20,527.46 596.40,527.46 596.60,527.46 596.80,527.46 597.00,527.46 597.20,527.46 597.40,527.46 597.60,527.46 597.80,527.46 598.00,527.46 598.20,527.46 598.40,527.46 598.60,527.46 598.80,527.46 599.00,527.47 599.20,527.47 599.40,527.47 599.60,527.47 599.80,527.47 600.00,527.47 600.20,527.47 600.40,527.47 600.60,527.47 600.80,527.47 601.00,527.47 601.20,527.47 601.40,527.47 601.60,527.47 601.80,527.47 602.00,527.47 602.20,527.47 602.40,527.47 602.60,527.47 602.80,527.47 603.00,527.47 603.20,527.47 603.40,527.47 603.60,527.47 603.80,527.47 604.00,527.47 604.20,527.47 604.40,527.47 604.60,527.47 604.80,527.47 605.00,527.47 605.20,527.47 605.40,527.47 605.60,527.47 605.80,527.47 606.00,527.47 606.20,527.47 606.40,527.47 606.60,527.47 606.80,527.47 607.00,527.47 607.20,527.47 607.40,527.47 607.60,527.47 607.80,527.47 608.00,527.47 608.20,527.47 608.40,527.47 608.60,527.47 608.80,527.47 609.00,527.47 609.20,527.47 609.40,527.47 609.60,527.47 609.80,527.47 610.00,527.47 610.20,527.47 610.40,527.47 610.60,527.47 610.80,527.47 611.00,527.47 611.20,527.47 611.40,527.47 611.60,527.47 611.80,527.47 612.00,527.47 612.20,527.47 612.40,527.47 612.60,527.47 612.80,527.47 613.00,527.47 613.20,527.47 613.40,527.47 613.60,527.47 613.80,527.47 614.00,527.47 614.20,527.47 614.40,527.47 614.60,527.47 614.80,527.47 615.00,527.47 615.20,527.47 615.40,527.47 615.60,527.47 615.80,527.47 616.00,527.47 616.20,527.47 616.40,527.47 616.60,527.47 616.80,527.47 617.00,527.47 617.20,527.47 617.40,527.47 617.60,527.47 617.80,527.47 618.00,527.47 618.20,527.47 618.40,527.47 618.60,527.47 618.80,527.47 619.00,527.47 619.20,527.47 619.40,527.47 619.60,527.47 619.80,527.47 620.00,527.47 620.20,527.47 620.40,527.47 620.60,527.47 620.80,527.47 621.00,527.47 621.20,527.47 621.40,527.47 621.60,527.47 621.80,527.47 622.00,527.47 622.20,527.47 622.40,527.46 622.60,527.46 622.80,527.46 623.00,527.46 623.20,527.46 623.40,527.46 623.60,527.46 623.80,527.46 624.00,527.46 624.20,527.46 624.40,527.46 624.60,527.46 624.80,527.46 625.00,527.46 625.20,527.46 625.40,527.46 625.60,527.46 625.80,527.46 626.00,527.46 626.20,527.46 626.40,527.46 626.60,527.46 626.80,527.46 627.00,527.46 627.20,527.46 627.40,527.46 627.60,527.46 627.80,527.46 628.00,527.46 628.20,527.46 628.40,527.46 628.60,527.46 628.80,527.46 629.00,527.46 629.20,527.46 629.40,527.46 629.60,527.46 629.80,527.46 630.00,527.46 630.20,527.46 630.40,527.46 630.60,527.46 630.80,527.46 631.00,527.45 631.20,527.45 631.40,527.45 631.60,527.45 631.80,527.45 632.00,527.45 632.20,527.45 632.40,527.45 632.60,527.45 632.80,527.45 633.00,527.45 633.20,527.45 633.40,527.45 633.60,527.45 633.80,527.45 634.00,527.45 634.20,527.45 634.40,527.45 634.60,527.45 634.80,527.45 635.00,527.44 635.20,527.44 635.40,527.44 635.60,527.44 635.80,527.44 636.00,527.44 636.20,527.44 636.40,527.44 636.60,527.44 636.80,527.44 637.00,527.44 637.20,527.44 637.40,527.43 637.60,527.43 637.80,527.43 638.00,527.43 638.20,527.43 638.40,527.43 638.60,527.43 638.80,527.43 639.00,527.43 639.20,527.42 639.40,527.42 639.60,527.42 639.80,527.42 640.00,527.42 640.20,527.42 640.40,527.42 640.60,527.41 640.80,527.41 641.00,527.41 641.20,527.41 641.40,527.41 641.60,527.41 641.80,527.40 642.00,527.40 642.20,527.40 642.40,527.40 642.60,527.39 642.80,527.39 643.00,527.39 643.20,527.39 643.40,527.38 643.60,527.38 643.80,527.38 644.00,527.37 644.20,527.37 644.40,527.37 644.60,527.36 644.80,527.36 645.00,527.36 645.20,527.35 645.40,527.35 645.60,527.34 645.80,527.34 646.00,527.33 646.20,527.32 646.40,527.32 646.60,527.31 646.80,527.31 647.00,527.30 647.20,527.29 647.40,527.28 647.60,527.27 647.80,527.26 648.00,527.25 648.20,527.24 648.40,527.23 648.60,527.22 648.80,527.21 649.00,527.19 649.20,527.18 649.40,527.16 649.60,527.15 649.80,527.13 650.00,527.11 650.20,527.08 650.40,527.06 650.60,527.03 650.80,527.00 651.00,526.97 651.20,526.93 651.40,526.89 651.60,526.85 651.80,526.80 652.00,526.75 652.20,526.68 652.40,526.61 652.60,526.53 652.80,526.44 653.00,526.33 653.20,526.21 653.40,526.07 653.60,525.90 653.80,525.70 654.00,525.46 654.20,525.17 654.40,524.81 654.60,524.36 654.80,523.79 655.00,523.05 655.20,522.07 655.40,520.74 655.60,518.87 655.80,516.14 656.00,511.99 656.20,505.37 656.40,494.36 656.60,476.09 656.80,450.66 657.00,435.48 657.20,450.66 657.40,476.09 657.60,494.36 657.80,505.37 658.00,511.99 658.20,516.14 658.40,518.87 658.60,520.74 658.80,522.07 659.00,523.05 659.20,523.79 659.40,524.36 659.60,524.81 659.80,525.17 660.00,525.46 660.20,525.70 660.40,525.90 660.60,526.07 660.80,526.21 661.00,526.33 661.20,526.44 661.40,526.53 661.60,526.61 661.80,526.68 662.00,526.74 662.20,526.80 662.40,526.85 662.60,526.89 662.80,526.93 663.00,526.97 663.20,527.00 663.40,527.03 663.60,527.06 663.80,527.08 664.00,527.11 664.20,527.13 664.40,527.14 664.60,527.16 664.80,527.18 665.00,527.19 665.20,527.21 665.40,527.22 665.60,527.23 665.80,527.24 666.00,527.25 666.20,527.26 666.40,527.27 666.60,527.28 666.80,527.29 667.00,527.30 667.20,527.30 667.40,527.31 667.60,527.32 667.80,527.32 668.00,527.33 668.20,527.33 668.40,527.34 668.60,527.34 668.80,527.35 669.00,527.35 669.20,527.36 669.40,527.36 669.60,527.37 669.80,527.37 670.00,527.37 670.20,527.38 670.40,527.38 670.60,527.38 670.80,527.38 671.00,527.39 671.20,527.39 671.40,527.39 671.60,527.39 671.80,527.40 672.00,527.40 672.20,527.40 672.40,527.40 672.60,527.41 672.80,527.41 673.00,527.41 673.20,527.41 673.40,527.41 673.60,527.41 673.80,527.42 674.00,527.42 674.20,527.42 674.40,527.42 674.60,527.42 674.80,527.42 675.00,527.42 675.20,527.42 675.40,527.43 675.60,527.43 675.80,527.43 676.00,527.43 676.20,527.43 676.40,527.43 676.60,527.43 676.80,527.43 677.00,527.43 677.20,527.43 677.40,527.43 677.60,527.44 677.80,527.44 678.00,527.44 678.20,527.44 678.40,527.44 678.60,527.44 678.80,527.44 679.00,527.44 679.20,527.44 679.40,527.44 679.60,527.44 679.80,527.44 680.00,527.44 680.20,527.44 680.40,527.44 680.60,527.44 680.80,527.44 681.00,527.44 681.20,527.44 681.40,527.45 681.60,527.45 681.80,527.45 682.00,527.45 682.20,527.45 682.40,527.45 682.60,527.45 682.80,527.45 683.00,527.45 683.20,527.45 683.40,527.45 683.60,527.45 683.80,527.45 684.00,527.45 684.20,527.45 684.40,527.45 684.60,527.45 684.80,527.45 685.00,527.45 685.20,527.45 685.40,527.45 685.60,527.45 685.80,527.45 686.00,527.45 686.20,527.45 686.40,527.45 686.60,527.45 686.80,527.45 687.00,527.45 687.20,527.45 687.40,527.45 687.60,527.45 687.80,527.45 688.00,527.45 688.20,527.45 688.40,527.45 688.60,527.45 688.80,527.45 689.00,527.45 689.20,527.45 689.40,527.45 689.60,527.45 689.80,527.45 690.00,527.45 690.20,527.45 690.40,527.45 690.60,527.45 690.80,527.45 691.00,527.45 691.20,527.45 691.40,527.45 691.60,527.45 691.80,527.44 692.00,527.44 692.20,527.44 692.40,527.44 692.60,527.44 692.80,527.44 693.00,527.44 693.20,527.44 693.40,527.44 693.60,527.44 693.80,527.44 694.00,527.44 694.20,527.44 694.40,527.44 694.60,527.44 694.80,527.44 695.00,527.44 695.20,527.44 695.40,527.43 695.60,527.43 695.80,527.43 696.00,527.43 696.20,527.43 696.40,527.43 696.60,527.43 696.80,527.43 697.00,527.43 697.20,527.43 697.40,527.43 697.60,527.42 697.80,527.42 698.00,527.42 698.20,527.42 698.40,527.42 698.60,527.42 698.80,527.42 699.00,527.41 699.20,527.41 699.40,527.41 699.60,527.41 699.80,527.41 700.00,527.41 700.20,527.40 700.40,527.40 700.60,527.40 700.80,527.40 701.00,527.40 701.20,527.39 701.40,527.39 701.60,527.39 701.80,527.39 702.00,527.38 702.20,527.38 702.40,527.38 702.60,527.37 702.80,527.37 703.00,527.37 703.20,527.36 703.40,527.36 703.60,527.35 703.80,527.35 704.00,527.34 704.20,527.34 704.40,527.33 704.60,527.33 704.80,527.32 705.00,527.32 705.20,527.31 705.40,527.30 705.60,527.30 705.80,527.29 706.00,527.28 706.20,527.27 706.40,527.26 706.60,527.25 706.80,527.24 707.00,527.23 707.20,527.22 707.40,527.20 707.60,527.19 707.80,527.17 708.00,527.16 708.20,527.14 708.40,527.12 708.60,527.10 708.80,527.07 709.00,527.05 709.20,527.02 709.40,526.99 709.60,526.96 709.80,526.92 710.00,526.88 710.20,526.83 710.40,526.78 710.60,526.72 710.80,526.65 711.00,526.58 711.20,526.49 711.40,526.39 711.60,526.28 711.80,526.15 712.00,525.99 712.20,525.81 712.40,525.59 712.60,525.33 712.80,525.00 713.00,524.60 713.20,524.10 713.40,523.45 713.60,522.60 713.80,521.46 714.00,519.89 714.20,517.64 714.40,514.30 714.60,509.09 714.80,500.59 715.00,486.32 715.20,463.80 715.40,439.82 715.60,439.82 715.80,463.80 716.00,486.32 716.20,500.59 716.40,509.09 716.60,514.30 716.80,517.65 717.00,519.89 717.20,521.47 717.40,522.60 717.60,523.45 717.80,524.10 718.00,524.60 718.20,525.00 718.40,525.33 718.60,525.59 718.80,525.81 719.00,525.99 719.20,526.15 719.40,526.28 719.60,526.40 719.80,526.49 720.00,526.58 720.20,526.65 720.40,526.72 720.60,526.78 720.80,526.83 721.00,526.88 721.20,526.92 721.40,526.96 721.60,526.99 721.80,527.02 722.00,527.05 722.20,527.08 722.40,527.10 722.60,527.12 722.80,527.14 723.00,527.16 723.20,527.18 723.40,527.19 723.60,527.21 723.80,527.22 724.00,527.23 724.20,527.25 724.40,527.26 724.60,527.27 724.80,527.28 725.00,527.29 725.20,527.29 725.40,527.30 725.60,527.31 725.80,527.32 726.00,527.32 726.20,527.33 726.40,527.33 726.60,527.34 726.80,527.35 727.00,527.35 727.20,527.36 727.40,527.36 727.60,527.36 727.80,527.37 728.00,527.37 728.20,527.38 728.40,527.38 728.60,527.38 728.80,527.39 729.00,527.39 729.20,527.39 729.40,527.40 729.60,527.40 729.80,527.40 730.00,527.40 730.20,527.41 730.40,527.41 730.60,527.41 730.80,527.41 731.00,527.41 731.20,527.42 731.40,527.42 731.60,527.42 731.80,527.42 732.00,527.42 732.20,527.43 732.40,527.43 732.60,527.43 732.80,527.43 733.00,527.43 733.20,527.43 733.40,527.43 733.60,527.44 733.80,527.44 734.00,527.44 734.20,527.44 734.40,527.44 734.60,527.44 734.80,527.44 735.00,527.44 735.20,527.44 735.40,527.45 735.60,527.45 735.80,527.45 736.00,527.45 736.20,527.45 736.40,527.45 736.60,527.45 736.80,527.45 737.00,527.45 737.20,527.45 737.40,527.45 737.60,527.45 737.80,527.46 738.00,527.46 738.20,527.46 738.40,527.46 738.60,527.46 738.80,527.46 739.00,527.46 739.20,527.46 739.40,527.46 739.60,527.46 739.80,527.46 740.00,527.46 740.20,527.46 740.40,527.46 740.60,527.46 740.80,527.46 741.00,527.46 741.20,527.46 741.40,527.47 741.60,527.47 741.80,527.47 742.00,527.47 742.20,527.47 742.40,527.47 742.60,527.47 742.80,527.47" fill="none" stroke="#3f3f3f" stroke-width="2.4" stroke-linejoin="round"/>
<rect x="229.5" y="422" width="111.0" height="11" fill="none" stroke="#f5a04a" stroke-width="1.6" stroke-dasharray="4.5,3.5"/>
<rect x="226" y="520" width="111.5" height="12" fill="none" stroke="#f5a04a" stroke-width="1.6" stroke-dasharray="4.5,3.5"/>
<rect x="434" y="419.5" width="125" height="12.5" fill="none" stroke="#3aa935" stroke-width="1.6" stroke-dasharray="4.5,3.5"/>
<rect x="430.5" y="519" width="125.0" height="13" fill="none" stroke="#3aa935" stroke-width="1.6" stroke-dasharray="4.5,3.5"/>
<rect x="640.5" y="389" width="87.5" height="43" fill="none" stroke="#2e9fe6" stroke-width="1.6" stroke-dasharray="4.5,3.5"/>
<rect x="640.5" y="432" width="87.5" height="98" fill="none" stroke="#2e9fe6" stroke-width="1.6" stroke-dasharray="4.5,3.5"/>
<text x="284.0" y="416.9" text-anchor="middle" font-family="Liberation Sans" font-size="13.5" font-weight="bold" fill="#ff1a1a">0.13</text>
<text x="282.5" y="515.4" text-anchor="middle" font-family="Liberation Sans" font-size="13.5" font-weight="bold" fill="#231f20">0.15</text>
<text x="495.0" y="414.4" text-anchor="middle" font-family="Liberation Sans" font-size="13.5" font-weight="bold" fill="#ff1a1a">0.47</text>
<text x="495.0" y="514.9" text-anchor="middle" font-family="Liberation Sans" font-size="13.5" font-weight="bold" fill="#231f20">0.60</text>
<text x="685.5" y="423.0" text-anchor="middle" font-family="Liberation Sans" font-size="14" font-weight="bold" fill="#ff1a1a">1.0</text>
<text x="684.0" y="519.5" text-anchor="middle" font-family="Liberation Sans" font-size="14" font-weight="bold" fill="#231f20">1.0</text>
<text x="91.0" y="444.5" font-family="Liberation Sans" font-size="12.5" font-weight="bold" fill="#ff1a1a" textLength="103.5" lengthAdjust="spacingAndGlyphs" >After 20 cycles</text>
<text x="97.5" y="520.5" font-family="Liberation Sans" font-size="12.5" font-weight="bold" fill="#231f20" textLength="71.5" lengthAdjust="spacingAndGlyphs" >20% PFPN</text>
<line x1="228.0" y1="535.5" x2="228.0" y2="540.0" stroke="#333" stroke-width="2" />
<line x1="462.0" y1="535.5" x2="462.0" y2="540.0" stroke="#333" stroke-width="2" />
<line x1="697.0" y1="535.5" x2="697.0" y2="540.0" stroke="#333" stroke-width="2" />
<line x1="111.0" y1="535.5" x2="111.0" y2="538.5" stroke="#333" stroke-width="1.6" />
<line x1="345.0" y1="535.5" x2="345.0" y2="538.5" stroke="#333" stroke-width="1.6" />
<line x1="580.0" y1="535.5" x2="580.0" y2="538.5" stroke="#333" stroke-width="1.6" />
<text x="228.0" y="554.9" text-anchor="middle" font-family="Liberation Sans" font-size="13.5" font-weight="bold" fill="#231f20">-65</text>
<text x="462.0" y="554.9" text-anchor="middle" font-family="Liberation Sans" font-size="13.5" font-weight="bold" fill="#231f20">-70</text>
<text x="697.0" y="554.9" text-anchor="middle" font-family="Liberation Sans" font-size="13.5" font-weight="bold" fill="#231f20">-75</text>
<text x="324.0" y="580.1" font-family="Liberation Sans" font-size="17" font-weight="bold" fill="#231f20" textLength="182.0" lengthAdjust="spacingAndGlyphs" >Chemical shift (ppm)</text>
<text x="0" y="0" transform="translate(67.5,482) rotate(-90)" font-family="Liberation Sans" font-size="16" font-weight="bold" fill="#231f20" textLength="131" lengthAdjust="spacingAndGlyphs">Intensity (a.u.)</text>
<line x1="393.4" y1="345.7" x2="383.0" y2="351.7" stroke="#555" stroke-width="1" />
<line x1="394.5" y1="347.6" x2="384.1" y2="353.6" stroke="#555" stroke-width="1" />
<line x1="403.0" y1="346.6" x2="413.4" y2="352.6" stroke="#555" stroke-width="1" />
<line x1="416.9" y1="360.5" x2="416.9" y2="372.5" stroke="#555" stroke-width="1" />
<line x1="419.1" y1="360.5" x2="419.1" y2="372.5" stroke="#555" stroke-width="1" />
<line x1="413.4" y1="380.4" x2="403.0" y2="386.4" stroke="#555" stroke-width="1" />
<line x1="394.5" y1="385.4" x2="384.1" y2="379.4" stroke="#555" stroke-width="1" />
<line x1="393.4" y1="387.3" x2="383.0" y2="381.3" stroke="#555" stroke-width="1" />
<line x1="379.0" y1="372.5" x2="379.0" y2="360.5" stroke="#555" stroke-width="1" />
<text x="398.5" y="348.2" text-anchor="middle" font-family="Liberation Serif" font-size="12.5" font-weight="normal" fill="#555">P</text>
<text x="379.0" y="359.5" text-anchor="middle" font-family="Liberation Serif" font-size="12.5" font-weight="normal" fill="#555">N</text>
<text x="418.0" y="359.5" text-anchor="middle" font-family="Liberation Serif" font-size="12.5" font-weight="normal" fill="#555">N</text>
<text x="379.0" y="382.0" text-anchor="middle" font-family="Liberation Serif" font-size="12.5" font-weight="normal" fill="#555">P</text>
<text x="398.5" y="393.2" text-anchor="middle" font-family="Liberation Serif" font-size="12.5" font-weight="normal" fill="#555">N</text>
<text x="418.0" y="382.0" text-anchor="middle" font-family="Liberation Serif" font-size="12.5" font-weight="normal" fill="#555">P</text>
<line x1="398.3" y1="338.8" x2="397.7" y2="325.5" stroke="#555" stroke-width="1" />
<text x="397.5" y="325.2" text-anchor="middle" font-family="Liberation Serif" font-size="12.5" font-weight="normal" fill="#3aa935">F</text>
<line x1="403.0" y1="341.3" x2="413.7" y2="334.8" stroke="#555" stroke-width="1" />
<text x="417.5" y="336.8" text-anchor="middle" font-family="Liberation Serif" font-size="12.5" font-weight="normal" fill="#3aa935">F</text>
<line x1="374.5" y1="380.5" x2="361.3" y2="388.6" stroke="#555" stroke-width="1" />
<text x="357.5" y="395.2" text-anchor="middle" font-family="Liberation Serif" font-size="12.5" font-weight="normal" fill="#f5a04a">F</text>
<line x1="422.4" y1="380.5" x2="433.7" y2="387.6" stroke="#555" stroke-width="1" />
<text x="437.5" y="394.2" text-anchor="middle" font-family="Liberation Serif" font-size="12.5" font-weight="normal" fill="#3aa935">F</text>
<line x1="417.9" y1="383.0" x2="417.6" y2="396.5" stroke="#555" stroke-width="1" />
<text x="417.5" y="405.2" text-anchor="middle" font-family="Liberation Serif" font-size="12.5" font-weight="normal" fill="#3aa935">F</text>
<text x="322.5" y="372.0" font-family="Liberation Serif" font-size="12.5" font-weight="normal" fill="#555" textLength="40.0" lengthAdjust="spacingAndGlyphs" >C<tspan font-size="9" dy="2.5">2</tspan><tspan dy="-2.5">H</tspan><tspan font-size="9" dy="2.5">5</tspan><tspan dy="-2.5">O</tspan></text>
<line x1="363.0" y1="371.0" x2="371.0" y2="375.0" stroke="#555" stroke-width="1" />
<text x="347.5" y="387.7" text-anchor="middle" font-family="Liberation Sans" font-size="10" font-weight="bold" fill="#f5a04a">a</text>
<text x="447.5" y="388.0" text-anchor="middle" font-family="Liberation Sans" font-size="11" font-weight="bold" fill="#3aa935">b</text>
<line x1="356.0" y1="399.0" x2="342.0" y2="414.0" stroke="#f5a04a" stroke-width="1.8" />
<polygon points="339.0,417.5 341.1,411.1 345.4,415.3" fill="#f5a04a"/>
<line x1="440.0" y1="399.0" x2="456.0" y2="414.0" stroke="#2fa040" stroke-width="1.8" />
<polygon points="460.0,417.5 453.6,415.6 457.7,411.2" fill="#2fa040"/>
<text x="59.2" y="618" font-family="Liberation Sans" font-size="28.5" font-weight="bold" fill="#111" textLength="16" lengthAdjust="spacingAndGlyphs">c</text>
<rect x="87" y="622" width="136.5" height="22" fill="#50b3e4"/>
<rect x="87" y="644" width="136.5" height="21" fill="#fbe6cb"/>
<rect x="87" y="665" width="136.5" height="21.5" fill="#a9d9f1"/>
<rect x="86.5" y="621.8" width="244.5" height="66" fill="none" stroke="#333" stroke-width="1.6" stroke-dasharray="3.5,2.5"/>
<text x="120.7" y="636.3" font-family="Liberation Sans" font-size="10.5" font-weight="bold" fill="#1b2c3c" textLength="74.8" lengthAdjust="spacingAndGlyphs" >LiNi<tspan font-size="5.5" dy="2.5">0.5</tspan><tspan dy="-2.5">Mn</tspan><tspan font-size="5.5" dy="2.5">1.5</tspan><tspan dy="-2.5">O</tspan><tspan font-size="5.5" dy="2.5">4</tspan></text>
<text x="121.6" y="659.8" font-family="Liberation Sans" font-size="11.5" font-weight="normal" fill="#222" textLength="70.6" lengthAdjust="spacingAndGlyphs" >Electrolyte</text>
<text x="121.6" y="677.8" font-family="Liberation Sans" font-size="10.5" font-weight="bold" fill="#3f7aa6" textLength="85.9" lengthAdjust="spacingAndGlyphs" >Li<tspan font-size="5.5" dy="2.5">1-x</tspan><tspan dy="-2.5">Ni</tspan><tspan font-size="5.5" dy="2.5">0.5</tspan><tspan dy="-2.5">Mn</tspan><tspan font-size="5.5" dy="2.5">1.5</tspan><tspan dy="-2.5">O</tspan><tspan font-size="5.5" dy="2.5">4</tspan></text>
<text x="223.0" y="659.1" font-family="Liberation Sans" font-size="11.5" font-weight="bold" fill="#2a2a2a" textLength="84.4" lengthAdjust="spacingAndGlyphs" >LNMO|LNMO</text>
<text x="223.0" y="675.0" font-family="Liberation Sans" font-size="11.5" font-weight="bold" fill="#2a2a2a" textLength="102.6" lengthAdjust="spacingAndGlyphs" >symmetric cells</text>
<rect x="89" y="692.5" width="242" height="161.5" fill="none" stroke="#2b2b2b" stroke-width="1.8"/>
<line x1="84.5" y1="692.4" x2="89.0" y2="692.4" stroke="#333" stroke-width="1.5" />
<line x1="84.5" y1="734.4" x2="89.0" y2="734.4" stroke="#333" stroke-width="1.5" />
<line x1="84.5" y1="776.4" x2="89.0" y2="776.4" stroke="#333" stroke-width="1.5" />
<line x1="84.5" y1="818.4" x2="89.0" y2="818.4" stroke="#333" stroke-width="1.5" />
<line x1="86.5" y1="713.4" x2="89.0" y2="713.4" stroke="#333" stroke-width="1.2" />
<line x1="86.5" y1="755.4" x2="89.0" y2="755.4" stroke="#333" stroke-width="1.2" />
<line x1="86.5" y1="797.4" x2="89.0" y2="797.4" stroke="#333" stroke-width="1.2" />
<line x1="86.5" y1="839.4" x2="89.0" y2="839.4" stroke="#333" stroke-width="1.2" />
<text x="61.0" y="697.7" font-family="Liberation Sans" font-size="14.5" font-weight="bold" fill="#231f20" textLength="21.8" lengthAdjust="spacingAndGlyphs" >1.0</text>
<text x="61.0" y="739.7" font-family="Liberation Sans" font-size="14.5" font-weight="bold" fill="#231f20" textLength="21.8" lengthAdjust="spacingAndGlyphs" >0.5</text>
<text x="61.0" y="781.6" font-family="Liberation Sans" font-size="14.5" font-weight="bold" fill="#231f20" textLength="21.8" lengthAdjust="spacingAndGlyphs" >0.0</text>
<text x="55.0" y="823.3" font-family="Liberation Sans" font-size="14.5" font-weight="bold" fill="#231f20" textLength="27.8" lengthAdjust="spacingAndGlyphs" >-0.5</text>
<line x1="92.5" y1="854.0" x2="92.5" y2="858.5" stroke="#333" stroke-width="1.5" />
<line x1="154.8" y1="854.0" x2="154.8" y2="858.5" stroke="#333" stroke-width="1.5" />
<line x1="217.1" y1="854.0" x2="217.1" y2="858.5" stroke="#333" stroke-width="1.5" />
<line x1="279.4" y1="854.0" x2="279.4" y2="858.5" stroke="#333" stroke-width="1.5" />
<line x1="123.7" y1="854.0" x2="123.7" y2="856.5" stroke="#333" stroke-width="1.2" />
<line x1="185.9" y1="854.0" x2="185.9" y2="856.5" stroke="#333" stroke-width="1.2" />
<line x1="248.2" y1="854.0" x2="248.2" y2="856.5" stroke="#333" stroke-width="1.2" />
<line x1="310.6" y1="854.0" x2="310.6" y2="856.5" stroke="#333" stroke-width="1.2" />
<text x="91.5" y="871.2" text-anchor="middle" font-family="Liberation Sans" font-size="14.5" font-weight="bold" fill="#231f20">0</text>
<text x="155.5" y="871.2" text-anchor="middle" font-family="Liberation Sans" font-size="14.5" font-weight="bold" fill="#231f20">30</text>
<text x="217.0" y="871.2" text-anchor="middle" font-family="Liberation Sans" font-size="14.5" font-weight="bold" fill="#231f20">60</text>
<text x="279.5" y="871.2" text-anchor="middle" font-family="Liberation Sans" font-size="14.5" font-weight="bold" fill="#231f20">90</text>
<text x="135.0" y="893.4" font-family="Liberation Sans" font-size="16.5" font-weight="bold" fill="#231f20" textLength="162.5" lengthAdjust="spacingAndGlyphs" >Capacity (mAh g<tspan font-size="9" dy="-6">-1</tspan><tspan dy="6">)</tspan></text>
<text x="0" y="0" transform="translate(52.5,807.5) rotate(-90)" font-family="Liberation Sans" font-size="15" font-weight="bold" fill="#231f20" textLength="85" lengthAdjust="spacingAndGlyphs">Voltage (V)</text>
<text x="100.0" y="711.9" font-family="Liberation Sans" font-size="13.5" font-weight="bold" fill="#231f20" textLength="23.0" lengthAdjust="spacingAndGlyphs" >1st</text>
<path d="M89.70,716.00 C90.93,716.93 94.00,719.43 97.10,721.60 C100.20,723.77 105.05,726.22 108.30,729.00 C111.55,731.78 114.75,734.90 116.60,738.30 C118.45,741.70 118.32,746.00 119.40,749.40 C120.48,752.80 120.62,755.92 123.10,758.70 C125.58,761.48 129.65,763.93 134.30,766.10 C138.95,768.27 145.12,770.15 151.00,771.70 C156.88,773.25 163.93,775.05 169.60,775.40 C175.27,775.75 180.37,774.53 185.00,773.80 C189.63,773.07 193.73,772.05 197.40,771.00 C201.07,769.95 204.23,768.83 207.00,767.50 C209.77,766.17 211.83,764.83 214.00,763.00 C216.17,761.17 218.00,759.00 220.00,756.50 C222.00,754.00 223.68,751.03 226.00,748.00 C228.32,744.97 230.73,742.08 233.90,738.30 C237.07,734.52 240.67,729.63 245.00,725.30 C249.33,720.97 255.88,715.55 259.90,712.30 C263.92,709.05 266.63,707.82 269.10,705.80 C271.57,703.78 273.77,701.13 274.70,700.20" stroke="#4a4a4a" stroke-width="2.5" fill="none" stroke-linecap="round"/>
<path d="M89.30,838.60 C89.98,837.67 91.32,835.80 93.40,833.00 C95.48,830.20 99.93,825.83 101.80,821.80 C103.67,817.77 103.83,813.13 104.60,808.80 C105.37,804.47 105.48,799.50 106.40,795.80 C107.32,792.10 107.32,789.07 110.10,786.60 C112.88,784.13 117.83,782.55 123.10,781.00 C128.37,779.45 134.88,778.07 141.70,777.30 C148.52,776.53 153.28,776.07 164.00,776.40 C174.72,776.73 194.67,778.23 206.00,779.30 C217.33,780.37 225.33,781.60 232.00,782.80 C238.67,784.00 242.58,784.97 246.00,786.50 C249.42,788.03 250.82,789.82 252.50,792.00 C254.18,794.18 254.87,796.48 256.10,799.60 C257.33,802.72 258.03,807.30 259.90,810.70 C261.77,814.10 262.35,816.28 267.30,820.00 C272.25,823.72 281.87,828.05 289.60,833.00 C297.33,837.95 309.68,846.92 313.70,849.70" stroke="#4a4a4a" stroke-width="2.5" fill="none" stroke-linecap="round"/>
<path d="M89.70,710.40 C90.93,712.10 94.32,717.18 97.10,720.60 C99.88,724.02 104.23,727.02 106.40,730.90 C108.57,734.78 109.17,739.57 110.10,743.90 C111.03,748.23 111.07,753.65 112.00,756.90 C112.93,760.15 112.30,761.23 115.70,763.40 C119.10,765.57 126.52,768.05 132.40,769.90 C138.28,771.75 145.73,773.52 151.00,774.50 C156.27,775.48 157.50,775.95 164.00,775.80 C170.50,775.65 183.00,774.43 190.00,773.60 C197.00,772.77 198.68,772.20 206.00,770.80 C213.32,769.40 225.55,767.22 233.90,765.20 C242.25,763.18 250.85,761.33 256.10,758.70 C261.35,756.07 263.23,753.12 265.40,749.40 C267.57,745.68 267.23,740.73 269.10,736.40 C270.97,732.07 272.88,727.42 276.60,723.40 C280.32,719.38 285.68,716.02 291.40,712.30 C297.12,708.58 307.65,702.97 310.90,701.10" stroke="#ee3b3b" stroke-width="2.5" fill="none" stroke-linecap="round"/>
<path d="M89.30,838.60 C89.98,837.82 91.02,836.70 93.40,833.90 C95.78,831.10 101.27,825.35 103.60,821.80 C105.93,818.25 106.47,816.30 107.40,812.60 C108.33,808.90 108.43,803.47 109.20,799.60 C109.97,795.73 109.68,792.18 112.00,789.40 C114.32,786.62 117.53,784.92 123.10,782.90 C128.67,780.88 138.58,778.35 145.40,777.30 C152.22,776.25 153.90,776.30 164.00,776.60 C174.10,776.90 192.82,777.90 206.00,779.10 C219.18,780.30 232.88,781.32 243.10,783.80 C253.32,786.28 261.42,791.07 267.30,794.00 C273.18,796.93 275.62,797.38 278.40,801.40 C281.18,805.42 281.52,813.45 284.00,818.10 C286.48,822.75 288.97,825.58 293.30,829.30 C297.63,833.02 305.52,837.00 310.00,840.40 C314.48,843.80 318.50,848.15 320.20,849.70" stroke="#ee3b3b" stroke-width="2.5" fill="none" stroke-linecap="round"/>
<path d="M89.70,716.00 C90.93,717.23 94.62,720.62 97.10,723.40 C99.58,726.18 102.58,728.98 104.60,732.70 C106.62,736.42 108.12,741.67 109.20,745.70 C110.28,749.73 110.02,754.12 111.10,756.90 C112.18,759.68 112.15,760.40 115.70,762.40 C119.25,764.40 125.58,766.88 132.40,768.90 C139.22,770.92 150.40,773.35 156.60,774.50 C162.80,775.65 161.37,775.65 169.60,775.80 C177.83,775.95 193.75,776.08 206.00,775.40 C218.25,774.72 232.58,773.40 243.10,771.70 C253.62,770.00 262.90,767.67 269.10,765.20 C275.30,762.73 277.82,760.77 280.30,756.90 C282.78,753.03 282.77,746.97 284.00,742.00 C285.23,737.03 285.22,731.75 287.70,727.10 C290.18,722.45 293.17,718.27 298.90,714.10 C304.63,709.93 318.23,704.10 322.10,702.10" stroke="#2a6fe8" stroke-width="2.5" fill="none" stroke-linecap="round"/>
<path d="M90.60,842.30 C91.38,841.05 92.67,837.90 95.30,834.80 C97.93,831.70 103.62,827.40 106.40,823.70 C109.18,820.00 110.60,816.93 112.00,812.60 C113.40,808.27 113.72,801.73 114.80,797.70 C115.88,793.67 115.57,790.87 118.50,788.40 C121.43,785.93 125.43,784.60 132.40,782.90 C139.37,781.20 148.03,779.28 160.30,778.20 C172.57,777.12 190.65,775.93 206.00,776.40 C221.35,776.87 240.63,779.00 252.40,781.00 C264.17,783.00 271.02,785.62 276.60,788.40 C282.18,791.18 283.43,793.05 285.90,797.70 C288.37,802.35 289.23,811.65 291.40,816.30 C293.57,820.95 294.57,821.88 298.90,825.60 C303.23,829.32 312.62,834.58 317.40,838.60 C322.18,842.62 325.90,847.85 327.60,849.70" stroke="#2a6fe8" stroke-width="2.5" fill="none" stroke-linecap="round"/>
<line x1="117.6" y1="811.6" x2="139.9" y2="811.6" stroke="#333" stroke-width="2.8" />
<line x1="117.6" y1="826.5" x2="139.9" y2="826.5" stroke="#ee3b3b" stroke-width="2.5" />
<line x1="117.6" y1="840.4" x2="139.9" y2="840.4" stroke="#2a6fe8" stroke-width="2.5" />
<text x="147.3" y="816.1" font-family="Liberation Sans" font-size="12.5" font-weight="bold" fill="#231f20" textLength="108.7" lengthAdjust="spacingAndGlyphs" >Blank electrolyte</text>
<text x="147.3" y="831.0" font-family="Liberation Sans" font-size="12.5" font-weight="bold" fill="#231f20" textLength="66.4" lengthAdjust="spacingAndGlyphs" >10% PFPN</text>
<text x="147.3" y="844.9" font-family="Liberation Sans" font-size="12.5" font-weight="bold" fill="#231f20" textLength="121.4" lengthAdjust="spacingAndGlyphs" >10% PFPN-reacted</text>
<text x="390.6" y="617.7" font-family="Liberation Sans" font-size="27" font-weight="bold" fill="#111" textLength="16.5" lengthAdjust="spacingAndGlyphs">d</text>
<rect x="438.5" y="625" width="305" height="227.5" fill="none" stroke="#2b2b2b" stroke-width="1.8"/>
<line x1="433.5" y1="852.5" x2="438.5" y2="852.5" stroke="#333" stroke-width="1.5" />
<line x1="433.5" y1="782.0" x2="438.5" y2="782.0" stroke="#333" stroke-width="1.5" />
<line x1="433.5" y1="711.5" x2="438.5" y2="711.5" stroke="#333" stroke-width="1.5" />
<line x1="433.5" y1="641.0" x2="438.5" y2="641.0" stroke="#333" stroke-width="1.5" />
<line x1="435.5" y1="817.2" x2="438.5" y2="817.2" stroke="#333" stroke-width="1.2" />
<line x1="435.5" y1="746.8" x2="438.5" y2="746.8" stroke="#333" stroke-width="1.2" />
<line x1="435.5" y1="676.2" x2="438.5" y2="676.2" stroke="#333" stroke-width="1.2" />
<text x="405.0" y="646.7" font-family="Liberation Sans" font-size="14.5" font-weight="bold" fill="#231f20" textLength="24.5" lengthAdjust="spacingAndGlyphs" >120</text>
<text x="413.0" y="716.7" font-family="Liberation Sans" font-size="14.5" font-weight="bold" fill="#231f20" textLength="16.5" lengthAdjust="spacingAndGlyphs" >80</text>
<text x="413.0" y="786.7" font-family="Liberation Sans" font-size="14.5" font-weight="bold" fill="#231f20" textLength="16.5" lengthAdjust="spacingAndGlyphs" >40</text>
<text x="421.0" y="857.2" font-family="Liberation Sans" font-size="14.5" font-weight="bold" fill="#231f20" textLength="8.5" lengthAdjust="spacingAndGlyphs" >0</text>
<line x1="438.0" y1="852.5" x2="438.0" y2="857.0" stroke="#333" stroke-width="1.5" />
<line x1="538.0" y1="852.5" x2="538.0" y2="857.0" stroke="#333" stroke-width="1.5" />
<line x1="638.0" y1="852.5" x2="638.0" y2="857.0" stroke="#333" stroke-width="1.5" />
<line x1="738.0" y1="852.5" x2="738.0" y2="857.0" stroke="#333" stroke-width="1.5" />
<line x1="488.0" y1="852.5" x2="488.0" y2="855.0" stroke="#333" stroke-width="1.2" />
<line x1="588.0" y1="852.5" x2="588.0" y2="855.0" stroke="#333" stroke-width="1.2" />
<line x1="688.0" y1="852.5" x2="688.0" y2="855.0" stroke="#333" stroke-width="1.2" />
<text x="438.5" y="872.3" text-anchor="middle" font-family="Liberation Sans" font-size="14" font-weight="bold" fill="#231f20">0</text>
<text x="538.5" y="872.3" text-anchor="middle" font-family="Liberation Sans" font-size="14" font-weight="bold" fill="#231f20">10</text>
<text x="638.5" y="872.3" text-anchor="middle" font-family="Liberation Sans" font-size="14" font-weight="bold" fill="#231f20">20</text>
<text x="738.5" y="872.3" text-anchor="middle" font-family="Liberation Sans" font-size="14" font-weight="bold" fill="#231f20">30</text>
<text x="532.5" y="894.9" font-family="Liberation Sans" font-size="16.5" font-weight="bold" fill="#231f20" textLength="122.0" lengthAdjust="spacingAndGlyphs" >Cycle number</text>
<text x="0" y="0" transform="translate(395.5,866) rotate(-90)" font-family="Liberation Sans" font-size="14.5" font-weight="bold" fill="#231f20" textLength="240" lengthAdjust="spacingAndGlyphs">Discharge capacity (mAh g<tspan font-size="8" dy="-5">-1</tspan><tspan dy="5">)</tspan></text>
<polyline points="448.0,662.7 458.0,699.2 468.0,703.0 478.0,705.0 488.0,707.8 498.0,711.0 508.0,714.8 518.0,719.6 528.0,724.7 538.0,729.8 548.0,734.8 558.0,738.6 568.0,742.5 578.0,745.7 588.0,748.5 598.0,750.5 608.0,752.6 618.0,754.5 628.0,755.6 638.0,757.1 648.0,758.4 658.0,760.0 668.0,761.2 678.0,763.1 688.0,764.4 698.0,765.6 708.0,767.0 718.0,768.3 728.0,769.5 738.0,771.1" fill="none" stroke="#111111" stroke-width="2.6" stroke-linejoin="round"/>
<rect x="445.7" y="660.4" width="4.6" height="4.6" fill="#111111"/>
<rect x="455.7" y="696.9" width="4.6" height="4.6" fill="#111111"/>
<rect x="465.7" y="700.7" width="4.6" height="4.6" fill="#111111"/>
<rect x="475.7" y="702.7" width="4.6" height="4.6" fill="#111111"/>
<rect x="485.7" y="705.5" width="4.6" height="4.6" fill="#111111"/>
<rect x="495.7" y="708.7" width="4.6" height="4.6" fill="#111111"/>
<rect x="505.7" y="712.5" width="4.6" height="4.6" fill="#111111"/>
<rect x="515.7" y="717.3" width="4.6" height="4.6" fill="#111111"/>
<rect x="525.7" y="722.4" width="4.6" height="4.6" fill="#111111"/>
<rect x="535.7" y="727.5" width="4.6" height="4.6" fill="#111111"/>
<rect x="545.7" y="732.5" width="4.6" height="4.6" fill="#111111"/>
<rect x="555.7" y="736.3" width="4.6" height="4.6" fill="#111111"/>
<rect x="565.7" y="740.2" width="4.6" height="4.6" fill="#111111"/>
<rect x="575.7" y="743.4" width="4.6" height="4.6" fill="#111111"/>
<rect x="585.7" y="746.2" width="4.6" height="4.6" fill="#111111"/>
<rect x="595.7" y="748.2" width="4.6" height="4.6" fill="#111111"/>
<rect x="605.7" y="750.3" width="4.6" height="4.6" fill="#111111"/>
<rect x="615.7" y="752.2" width="4.6" height="4.6" fill="#111111"/>
<rect x="625.7" y="753.3" width="4.6" height="4.6" fill="#111111"/>
<rect x="635.7" y="754.8" width="4.6" height="4.6" fill="#111111"/>
<rect x="645.7" y="756.1" width="4.6" height="4.6" fill="#111111"/>
<rect x="655.7" y="757.7" width="4.6" height="4.6" fill="#111111"/>
<rect x="665.7" y="758.9" width="4.6" height="4.6" fill="#111111"/>
<rect x="675.7" y="760.8" width="4.6" height="4.6" fill="#111111"/>
<rect x="685.7" y="762.1" width="4.6" height="4.6" fill="#111111"/>
<rect x="695.7" y="763.3" width="4.6" height="4.6" fill="#111111"/>
<rect x="705.7" y="764.7" width="4.6" height="4.6" fill="#111111"/>
<rect x="715.7" y="766.0" width="4.6" height="4.6" fill="#111111"/>
<rect x="725.7" y="767.2" width="4.6" height="4.6" fill="#111111"/>
<rect x="735.7" y="768.8" width="4.6" height="4.6" fill="#111111"/>
<polyline points="448.0,657.6 458.0,669.4 468.0,679.2 478.0,689.1 488.0,695.1 498.0,699.2 508.0,702.2 518.0,706.2 528.0,710.3 538.0,712.9 548.0,715.7 558.0,718.9 568.0,722.1 578.0,724.9 588.0,727.5 598.0,729.8 608.0,731.4 618.0,732.6 628.0,733.9 638.0,734.8 648.0,735.5 658.0,736.4 668.0,737.1 678.0,737.8 688.0,738.6 698.0,739.9 708.0,740.9 718.0,742.5 728.0,744.6 738.0,745.7" fill="none" stroke="#f01c1c" stroke-width="2.4" stroke-linejoin="round"/>
<circle cx="448.0" cy="657.6" r="2.7" fill="#f01c1c"/>
<circle cx="458.0" cy="669.4" r="2.7" fill="#f01c1c"/>
<circle cx="468.0" cy="679.2" r="2.7" fill="#f01c1c"/>
<circle cx="478.0" cy="689.1" r="2.7" fill="#f01c1c"/>
<circle cx="488.0" cy="695.1" r="2.7" fill="#f01c1c"/>
<circle cx="498.0" cy="699.2" r="2.7" fill="#f01c1c"/>
<circle cx="508.0" cy="702.2" r="2.7" fill="#f01c1c"/>
<circle cx="518.0" cy="706.2" r="2.7" fill="#f01c1c"/>
<circle cx="528.0" cy="710.3" r="2.7" fill="#f01c1c"/>
<circle cx="538.0" cy="712.9" r="2.7" fill="#f01c1c"/>
<circle cx="548.0" cy="715.7" r="2.7" fill="#f01c1c"/>
<circle cx="558.0" cy="718.9" r="2.7" fill="#f01c1c"/>
<circle cx="568.0" cy="722.1" r="2.7" fill="#f01c1c"/>
<circle cx="578.0" cy="724.9" r="2.7" fill="#f01c1c"/>
<circle cx="588.0" cy="727.5" r="2.7" fill="#f01c1c"/>
<circle cx="598.0" cy="729.8" r="2.7" fill="#f01c1c"/>
<circle cx="608.0" cy="731.4" r="2.7" fill="#f01c1c"/>
<circle cx="618.0" cy="732.6" r="2.7" fill="#f01c1c"/>
<circle cx="628.0" cy="733.9" r="2.7" fill="#f01c1c"/>
<circle cx="638.0" cy="734.8" r="2.7" fill="#f01c1c"/>
<circle cx="648.0" cy="735.5" r="2.7" fill="#f01c1c"/>
<circle cx="658.0" cy="736.4" r="2.7" fill="#f01c1c"/>
<circle cx="668.0" cy="737.1" r="2.7" fill="#f01c1c"/>
<circle cx="678.0" cy="737.8" r="2.7" fill="#f01c1c"/>
<circle cx="688.0" cy="738.6" r="2.7" fill="#f01c1c"/>
<circle cx="698.0" cy="739.9" r="2.7" fill="#f01c1c"/>
<circle cx="708.0" cy="740.9" r="2.7" fill="#f01c1c"/>
<circle cx="718.0" cy="742.5" r="2.7" fill="#f01c1c"/>
<circle cx="728.0" cy="744.6" r="2.7" fill="#f01c1c"/>
<circle cx="738.0" cy="745.7" r="2.7" fill="#f01c1c"/>
<polyline points="448.0,651.6 458.0,652.8 468.0,654.7 478.0,657.6 488.0,659.5 498.0,664.3 508.0,669.4 518.0,673.4 528.0,676.1 538.0,678.5 548.0,680.5 558.0,682.4 568.0,684.0 578.0,685.6 588.0,686.5 598.0,685.6 608.0,686.5 618.0,688.1 628.0,689.6 638.0,691.2 648.0,693.5 658.0,695.1 668.0,697.0 678.0,699.2 688.0,700.9 698.0,702.2 708.0,703.7 718.0,706.2 728.0,708.5 738.0,711.0" fill="none" stroke="#3a86e8" stroke-width="2.4" stroke-linejoin="round"/>
<polygon points="448.0,648.2 445.0,653.5 451.0,653.5" fill="#3a86e8"/>
<polygon points="458.0,649.4 455.0,654.7 461.0,654.7" fill="#3a86e8"/>
<polygon points="468.0,651.3 465.0,656.6 471.0,656.6" fill="#3a86e8"/>
<polygon points="478.0,654.2 475.0,659.5 481.0,659.5" fill="#3a86e8"/>
<polygon points="488.0,656.1 485.0,661.4 491.0,661.4" fill="#3a86e8"/>
<polygon points="498.0,660.9 495.0,666.2 501.0,666.2" fill="#3a86e8"/>
<polygon points="508.0,666.0 505.0,671.3 511.0,671.3" fill="#3a86e8"/>
<polygon points="518.0,670.0 515.0,675.3 521.0,675.3" fill="#3a86e8"/>
<polygon points="528.0,672.7 525.0,678.0 531.0,678.0" fill="#3a86e8"/>
<polygon points="538.0,675.1 535.0,680.4 541.0,680.4" fill="#3a86e8"/>
<polygon points="548.0,677.1 545.0,682.4 551.0,682.4" fill="#3a86e8"/>
<polygon points="558.0,679.0 555.0,684.3 561.0,684.3" fill="#3a86e8"/>
<polygon points="568.0,680.6 565.0,685.9 571.0,685.9" fill="#3a86e8"/>
<polygon points="578.0,682.2 575.0,687.5 581.0,687.5" fill="#3a86e8"/>
<polygon points="588.0,683.1 585.0,688.4 591.0,688.4" fill="#3a86e8"/>
<polygon points="598.0,682.2 595.0,687.5 601.0,687.5" fill="#3a86e8"/>
<polygon points="608.0,683.1 605.0,688.4 611.0,688.4" fill="#3a86e8"/>
<polygon points="618.0,684.7 615.0,690.0 621.0,690.0" fill="#3a86e8"/>
<polygon points="628.0,686.2 625.0,691.5 631.0,691.5" fill="#3a86e8"/>
<polygon points="638.0,687.8 635.0,693.1 641.0,693.1" fill="#3a86e8"/>
<polygon points="648.0,690.1 645.0,695.4 651.0,695.4" fill="#3a86e8"/>
<polygon points="658.0,691.7 655.0,697.0 661.0,697.0" fill="#3a86e8"/>
<polygon points="668.0,693.6 665.0,698.9 671.0,698.9" fill="#3a86e8"/>
<polygon points="678.0,695.8 675.0,701.1 681.0,701.1" fill="#3a86e8"/>
<polygon points="688.0,697.5 685.0,702.8 691.0,702.8" fill="#3a86e8"/>
<polygon points="698.0,698.8 695.0,704.1 701.0,704.1" fill="#3a86e8"/>
<polygon points="708.0,700.3 705.0,705.6 711.0,705.6" fill="#3a86e8"/>
<polygon points="718.0,702.8 715.0,708.1 721.0,708.1" fill="#3a86e8"/>
<polygon points="728.0,705.1 725.0,710.4 731.0,710.4" fill="#3a86e8"/>
<polygon points="738.0,707.6 735.0,712.9 741.0,712.9" fill="#3a86e8"/>
<text x="699.0" y="698.5" font-family="Liberation Sans" font-size="12.5" font-weight="bold" fill="#3a7fd8" textLength="41.5" lengthAdjust="spacingAndGlyphs" >70.5%</text>
<text x="699.0" y="736.5" font-family="Liberation Sans" font-size="12.5" font-weight="bold" fill="#e8343a" textLength="41.5" lengthAdjust="spacingAndGlyphs" >54.3%</text>
<text x="701.0" y="789.0" font-family="Liberation Sans" font-size="12.5" font-weight="bold" fill="#231f20" textLength="39.5" lengthAdjust="spacingAndGlyphs" >44.0%</text>
<line x1="452.5" y1="792.0" x2="476.0" y2="792.0" stroke="#111111" stroke-width="2.2" />
<rect x="462" y="790" width="4" height="4" fill="#111"/>
<line x1="452.5" y1="807.0" x2="476.0" y2="807.0" stroke="#f01c1c" stroke-width="2.2" />
<circle cx="464" cy="807" r="2.4" fill="#f01c1c"/>
<line x1="452.5" y1="821.0" x2="476.0" y2="821.0" stroke="#3a86e8" stroke-width="2.2" />
<polygon points="464,818.2 461.5,822.6 466.5,822.6" fill="#3a86e8"/>
<text x="483.0" y="796.3" font-family="Liberation Sans" font-size="12" font-weight="bold" fill="#231f20" textLength="109.5" lengthAdjust="spacingAndGlyphs" >Blank electrolyte</text>
<text x="483.0" y="811.3" font-family="Liberation Sans" font-size="12" font-weight="bold" fill="#231f20" textLength="67.0" lengthAdjust="spacingAndGlyphs" >10% PFPN</text>
<text x="483.0" y="825.3" font-family="Liberation Sans" font-size="12" font-weight="bold" fill="#231f20" textLength="122.0" lengthAdjust="spacingAndGlyphs" >10% PFPN-reacted</text>
</svg>
</body></html>
